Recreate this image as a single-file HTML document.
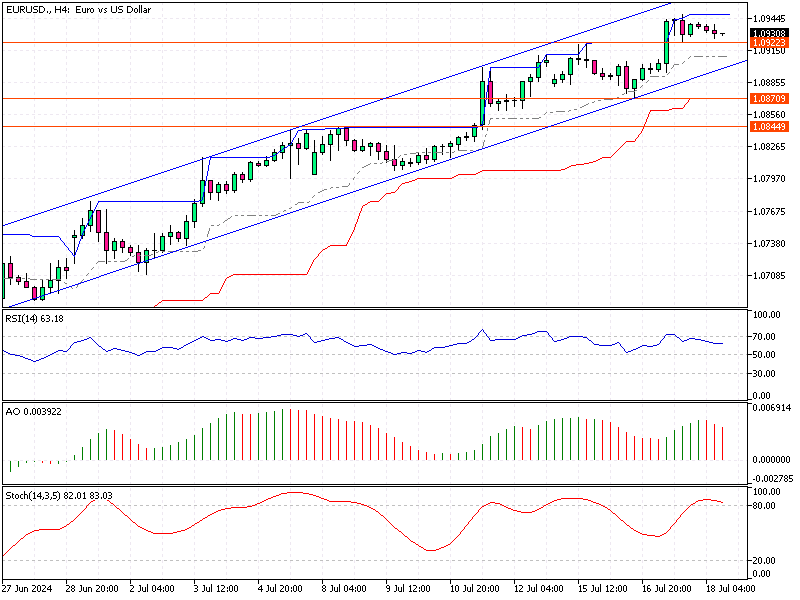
<!DOCTYPE html>
<html><head><meta charset="utf-8"><title>EURUSD H4</title>
<style>
html,body{margin:0;padding:0;background:#fff;}
body{width:800px;height:600px;overflow:hidden;font-family:"Liberation Sans",sans-serif;}
svg{display:block}
svg text{font-family:"Liberation Sans",sans-serif;white-space:pre}
</style></head><body>
<svg width="800" height="600" viewBox="0 0 800 600" shape-rendering="crispEdges" text-rendering="geometricPrecision">
<rect width="800" height="600" fill="#fff"/>
<path d="M34 3v2h1v-2zM34 8v3h1v-3zM34 14v3h1v-3zM34 20v3h1v-3zM34 26v3h1v-3zM34 32v3h1v-3zM34 38v3h1v-3zM34 44v3h1v-3zM34 50v3h1v-3zM34 56v3h1v-3zM34 62v3h1v-3zM34 68v3h1v-3zM34 74v3h1v-3zM34 80v3h1v-3zM34 86v3h1v-3zM34 92v3h1v-3zM34 98v3h1v-3zM34 104v3h1v-3zM34 110v3h1v-3zM34 116v3h1v-3zM34 122v3h1v-3zM34 128v3h1v-3zM34 134v3h1v-3zM34 140v3h1v-3zM34 146v3h1v-3zM34 152v3h1v-3zM34 158v3h1v-3zM34 164v3h1v-3zM34 170v3h1v-3zM34 176v3h1v-3zM34 182v3h1v-3zM34 188v3h1v-3zM34 194v3h1v-3zM34 200v3h1v-3zM34 206v3h1v-3zM34 212v3h1v-3zM34 218v3h1v-3zM34 224v3h1v-3zM34 230v3h1v-3zM34 236v3h1v-3zM34 242v3h1v-3zM34 248v3h1v-3zM34 254v3h1v-3zM34 260v3h1v-3zM34 266v3h1v-3zM34 272v3h1v-3zM34 278v3h1v-3zM34 284v3h1v-3zM34 290v3h1v-3zM34 296v3h1v-3zM34 302v3h1v-3z" fill="#EEE8F1"/>
<path d="M66 3v2h1v-2zM66 8v3h1v-3zM66 14v3h1v-3zM66 20v3h1v-3zM66 26v3h1v-3zM66 32v3h1v-3zM66 38v3h1v-3zM66 44v3h1v-3zM66 50v3h1v-3zM66 56v3h1v-3zM66 62v3h1v-3zM66 68v3h1v-3zM66 74v3h1v-3zM66 80v3h1v-3zM66 86v3h1v-3zM66 92v3h1v-3zM66 98v3h1v-3zM66 104v3h1v-3zM66 110v3h1v-3zM66 116v3h1v-3zM66 122v3h1v-3zM66 128v3h1v-3zM66 134v3h1v-3zM66 140v3h1v-3zM66 146v3h1v-3zM66 152v3h1v-3zM66 158v3h1v-3zM66 164v3h1v-3zM66 170v3h1v-3zM66 176v3h1v-3zM66 182v3h1v-3zM66 188v3h1v-3zM66 194v3h1v-3zM66 200v3h1v-3zM66 206v3h1v-3zM66 212v3h1v-3zM66 218v3h1v-3zM66 224v3h1v-3zM66 230v3h1v-3zM66 236v3h1v-3zM66 242v3h1v-3zM66 248v3h1v-3zM66 254v3h1v-3zM66 260v3h1v-3zM66 266v3h1v-3zM66 272v3h1v-3zM66 278v3h1v-3zM66 284v3h1v-3zM66 290v3h1v-3zM66 296v3h1v-3zM66 302v3h1v-3z" fill="#EEE8F1"/>
<path d="M98 3v2h1v-2zM98 8v3h1v-3zM98 14v3h1v-3zM98 20v3h1v-3zM98 26v3h1v-3zM98 32v3h1v-3zM98 38v3h1v-3zM98 44v3h1v-3zM98 50v3h1v-3zM98 56v3h1v-3zM98 62v3h1v-3zM98 68v3h1v-3zM98 74v3h1v-3zM98 80v3h1v-3zM98 86v3h1v-3zM98 92v3h1v-3zM98 98v3h1v-3zM98 104v3h1v-3zM98 110v3h1v-3zM98 116v3h1v-3zM98 122v3h1v-3zM98 128v3h1v-3zM98 134v3h1v-3zM98 140v3h1v-3zM98 146v3h1v-3zM98 152v3h1v-3zM98 158v3h1v-3zM98 164v3h1v-3zM98 170v3h1v-3zM98 176v3h1v-3zM98 182v3h1v-3zM98 188v3h1v-3zM98 194v3h1v-3zM98 200v3h1v-3zM98 206v3h1v-3zM98 212v3h1v-3zM98 218v3h1v-3zM98 224v3h1v-3zM98 230v3h1v-3zM98 236v3h1v-3zM98 242v3h1v-3zM98 248v3h1v-3zM98 254v3h1v-3zM98 260v3h1v-3zM98 266v3h1v-3zM98 272v3h1v-3zM98 278v3h1v-3zM98 284v3h1v-3zM98 290v3h1v-3zM98 296v3h1v-3zM98 302v3h1v-3z" fill="#EEE8F1"/>
<path d="M130 3v2h1v-2zM130 8v3h1v-3zM130 14v3h1v-3zM130 20v3h1v-3zM130 26v3h1v-3zM130 32v3h1v-3zM130 38v3h1v-3zM130 44v3h1v-3zM130 50v3h1v-3zM130 56v3h1v-3zM130 62v3h1v-3zM130 68v3h1v-3zM130 74v3h1v-3zM130 80v3h1v-3zM130 86v3h1v-3zM130 92v3h1v-3zM130 98v3h1v-3zM130 104v3h1v-3zM130 110v3h1v-3zM130 116v3h1v-3zM130 122v3h1v-3zM130 128v3h1v-3zM130 134v3h1v-3zM130 140v3h1v-3zM130 146v3h1v-3zM130 152v3h1v-3zM130 158v3h1v-3zM130 164v3h1v-3zM130 170v3h1v-3zM130 176v3h1v-3zM130 182v3h1v-3zM130 188v3h1v-3zM130 194v3h1v-3zM130 200v3h1v-3zM130 206v3h1v-3zM130 212v3h1v-3zM130 218v3h1v-3zM130 224v3h1v-3zM130 230v3h1v-3zM130 236v3h1v-3zM130 242v3h1v-3zM130 248v3h1v-3zM130 254v3h1v-3zM130 260v3h1v-3zM130 266v3h1v-3zM130 272v3h1v-3zM130 278v3h1v-3zM130 284v3h1v-3zM130 290v3h1v-3zM130 296v3h1v-3zM130 302v3h1v-3z" fill="#EEE8F1"/>
<path d="M162 3v2h1v-2zM162 8v3h1v-3zM162 14v3h1v-3zM162 20v3h1v-3zM162 26v3h1v-3zM162 32v3h1v-3zM162 38v3h1v-3zM162 44v3h1v-3zM162 50v3h1v-3zM162 56v3h1v-3zM162 62v3h1v-3zM162 68v3h1v-3zM162 74v3h1v-3zM162 80v3h1v-3zM162 86v3h1v-3zM162 92v3h1v-3zM162 98v3h1v-3zM162 104v3h1v-3zM162 110v3h1v-3zM162 116v3h1v-3zM162 122v3h1v-3zM162 128v3h1v-3zM162 134v3h1v-3zM162 140v3h1v-3zM162 146v3h1v-3zM162 152v3h1v-3zM162 158v3h1v-3zM162 164v3h1v-3zM162 170v3h1v-3zM162 176v3h1v-3zM162 182v3h1v-3zM162 188v3h1v-3zM162 194v3h1v-3zM162 200v3h1v-3zM162 206v3h1v-3zM162 212v3h1v-3zM162 218v3h1v-3zM162 224v3h1v-3zM162 230v3h1v-3zM162 236v3h1v-3zM162 242v3h1v-3zM162 248v3h1v-3zM162 254v3h1v-3zM162 260v3h1v-3zM162 266v3h1v-3zM162 272v3h1v-3zM162 278v3h1v-3zM162 284v3h1v-3zM162 290v3h1v-3zM162 296v3h1v-3zM162 302v3h1v-3z" fill="#EEE8F1"/>
<path d="M194 3v2h1v-2zM194 8v3h1v-3zM194 14v3h1v-3zM194 20v3h1v-3zM194 26v3h1v-3zM194 32v3h1v-3zM194 38v3h1v-3zM194 44v3h1v-3zM194 50v3h1v-3zM194 56v3h1v-3zM194 62v3h1v-3zM194 68v3h1v-3zM194 74v3h1v-3zM194 80v3h1v-3zM194 86v3h1v-3zM194 92v3h1v-3zM194 98v3h1v-3zM194 104v3h1v-3zM194 110v3h1v-3zM194 116v3h1v-3zM194 122v3h1v-3zM194 128v3h1v-3zM194 134v3h1v-3zM194 140v3h1v-3zM194 146v3h1v-3zM194 152v3h1v-3zM194 158v3h1v-3zM194 164v3h1v-3zM194 170v3h1v-3zM194 176v3h1v-3zM194 182v3h1v-3zM194 188v3h1v-3zM194 194v3h1v-3zM194 200v3h1v-3zM194 206v3h1v-3zM194 212v3h1v-3zM194 218v3h1v-3zM194 224v3h1v-3zM194 230v3h1v-3zM194 236v3h1v-3zM194 242v3h1v-3zM194 248v3h1v-3zM194 254v3h1v-3zM194 260v3h1v-3zM194 266v3h1v-3zM194 272v3h1v-3zM194 278v3h1v-3zM194 284v3h1v-3zM194 290v3h1v-3zM194 296v3h1v-3zM194 302v3h1v-3z" fill="#EEE8F1"/>
<path d="M226 3v2h1v-2zM226 8v3h1v-3zM226 14v3h1v-3zM226 20v3h1v-3zM226 26v3h1v-3zM226 32v3h1v-3zM226 38v3h1v-3zM226 44v3h1v-3zM226 50v3h1v-3zM226 56v3h1v-3zM226 62v3h1v-3zM226 68v3h1v-3zM226 74v3h1v-3zM226 80v3h1v-3zM226 86v3h1v-3zM226 92v3h1v-3zM226 98v3h1v-3zM226 104v3h1v-3zM226 110v3h1v-3zM226 116v3h1v-3zM226 122v3h1v-3zM226 128v3h1v-3zM226 134v3h1v-3zM226 140v3h1v-3zM226 146v3h1v-3zM226 152v3h1v-3zM226 158v3h1v-3zM226 164v3h1v-3zM226 170v3h1v-3zM226 176v3h1v-3zM226 182v3h1v-3zM226 188v3h1v-3zM226 194v3h1v-3zM226 200v3h1v-3zM226 206v3h1v-3zM226 212v3h1v-3zM226 218v3h1v-3zM226 224v3h1v-3zM226 230v3h1v-3zM226 236v3h1v-3zM226 242v3h1v-3zM226 248v3h1v-3zM226 254v3h1v-3zM226 260v3h1v-3zM226 266v3h1v-3zM226 272v3h1v-3zM226 278v3h1v-3zM226 284v3h1v-3zM226 290v3h1v-3zM226 296v3h1v-3zM226 302v3h1v-3z" fill="#EEE8F1"/>
<path d="M258 3v2h1v-2zM258 8v3h1v-3zM258 14v3h1v-3zM258 20v3h1v-3zM258 26v3h1v-3zM258 32v3h1v-3zM258 38v3h1v-3zM258 44v3h1v-3zM258 50v3h1v-3zM258 56v3h1v-3zM258 62v3h1v-3zM258 68v3h1v-3zM258 74v3h1v-3zM258 80v3h1v-3zM258 86v3h1v-3zM258 92v3h1v-3zM258 98v3h1v-3zM258 104v3h1v-3zM258 110v3h1v-3zM258 116v3h1v-3zM258 122v3h1v-3zM258 128v3h1v-3zM258 134v3h1v-3zM258 140v3h1v-3zM258 146v3h1v-3zM258 152v3h1v-3zM258 158v3h1v-3zM258 164v3h1v-3zM258 170v3h1v-3zM258 176v3h1v-3zM258 182v3h1v-3zM258 188v3h1v-3zM258 194v3h1v-3zM258 200v3h1v-3zM258 206v3h1v-3zM258 212v3h1v-3zM258 218v3h1v-3zM258 224v3h1v-3zM258 230v3h1v-3zM258 236v3h1v-3zM258 242v3h1v-3zM258 248v3h1v-3zM258 254v3h1v-3zM258 260v3h1v-3zM258 266v3h1v-3zM258 272v3h1v-3zM258 278v3h1v-3zM258 284v3h1v-3zM258 290v3h1v-3zM258 296v3h1v-3zM258 302v3h1v-3z" fill="#EEE8F1"/>
<path d="M290 3v2h1v-2zM290 8v3h1v-3zM290 14v3h1v-3zM290 20v3h1v-3zM290 26v3h1v-3zM290 32v3h1v-3zM290 38v3h1v-3zM290 44v3h1v-3zM290 50v3h1v-3zM290 56v3h1v-3zM290 62v3h1v-3zM290 68v3h1v-3zM290 74v3h1v-3zM290 80v3h1v-3zM290 86v3h1v-3zM290 92v3h1v-3zM290 98v3h1v-3zM290 104v3h1v-3zM290 110v3h1v-3zM290 116v3h1v-3zM290 122v3h1v-3zM290 128v3h1v-3zM290 134v3h1v-3zM290 140v3h1v-3zM290 146v3h1v-3zM290 152v3h1v-3zM290 158v3h1v-3zM290 164v3h1v-3zM290 170v3h1v-3zM290 176v3h1v-3zM290 182v3h1v-3zM290 188v3h1v-3zM290 194v3h1v-3zM290 200v3h1v-3zM290 206v3h1v-3zM290 212v3h1v-3zM290 218v3h1v-3zM290 224v3h1v-3zM290 230v3h1v-3zM290 236v3h1v-3zM290 242v3h1v-3zM290 248v3h1v-3zM290 254v3h1v-3zM290 260v3h1v-3zM290 266v3h1v-3zM290 272v3h1v-3zM290 278v3h1v-3zM290 284v3h1v-3zM290 290v3h1v-3zM290 296v3h1v-3zM290 302v3h1v-3z" fill="#EEE8F1"/>
<path d="M322 3v2h1v-2zM322 8v3h1v-3zM322 14v3h1v-3zM322 20v3h1v-3zM322 26v3h1v-3zM322 32v3h1v-3zM322 38v3h1v-3zM322 44v3h1v-3zM322 50v3h1v-3zM322 56v3h1v-3zM322 62v3h1v-3zM322 68v3h1v-3zM322 74v3h1v-3zM322 80v3h1v-3zM322 86v3h1v-3zM322 92v3h1v-3zM322 98v3h1v-3zM322 104v3h1v-3zM322 110v3h1v-3zM322 116v3h1v-3zM322 122v3h1v-3zM322 128v3h1v-3zM322 134v3h1v-3zM322 140v3h1v-3zM322 146v3h1v-3zM322 152v3h1v-3zM322 158v3h1v-3zM322 164v3h1v-3zM322 170v3h1v-3zM322 176v3h1v-3zM322 182v3h1v-3zM322 188v3h1v-3zM322 194v3h1v-3zM322 200v3h1v-3zM322 206v3h1v-3zM322 212v3h1v-3zM322 218v3h1v-3zM322 224v3h1v-3zM322 230v3h1v-3zM322 236v3h1v-3zM322 242v3h1v-3zM322 248v3h1v-3zM322 254v3h1v-3zM322 260v3h1v-3zM322 266v3h1v-3zM322 272v3h1v-3zM322 278v3h1v-3zM322 284v3h1v-3zM322 290v3h1v-3zM322 296v3h1v-3zM322 302v3h1v-3z" fill="#EEE8F1"/>
<path d="M354 3v2h1v-2zM354 8v3h1v-3zM354 14v3h1v-3zM354 20v3h1v-3zM354 26v3h1v-3zM354 32v3h1v-3zM354 38v3h1v-3zM354 44v3h1v-3zM354 50v3h1v-3zM354 56v3h1v-3zM354 62v3h1v-3zM354 68v3h1v-3zM354 74v3h1v-3zM354 80v3h1v-3zM354 86v3h1v-3zM354 92v3h1v-3zM354 98v3h1v-3zM354 104v3h1v-3zM354 110v3h1v-3zM354 116v3h1v-3zM354 122v3h1v-3zM354 128v3h1v-3zM354 134v3h1v-3zM354 140v3h1v-3zM354 146v3h1v-3zM354 152v3h1v-3zM354 158v3h1v-3zM354 164v3h1v-3zM354 170v3h1v-3zM354 176v3h1v-3zM354 182v3h1v-3zM354 188v3h1v-3zM354 194v3h1v-3zM354 200v3h1v-3zM354 206v3h1v-3zM354 212v3h1v-3zM354 218v3h1v-3zM354 224v3h1v-3zM354 230v3h1v-3zM354 236v3h1v-3zM354 242v3h1v-3zM354 248v3h1v-3zM354 254v3h1v-3zM354 260v3h1v-3zM354 266v3h1v-3zM354 272v3h1v-3zM354 278v3h1v-3zM354 284v3h1v-3zM354 290v3h1v-3zM354 296v3h1v-3zM354 302v3h1v-3z" fill="#EEE8F1"/>
<path d="M386 3v2h1v-2zM386 8v3h1v-3zM386 14v3h1v-3zM386 20v3h1v-3zM386 26v3h1v-3zM386 32v3h1v-3zM386 38v3h1v-3zM386 44v3h1v-3zM386 50v3h1v-3zM386 56v3h1v-3zM386 62v3h1v-3zM386 68v3h1v-3zM386 74v3h1v-3zM386 80v3h1v-3zM386 86v3h1v-3zM386 92v3h1v-3zM386 98v3h1v-3zM386 104v3h1v-3zM386 110v3h1v-3zM386 116v3h1v-3zM386 122v3h1v-3zM386 128v3h1v-3zM386 134v3h1v-3zM386 140v3h1v-3zM386 146v3h1v-3zM386 152v3h1v-3zM386 158v3h1v-3zM386 164v3h1v-3zM386 170v3h1v-3zM386 176v3h1v-3zM386 182v3h1v-3zM386 188v3h1v-3zM386 194v3h1v-3zM386 200v3h1v-3zM386 206v3h1v-3zM386 212v3h1v-3zM386 218v3h1v-3zM386 224v3h1v-3zM386 230v3h1v-3zM386 236v3h1v-3zM386 242v3h1v-3zM386 248v3h1v-3zM386 254v3h1v-3zM386 260v3h1v-3zM386 266v3h1v-3zM386 272v3h1v-3zM386 278v3h1v-3zM386 284v3h1v-3zM386 290v3h1v-3zM386 296v3h1v-3zM386 302v3h1v-3z" fill="#EEE8F1"/>
<path d="M418 3v2h1v-2zM418 8v3h1v-3zM418 14v3h1v-3zM418 20v3h1v-3zM418 26v3h1v-3zM418 32v3h1v-3zM418 38v3h1v-3zM418 44v3h1v-3zM418 50v3h1v-3zM418 56v3h1v-3zM418 62v3h1v-3zM418 68v3h1v-3zM418 74v3h1v-3zM418 80v3h1v-3zM418 86v3h1v-3zM418 92v3h1v-3zM418 98v3h1v-3zM418 104v3h1v-3zM418 110v3h1v-3zM418 116v3h1v-3zM418 122v3h1v-3zM418 128v3h1v-3zM418 134v3h1v-3zM418 140v3h1v-3zM418 146v3h1v-3zM418 152v3h1v-3zM418 158v3h1v-3zM418 164v3h1v-3zM418 170v3h1v-3zM418 176v3h1v-3zM418 182v3h1v-3zM418 188v3h1v-3zM418 194v3h1v-3zM418 200v3h1v-3zM418 206v3h1v-3zM418 212v3h1v-3zM418 218v3h1v-3zM418 224v3h1v-3zM418 230v3h1v-3zM418 236v3h1v-3zM418 242v3h1v-3zM418 248v3h1v-3zM418 254v3h1v-3zM418 260v3h1v-3zM418 266v3h1v-3zM418 272v3h1v-3zM418 278v3h1v-3zM418 284v3h1v-3zM418 290v3h1v-3zM418 296v3h1v-3zM418 302v3h1v-3z" fill="#EEE8F1"/>
<path d="M450 3v2h1v-2zM450 8v3h1v-3zM450 14v3h1v-3zM450 20v3h1v-3zM450 26v3h1v-3zM450 32v3h1v-3zM450 38v3h1v-3zM450 44v3h1v-3zM450 50v3h1v-3zM450 56v3h1v-3zM450 62v3h1v-3zM450 68v3h1v-3zM450 74v3h1v-3zM450 80v3h1v-3zM450 86v3h1v-3zM450 92v3h1v-3zM450 98v3h1v-3zM450 104v3h1v-3zM450 110v3h1v-3zM450 116v3h1v-3zM450 122v3h1v-3zM450 128v3h1v-3zM450 134v3h1v-3zM450 140v3h1v-3zM450 146v3h1v-3zM450 152v3h1v-3zM450 158v3h1v-3zM450 164v3h1v-3zM450 170v3h1v-3zM450 176v3h1v-3zM450 182v3h1v-3zM450 188v3h1v-3zM450 194v3h1v-3zM450 200v3h1v-3zM450 206v3h1v-3zM450 212v3h1v-3zM450 218v3h1v-3zM450 224v3h1v-3zM450 230v3h1v-3zM450 236v3h1v-3zM450 242v3h1v-3zM450 248v3h1v-3zM450 254v3h1v-3zM450 260v3h1v-3zM450 266v3h1v-3zM450 272v3h1v-3zM450 278v3h1v-3zM450 284v3h1v-3zM450 290v3h1v-3zM450 296v3h1v-3zM450 302v3h1v-3z" fill="#EEE8F1"/>
<path d="M482 3v2h1v-2zM482 8v3h1v-3zM482 14v3h1v-3zM482 20v3h1v-3zM482 26v3h1v-3zM482 32v3h1v-3zM482 38v3h1v-3zM482 44v3h1v-3zM482 50v3h1v-3zM482 56v3h1v-3zM482 62v3h1v-3zM482 68v3h1v-3zM482 74v3h1v-3zM482 80v3h1v-3zM482 86v3h1v-3zM482 92v3h1v-3zM482 98v3h1v-3zM482 104v3h1v-3zM482 110v3h1v-3zM482 116v3h1v-3zM482 122v3h1v-3zM482 128v3h1v-3zM482 134v3h1v-3zM482 140v3h1v-3zM482 146v3h1v-3zM482 152v3h1v-3zM482 158v3h1v-3zM482 164v3h1v-3zM482 170v3h1v-3zM482 176v3h1v-3zM482 182v3h1v-3zM482 188v3h1v-3zM482 194v3h1v-3zM482 200v3h1v-3zM482 206v3h1v-3zM482 212v3h1v-3zM482 218v3h1v-3zM482 224v3h1v-3zM482 230v3h1v-3zM482 236v3h1v-3zM482 242v3h1v-3zM482 248v3h1v-3zM482 254v3h1v-3zM482 260v3h1v-3zM482 266v3h1v-3zM482 272v3h1v-3zM482 278v3h1v-3zM482 284v3h1v-3zM482 290v3h1v-3zM482 296v3h1v-3zM482 302v3h1v-3z" fill="#EEE8F1"/>
<path d="M514 3v2h1v-2zM514 8v3h1v-3zM514 14v3h1v-3zM514 20v3h1v-3zM514 26v3h1v-3zM514 32v3h1v-3zM514 38v3h1v-3zM514 44v3h1v-3zM514 50v3h1v-3zM514 56v3h1v-3zM514 62v3h1v-3zM514 68v3h1v-3zM514 74v3h1v-3zM514 80v3h1v-3zM514 86v3h1v-3zM514 92v3h1v-3zM514 98v3h1v-3zM514 104v3h1v-3zM514 110v3h1v-3zM514 116v3h1v-3zM514 122v3h1v-3zM514 128v3h1v-3zM514 134v3h1v-3zM514 140v3h1v-3zM514 146v3h1v-3zM514 152v3h1v-3zM514 158v3h1v-3zM514 164v3h1v-3zM514 170v3h1v-3zM514 176v3h1v-3zM514 182v3h1v-3zM514 188v3h1v-3zM514 194v3h1v-3zM514 200v3h1v-3zM514 206v3h1v-3zM514 212v3h1v-3zM514 218v3h1v-3zM514 224v3h1v-3zM514 230v3h1v-3zM514 236v3h1v-3zM514 242v3h1v-3zM514 248v3h1v-3zM514 254v3h1v-3zM514 260v3h1v-3zM514 266v3h1v-3zM514 272v3h1v-3zM514 278v3h1v-3zM514 284v3h1v-3zM514 290v3h1v-3zM514 296v3h1v-3zM514 302v3h1v-3z" fill="#EEE8F1"/>
<path d="M546 3v2h1v-2zM546 8v3h1v-3zM546 14v3h1v-3zM546 20v3h1v-3zM546 26v3h1v-3zM546 32v3h1v-3zM546 38v3h1v-3zM546 44v3h1v-3zM546 50v3h1v-3zM546 56v3h1v-3zM546 62v3h1v-3zM546 68v3h1v-3zM546 74v3h1v-3zM546 80v3h1v-3zM546 86v3h1v-3zM546 92v3h1v-3zM546 98v3h1v-3zM546 104v3h1v-3zM546 110v3h1v-3zM546 116v3h1v-3zM546 122v3h1v-3zM546 128v3h1v-3zM546 134v3h1v-3zM546 140v3h1v-3zM546 146v3h1v-3zM546 152v3h1v-3zM546 158v3h1v-3zM546 164v3h1v-3zM546 170v3h1v-3zM546 176v3h1v-3zM546 182v3h1v-3zM546 188v3h1v-3zM546 194v3h1v-3zM546 200v3h1v-3zM546 206v3h1v-3zM546 212v3h1v-3zM546 218v3h1v-3zM546 224v3h1v-3zM546 230v3h1v-3zM546 236v3h1v-3zM546 242v3h1v-3zM546 248v3h1v-3zM546 254v3h1v-3zM546 260v3h1v-3zM546 266v3h1v-3zM546 272v3h1v-3zM546 278v3h1v-3zM546 284v3h1v-3zM546 290v3h1v-3zM546 296v3h1v-3zM546 302v3h1v-3z" fill="#EEE8F1"/>
<path d="M578 3v2h1v-2zM578 8v3h1v-3zM578 14v3h1v-3zM578 20v3h1v-3zM578 26v3h1v-3zM578 32v3h1v-3zM578 38v3h1v-3zM578 44v3h1v-3zM578 50v3h1v-3zM578 56v3h1v-3zM578 62v3h1v-3zM578 68v3h1v-3zM578 74v3h1v-3zM578 80v3h1v-3zM578 86v3h1v-3zM578 92v3h1v-3zM578 98v3h1v-3zM578 104v3h1v-3zM578 110v3h1v-3zM578 116v3h1v-3zM578 122v3h1v-3zM578 128v3h1v-3zM578 134v3h1v-3zM578 140v3h1v-3zM578 146v3h1v-3zM578 152v3h1v-3zM578 158v3h1v-3zM578 164v3h1v-3zM578 170v3h1v-3zM578 176v3h1v-3zM578 182v3h1v-3zM578 188v3h1v-3zM578 194v3h1v-3zM578 200v3h1v-3zM578 206v3h1v-3zM578 212v3h1v-3zM578 218v3h1v-3zM578 224v3h1v-3zM578 230v3h1v-3zM578 236v3h1v-3zM578 242v3h1v-3zM578 248v3h1v-3zM578 254v3h1v-3zM578 260v3h1v-3zM578 266v3h1v-3zM578 272v3h1v-3zM578 278v3h1v-3zM578 284v3h1v-3zM578 290v3h1v-3zM578 296v3h1v-3zM578 302v3h1v-3z" fill="#EEE8F1"/>
<path d="M610 3v2h1v-2zM610 8v3h1v-3zM610 14v3h1v-3zM610 20v3h1v-3zM610 26v3h1v-3zM610 32v3h1v-3zM610 38v3h1v-3zM610 44v3h1v-3zM610 50v3h1v-3zM610 56v3h1v-3zM610 62v3h1v-3zM610 68v3h1v-3zM610 74v3h1v-3zM610 80v3h1v-3zM610 86v3h1v-3zM610 92v3h1v-3zM610 98v3h1v-3zM610 104v3h1v-3zM610 110v3h1v-3zM610 116v3h1v-3zM610 122v3h1v-3zM610 128v3h1v-3zM610 134v3h1v-3zM610 140v3h1v-3zM610 146v3h1v-3zM610 152v3h1v-3zM610 158v3h1v-3zM610 164v3h1v-3zM610 170v3h1v-3zM610 176v3h1v-3zM610 182v3h1v-3zM610 188v3h1v-3zM610 194v3h1v-3zM610 200v3h1v-3zM610 206v3h1v-3zM610 212v3h1v-3zM610 218v3h1v-3zM610 224v3h1v-3zM610 230v3h1v-3zM610 236v3h1v-3zM610 242v3h1v-3zM610 248v3h1v-3zM610 254v3h1v-3zM610 260v3h1v-3zM610 266v3h1v-3zM610 272v3h1v-3zM610 278v3h1v-3zM610 284v3h1v-3zM610 290v3h1v-3zM610 296v3h1v-3zM610 302v3h1v-3z" fill="#EEE8F1"/>
<path d="M642 3v2h1v-2zM642 8v3h1v-3zM642 14v3h1v-3zM642 20v3h1v-3zM642 26v3h1v-3zM642 32v3h1v-3zM642 38v3h1v-3zM642 44v3h1v-3zM642 50v3h1v-3zM642 56v3h1v-3zM642 62v3h1v-3zM642 68v3h1v-3zM642 74v3h1v-3zM642 80v3h1v-3zM642 86v3h1v-3zM642 92v3h1v-3zM642 98v3h1v-3zM642 104v3h1v-3zM642 110v3h1v-3zM642 116v3h1v-3zM642 122v3h1v-3zM642 128v3h1v-3zM642 134v3h1v-3zM642 140v3h1v-3zM642 146v3h1v-3zM642 152v3h1v-3zM642 158v3h1v-3zM642 164v3h1v-3zM642 170v3h1v-3zM642 176v3h1v-3zM642 182v3h1v-3zM642 188v3h1v-3zM642 194v3h1v-3zM642 200v3h1v-3zM642 206v3h1v-3zM642 212v3h1v-3zM642 218v3h1v-3zM642 224v3h1v-3zM642 230v3h1v-3zM642 236v3h1v-3zM642 242v3h1v-3zM642 248v3h1v-3zM642 254v3h1v-3zM642 260v3h1v-3zM642 266v3h1v-3zM642 272v3h1v-3zM642 278v3h1v-3zM642 284v3h1v-3zM642 290v3h1v-3zM642 296v3h1v-3zM642 302v3h1v-3z" fill="#EEE8F1"/>
<path d="M674 3v2h1v-2zM674 8v3h1v-3zM674 14v3h1v-3zM674 20v3h1v-3zM674 26v3h1v-3zM674 32v3h1v-3zM674 38v3h1v-3zM674 44v3h1v-3zM674 50v3h1v-3zM674 56v3h1v-3zM674 62v3h1v-3zM674 68v3h1v-3zM674 74v3h1v-3zM674 80v3h1v-3zM674 86v3h1v-3zM674 92v3h1v-3zM674 98v3h1v-3zM674 104v3h1v-3zM674 110v3h1v-3zM674 116v3h1v-3zM674 122v3h1v-3zM674 128v3h1v-3zM674 134v3h1v-3zM674 140v3h1v-3zM674 146v3h1v-3zM674 152v3h1v-3zM674 158v3h1v-3zM674 164v3h1v-3zM674 170v3h1v-3zM674 176v3h1v-3zM674 182v3h1v-3zM674 188v3h1v-3zM674 194v3h1v-3zM674 200v3h1v-3zM674 206v3h1v-3zM674 212v3h1v-3zM674 218v3h1v-3zM674 224v3h1v-3zM674 230v3h1v-3zM674 236v3h1v-3zM674 242v3h1v-3zM674 248v3h1v-3zM674 254v3h1v-3zM674 260v3h1v-3zM674 266v3h1v-3zM674 272v3h1v-3zM674 278v3h1v-3zM674 284v3h1v-3zM674 290v3h1v-3zM674 296v3h1v-3zM674 302v3h1v-3z" fill="#EEE8F1"/>
<path d="M706 3v2h1v-2zM706 8v3h1v-3zM706 14v3h1v-3zM706 20v3h1v-3zM706 26v3h1v-3zM706 32v3h1v-3zM706 38v3h1v-3zM706 44v3h1v-3zM706 50v3h1v-3zM706 56v3h1v-3zM706 62v3h1v-3zM706 68v3h1v-3zM706 74v3h1v-3zM706 80v3h1v-3zM706 86v3h1v-3zM706 92v3h1v-3zM706 98v3h1v-3zM706 104v3h1v-3zM706 110v3h1v-3zM706 116v3h1v-3zM706 122v3h1v-3zM706 128v3h1v-3zM706 134v3h1v-3zM706 140v3h1v-3zM706 146v3h1v-3zM706 152v3h1v-3zM706 158v3h1v-3zM706 164v3h1v-3zM706 170v3h1v-3zM706 176v3h1v-3zM706 182v3h1v-3zM706 188v3h1v-3zM706 194v3h1v-3zM706 200v3h1v-3zM706 206v3h1v-3zM706 212v3h1v-3zM706 218v3h1v-3zM706 224v3h1v-3zM706 230v3h1v-3zM706 236v3h1v-3zM706 242v3h1v-3zM706 248v3h1v-3zM706 254v3h1v-3zM706 260v3h1v-3zM706 266v3h1v-3zM706 272v3h1v-3zM706 278v3h1v-3zM706 284v3h1v-3zM706 290v3h1v-3zM706 296v3h1v-3zM706 302v3h1v-3z" fill="#EEE8F1"/>
<path d="M738 3v2h1v-2zM738 8v3h1v-3zM738 14v3h1v-3zM738 20v3h1v-3zM738 26v3h1v-3zM738 32v3h1v-3zM738 38v3h1v-3zM738 44v3h1v-3zM738 50v3h1v-3zM738 56v3h1v-3zM738 62v3h1v-3zM738 68v3h1v-3zM738 74v3h1v-3zM738 80v3h1v-3zM738 86v3h1v-3zM738 92v3h1v-3zM738 98v3h1v-3zM738 104v3h1v-3zM738 110v3h1v-3zM738 116v3h1v-3zM738 122v3h1v-3zM738 128v3h1v-3zM738 134v3h1v-3zM738 140v3h1v-3zM738 146v3h1v-3zM738 152v3h1v-3zM738 158v3h1v-3zM738 164v3h1v-3zM738 170v3h1v-3zM738 176v3h1v-3zM738 182v3h1v-3zM738 188v3h1v-3zM738 194v3h1v-3zM738 200v3h1v-3zM738 206v3h1v-3zM738 212v3h1v-3zM738 218v3h1v-3zM738 224v3h1v-3zM738 230v3h1v-3zM738 236v3h1v-3zM738 242v3h1v-3zM738 248v3h1v-3zM738 254v3h1v-3zM738 260v3h1v-3zM738 266v3h1v-3zM738 272v3h1v-3zM738 278v3h1v-3zM738 284v3h1v-3zM738 290v3h1v-3zM738 296v3h1v-3zM738 302v3h1v-3z" fill="#EEE8F1"/>
<path d="M34 310v1h1v-1zM34 314v3h1v-3zM34 320v3h1v-3zM34 326v3h1v-3zM34 332v3h1v-3zM34 338v3h1v-3zM34 344v3h1v-3zM34 350v3h1v-3zM34 356v3h1v-3zM34 362v3h1v-3zM34 368v3h1v-3zM34 374v3h1v-3zM34 380v3h1v-3zM34 386v3h1v-3zM34 392v3h1v-3zM34 398v2h1v-2z" fill="#EEE8F1"/>
<path d="M66 310v1h1v-1zM66 314v3h1v-3zM66 320v3h1v-3zM66 326v3h1v-3zM66 332v3h1v-3zM66 338v3h1v-3zM66 344v3h1v-3zM66 350v3h1v-3zM66 356v3h1v-3zM66 362v3h1v-3zM66 368v3h1v-3zM66 374v3h1v-3zM66 380v3h1v-3zM66 386v3h1v-3zM66 392v3h1v-3zM66 398v2h1v-2z" fill="#EEE8F1"/>
<path d="M98 310v1h1v-1zM98 314v3h1v-3zM98 320v3h1v-3zM98 326v3h1v-3zM98 332v3h1v-3zM98 338v3h1v-3zM98 344v3h1v-3zM98 350v3h1v-3zM98 356v3h1v-3zM98 362v3h1v-3zM98 368v3h1v-3zM98 374v3h1v-3zM98 380v3h1v-3zM98 386v3h1v-3zM98 392v3h1v-3zM98 398v2h1v-2z" fill="#EEE8F1"/>
<path d="M130 310v1h1v-1zM130 314v3h1v-3zM130 320v3h1v-3zM130 326v3h1v-3zM130 332v3h1v-3zM130 338v3h1v-3zM130 344v3h1v-3zM130 350v3h1v-3zM130 356v3h1v-3zM130 362v3h1v-3zM130 368v3h1v-3zM130 374v3h1v-3zM130 380v3h1v-3zM130 386v3h1v-3zM130 392v3h1v-3zM130 398v2h1v-2z" fill="#EEE8F1"/>
<path d="M162 310v1h1v-1zM162 314v3h1v-3zM162 320v3h1v-3zM162 326v3h1v-3zM162 332v3h1v-3zM162 338v3h1v-3zM162 344v3h1v-3zM162 350v3h1v-3zM162 356v3h1v-3zM162 362v3h1v-3zM162 368v3h1v-3zM162 374v3h1v-3zM162 380v3h1v-3zM162 386v3h1v-3zM162 392v3h1v-3zM162 398v2h1v-2z" fill="#EEE8F1"/>
<path d="M194 310v1h1v-1zM194 314v3h1v-3zM194 320v3h1v-3zM194 326v3h1v-3zM194 332v3h1v-3zM194 338v3h1v-3zM194 344v3h1v-3zM194 350v3h1v-3zM194 356v3h1v-3zM194 362v3h1v-3zM194 368v3h1v-3zM194 374v3h1v-3zM194 380v3h1v-3zM194 386v3h1v-3zM194 392v3h1v-3zM194 398v2h1v-2z" fill="#EEE8F1"/>
<path d="M226 310v1h1v-1zM226 314v3h1v-3zM226 320v3h1v-3zM226 326v3h1v-3zM226 332v3h1v-3zM226 338v3h1v-3zM226 344v3h1v-3zM226 350v3h1v-3zM226 356v3h1v-3zM226 362v3h1v-3zM226 368v3h1v-3zM226 374v3h1v-3zM226 380v3h1v-3zM226 386v3h1v-3zM226 392v3h1v-3zM226 398v2h1v-2z" fill="#EEE8F1"/>
<path d="M258 310v1h1v-1zM258 314v3h1v-3zM258 320v3h1v-3zM258 326v3h1v-3zM258 332v3h1v-3zM258 338v3h1v-3zM258 344v3h1v-3zM258 350v3h1v-3zM258 356v3h1v-3zM258 362v3h1v-3zM258 368v3h1v-3zM258 374v3h1v-3zM258 380v3h1v-3zM258 386v3h1v-3zM258 392v3h1v-3zM258 398v2h1v-2z" fill="#EEE8F1"/>
<path d="M290 310v1h1v-1zM290 314v3h1v-3zM290 320v3h1v-3zM290 326v3h1v-3zM290 332v3h1v-3zM290 338v3h1v-3zM290 344v3h1v-3zM290 350v3h1v-3zM290 356v3h1v-3zM290 362v3h1v-3zM290 368v3h1v-3zM290 374v3h1v-3zM290 380v3h1v-3zM290 386v3h1v-3zM290 392v3h1v-3zM290 398v2h1v-2z" fill="#EEE8F1"/>
<path d="M322 310v1h1v-1zM322 314v3h1v-3zM322 320v3h1v-3zM322 326v3h1v-3zM322 332v3h1v-3zM322 338v3h1v-3zM322 344v3h1v-3zM322 350v3h1v-3zM322 356v3h1v-3zM322 362v3h1v-3zM322 368v3h1v-3zM322 374v3h1v-3zM322 380v3h1v-3zM322 386v3h1v-3zM322 392v3h1v-3zM322 398v2h1v-2z" fill="#EEE8F1"/>
<path d="M354 310v1h1v-1zM354 314v3h1v-3zM354 320v3h1v-3zM354 326v3h1v-3zM354 332v3h1v-3zM354 338v3h1v-3zM354 344v3h1v-3zM354 350v3h1v-3zM354 356v3h1v-3zM354 362v3h1v-3zM354 368v3h1v-3zM354 374v3h1v-3zM354 380v3h1v-3zM354 386v3h1v-3zM354 392v3h1v-3zM354 398v2h1v-2z" fill="#EEE8F1"/>
<path d="M386 310v1h1v-1zM386 314v3h1v-3zM386 320v3h1v-3zM386 326v3h1v-3zM386 332v3h1v-3zM386 338v3h1v-3zM386 344v3h1v-3zM386 350v3h1v-3zM386 356v3h1v-3zM386 362v3h1v-3zM386 368v3h1v-3zM386 374v3h1v-3zM386 380v3h1v-3zM386 386v3h1v-3zM386 392v3h1v-3zM386 398v2h1v-2z" fill="#EEE8F1"/>
<path d="M418 310v1h1v-1zM418 314v3h1v-3zM418 320v3h1v-3zM418 326v3h1v-3zM418 332v3h1v-3zM418 338v3h1v-3zM418 344v3h1v-3zM418 350v3h1v-3zM418 356v3h1v-3zM418 362v3h1v-3zM418 368v3h1v-3zM418 374v3h1v-3zM418 380v3h1v-3zM418 386v3h1v-3zM418 392v3h1v-3zM418 398v2h1v-2z" fill="#EEE8F1"/>
<path d="M450 310v1h1v-1zM450 314v3h1v-3zM450 320v3h1v-3zM450 326v3h1v-3zM450 332v3h1v-3zM450 338v3h1v-3zM450 344v3h1v-3zM450 350v3h1v-3zM450 356v3h1v-3zM450 362v3h1v-3zM450 368v3h1v-3zM450 374v3h1v-3zM450 380v3h1v-3zM450 386v3h1v-3zM450 392v3h1v-3zM450 398v2h1v-2z" fill="#EEE8F1"/>
<path d="M482 310v1h1v-1zM482 314v3h1v-3zM482 320v3h1v-3zM482 326v3h1v-3zM482 332v3h1v-3zM482 338v3h1v-3zM482 344v3h1v-3zM482 350v3h1v-3zM482 356v3h1v-3zM482 362v3h1v-3zM482 368v3h1v-3zM482 374v3h1v-3zM482 380v3h1v-3zM482 386v3h1v-3zM482 392v3h1v-3zM482 398v2h1v-2z" fill="#EEE8F1"/>
<path d="M514 310v1h1v-1zM514 314v3h1v-3zM514 320v3h1v-3zM514 326v3h1v-3zM514 332v3h1v-3zM514 338v3h1v-3zM514 344v3h1v-3zM514 350v3h1v-3zM514 356v3h1v-3zM514 362v3h1v-3zM514 368v3h1v-3zM514 374v3h1v-3zM514 380v3h1v-3zM514 386v3h1v-3zM514 392v3h1v-3zM514 398v2h1v-2z" fill="#EEE8F1"/>
<path d="M546 310v1h1v-1zM546 314v3h1v-3zM546 320v3h1v-3zM546 326v3h1v-3zM546 332v3h1v-3zM546 338v3h1v-3zM546 344v3h1v-3zM546 350v3h1v-3zM546 356v3h1v-3zM546 362v3h1v-3zM546 368v3h1v-3zM546 374v3h1v-3zM546 380v3h1v-3zM546 386v3h1v-3zM546 392v3h1v-3zM546 398v2h1v-2z" fill="#EEE8F1"/>
<path d="M578 310v1h1v-1zM578 314v3h1v-3zM578 320v3h1v-3zM578 326v3h1v-3zM578 332v3h1v-3zM578 338v3h1v-3zM578 344v3h1v-3zM578 350v3h1v-3zM578 356v3h1v-3zM578 362v3h1v-3zM578 368v3h1v-3zM578 374v3h1v-3zM578 380v3h1v-3zM578 386v3h1v-3zM578 392v3h1v-3zM578 398v2h1v-2z" fill="#EEE8F1"/>
<path d="M610 310v1h1v-1zM610 314v3h1v-3zM610 320v3h1v-3zM610 326v3h1v-3zM610 332v3h1v-3zM610 338v3h1v-3zM610 344v3h1v-3zM610 350v3h1v-3zM610 356v3h1v-3zM610 362v3h1v-3zM610 368v3h1v-3zM610 374v3h1v-3zM610 380v3h1v-3zM610 386v3h1v-3zM610 392v3h1v-3zM610 398v2h1v-2z" fill="#EEE8F1"/>
<path d="M642 310v1h1v-1zM642 314v3h1v-3zM642 320v3h1v-3zM642 326v3h1v-3zM642 332v3h1v-3zM642 338v3h1v-3zM642 344v3h1v-3zM642 350v3h1v-3zM642 356v3h1v-3zM642 362v3h1v-3zM642 368v3h1v-3zM642 374v3h1v-3zM642 380v3h1v-3zM642 386v3h1v-3zM642 392v3h1v-3zM642 398v2h1v-2z" fill="#EEE8F1"/>
<path d="M674 310v1h1v-1zM674 314v3h1v-3zM674 320v3h1v-3zM674 326v3h1v-3zM674 332v3h1v-3zM674 338v3h1v-3zM674 344v3h1v-3zM674 350v3h1v-3zM674 356v3h1v-3zM674 362v3h1v-3zM674 368v3h1v-3zM674 374v3h1v-3zM674 380v3h1v-3zM674 386v3h1v-3zM674 392v3h1v-3zM674 398v2h1v-2z" fill="#EEE8F1"/>
<path d="M706 310v1h1v-1zM706 314v3h1v-3zM706 320v3h1v-3zM706 326v3h1v-3zM706 332v3h1v-3zM706 338v3h1v-3zM706 344v3h1v-3zM706 350v3h1v-3zM706 356v3h1v-3zM706 362v3h1v-3zM706 368v3h1v-3zM706 374v3h1v-3zM706 380v3h1v-3zM706 386v3h1v-3zM706 392v3h1v-3zM706 398v2h1v-2z" fill="#EEE8F1"/>
<path d="M738 310v1h1v-1zM738 314v3h1v-3zM738 320v3h1v-3zM738 326v3h1v-3zM738 332v3h1v-3zM738 338v3h1v-3zM738 344v3h1v-3zM738 350v3h1v-3zM738 356v3h1v-3zM738 362v3h1v-3zM738 368v3h1v-3zM738 374v3h1v-3zM738 380v3h1v-3zM738 386v3h1v-3zM738 392v3h1v-3zM738 398v2h1v-2z" fill="#EEE8F1"/>
<path d="M34 404v3h1v-3zM34 410v3h1v-3zM34 416v3h1v-3zM34 422v3h1v-3zM34 428v3h1v-3zM34 434v3h1v-3zM34 440v3h1v-3zM34 446v3h1v-3zM34 452v3h1v-3zM34 458v3h1v-3zM34 464v3h1v-3zM34 470v3h1v-3zM34 476v3h1v-3zM34 482v2h1v-2z" fill="#EEE8F1"/>
<path d="M66 404v3h1v-3zM66 410v3h1v-3zM66 416v3h1v-3zM66 422v3h1v-3zM66 428v3h1v-3zM66 434v3h1v-3zM66 440v3h1v-3zM66 446v3h1v-3zM66 452v3h1v-3zM66 458v3h1v-3zM66 464v3h1v-3zM66 470v3h1v-3zM66 476v3h1v-3zM66 482v2h1v-2z" fill="#EEE8F1"/>
<path d="M98 404v3h1v-3zM98 410v3h1v-3zM98 416v3h1v-3zM98 422v3h1v-3zM98 428v3h1v-3zM98 434v3h1v-3zM98 440v3h1v-3zM98 446v3h1v-3zM98 452v3h1v-3zM98 458v3h1v-3zM98 464v3h1v-3zM98 470v3h1v-3zM98 476v3h1v-3zM98 482v2h1v-2z" fill="#EEE8F1"/>
<path d="M130 404v3h1v-3zM130 410v3h1v-3zM130 416v3h1v-3zM130 422v3h1v-3zM130 428v3h1v-3zM130 434v3h1v-3zM130 440v3h1v-3zM130 446v3h1v-3zM130 452v3h1v-3zM130 458v3h1v-3zM130 464v3h1v-3zM130 470v3h1v-3zM130 476v3h1v-3zM130 482v2h1v-2z" fill="#EEE8F1"/>
<path d="M162 404v3h1v-3zM162 410v3h1v-3zM162 416v3h1v-3zM162 422v3h1v-3zM162 428v3h1v-3zM162 434v3h1v-3zM162 440v3h1v-3zM162 446v3h1v-3zM162 452v3h1v-3zM162 458v3h1v-3zM162 464v3h1v-3zM162 470v3h1v-3zM162 476v3h1v-3zM162 482v2h1v-2z" fill="#EEE8F1"/>
<path d="M194 404v3h1v-3zM194 410v3h1v-3zM194 416v3h1v-3zM194 422v3h1v-3zM194 428v3h1v-3zM194 434v3h1v-3zM194 440v3h1v-3zM194 446v3h1v-3zM194 452v3h1v-3zM194 458v3h1v-3zM194 464v3h1v-3zM194 470v3h1v-3zM194 476v3h1v-3zM194 482v2h1v-2z" fill="#EEE8F1"/>
<path d="M226 404v3h1v-3zM226 410v3h1v-3zM226 416v3h1v-3zM226 422v3h1v-3zM226 428v3h1v-3zM226 434v3h1v-3zM226 440v3h1v-3zM226 446v3h1v-3zM226 452v3h1v-3zM226 458v3h1v-3zM226 464v3h1v-3zM226 470v3h1v-3zM226 476v3h1v-3zM226 482v2h1v-2z" fill="#EEE8F1"/>
<path d="M258 404v3h1v-3zM258 410v3h1v-3zM258 416v3h1v-3zM258 422v3h1v-3zM258 428v3h1v-3zM258 434v3h1v-3zM258 440v3h1v-3zM258 446v3h1v-3zM258 452v3h1v-3zM258 458v3h1v-3zM258 464v3h1v-3zM258 470v3h1v-3zM258 476v3h1v-3zM258 482v2h1v-2z" fill="#EEE8F1"/>
<path d="M290 404v3h1v-3zM290 410v3h1v-3zM290 416v3h1v-3zM290 422v3h1v-3zM290 428v3h1v-3zM290 434v3h1v-3zM290 440v3h1v-3zM290 446v3h1v-3zM290 452v3h1v-3zM290 458v3h1v-3zM290 464v3h1v-3zM290 470v3h1v-3zM290 476v3h1v-3zM290 482v2h1v-2z" fill="#EEE8F1"/>
<path d="M322 404v3h1v-3zM322 410v3h1v-3zM322 416v3h1v-3zM322 422v3h1v-3zM322 428v3h1v-3zM322 434v3h1v-3zM322 440v3h1v-3zM322 446v3h1v-3zM322 452v3h1v-3zM322 458v3h1v-3zM322 464v3h1v-3zM322 470v3h1v-3zM322 476v3h1v-3zM322 482v2h1v-2z" fill="#EEE8F1"/>
<path d="M354 404v3h1v-3zM354 410v3h1v-3zM354 416v3h1v-3zM354 422v3h1v-3zM354 428v3h1v-3zM354 434v3h1v-3zM354 440v3h1v-3zM354 446v3h1v-3zM354 452v3h1v-3zM354 458v3h1v-3zM354 464v3h1v-3zM354 470v3h1v-3zM354 476v3h1v-3zM354 482v2h1v-2z" fill="#EEE8F1"/>
<path d="M386 404v3h1v-3zM386 410v3h1v-3zM386 416v3h1v-3zM386 422v3h1v-3zM386 428v3h1v-3zM386 434v3h1v-3zM386 440v3h1v-3zM386 446v3h1v-3zM386 452v3h1v-3zM386 458v3h1v-3zM386 464v3h1v-3zM386 470v3h1v-3zM386 476v3h1v-3zM386 482v2h1v-2z" fill="#EEE8F1"/>
<path d="M418 404v3h1v-3zM418 410v3h1v-3zM418 416v3h1v-3zM418 422v3h1v-3zM418 428v3h1v-3zM418 434v3h1v-3zM418 440v3h1v-3zM418 446v3h1v-3zM418 452v3h1v-3zM418 458v3h1v-3zM418 464v3h1v-3zM418 470v3h1v-3zM418 476v3h1v-3zM418 482v2h1v-2z" fill="#EEE8F1"/>
<path d="M450 404v3h1v-3zM450 410v3h1v-3zM450 416v3h1v-3zM450 422v3h1v-3zM450 428v3h1v-3zM450 434v3h1v-3zM450 440v3h1v-3zM450 446v3h1v-3zM450 452v3h1v-3zM450 458v3h1v-3zM450 464v3h1v-3zM450 470v3h1v-3zM450 476v3h1v-3zM450 482v2h1v-2z" fill="#EEE8F1"/>
<path d="M482 404v3h1v-3zM482 410v3h1v-3zM482 416v3h1v-3zM482 422v3h1v-3zM482 428v3h1v-3zM482 434v3h1v-3zM482 440v3h1v-3zM482 446v3h1v-3zM482 452v3h1v-3zM482 458v3h1v-3zM482 464v3h1v-3zM482 470v3h1v-3zM482 476v3h1v-3zM482 482v2h1v-2z" fill="#EEE8F1"/>
<path d="M514 404v3h1v-3zM514 410v3h1v-3zM514 416v3h1v-3zM514 422v3h1v-3zM514 428v3h1v-3zM514 434v3h1v-3zM514 440v3h1v-3zM514 446v3h1v-3zM514 452v3h1v-3zM514 458v3h1v-3zM514 464v3h1v-3zM514 470v3h1v-3zM514 476v3h1v-3zM514 482v2h1v-2z" fill="#EEE8F1"/>
<path d="M546 404v3h1v-3zM546 410v3h1v-3zM546 416v3h1v-3zM546 422v3h1v-3zM546 428v3h1v-3zM546 434v3h1v-3zM546 440v3h1v-3zM546 446v3h1v-3zM546 452v3h1v-3zM546 458v3h1v-3zM546 464v3h1v-3zM546 470v3h1v-3zM546 476v3h1v-3zM546 482v2h1v-2z" fill="#EEE8F1"/>
<path d="M578 404v3h1v-3zM578 410v3h1v-3zM578 416v3h1v-3zM578 422v3h1v-3zM578 428v3h1v-3zM578 434v3h1v-3zM578 440v3h1v-3zM578 446v3h1v-3zM578 452v3h1v-3zM578 458v3h1v-3zM578 464v3h1v-3zM578 470v3h1v-3zM578 476v3h1v-3zM578 482v2h1v-2z" fill="#EEE8F1"/>
<path d="M610 404v3h1v-3zM610 410v3h1v-3zM610 416v3h1v-3zM610 422v3h1v-3zM610 428v3h1v-3zM610 434v3h1v-3zM610 440v3h1v-3zM610 446v3h1v-3zM610 452v3h1v-3zM610 458v3h1v-3zM610 464v3h1v-3zM610 470v3h1v-3zM610 476v3h1v-3zM610 482v2h1v-2z" fill="#EEE8F1"/>
<path d="M642 404v3h1v-3zM642 410v3h1v-3zM642 416v3h1v-3zM642 422v3h1v-3zM642 428v3h1v-3zM642 434v3h1v-3zM642 440v3h1v-3zM642 446v3h1v-3zM642 452v3h1v-3zM642 458v3h1v-3zM642 464v3h1v-3zM642 470v3h1v-3zM642 476v3h1v-3zM642 482v2h1v-2z" fill="#EEE8F1"/>
<path d="M674 404v3h1v-3zM674 410v3h1v-3zM674 416v3h1v-3zM674 422v3h1v-3zM674 428v3h1v-3zM674 434v3h1v-3zM674 440v3h1v-3zM674 446v3h1v-3zM674 452v3h1v-3zM674 458v3h1v-3zM674 464v3h1v-3zM674 470v3h1v-3zM674 476v3h1v-3zM674 482v2h1v-2z" fill="#EEE8F1"/>
<path d="M706 404v3h1v-3zM706 410v3h1v-3zM706 416v3h1v-3zM706 422v3h1v-3zM706 428v3h1v-3zM706 434v3h1v-3zM706 440v3h1v-3zM706 446v3h1v-3zM706 452v3h1v-3zM706 458v3h1v-3zM706 464v3h1v-3zM706 470v3h1v-3zM706 476v3h1v-3zM706 482v2h1v-2z" fill="#EEE8F1"/>
<path d="M738 404v3h1v-3zM738 410v3h1v-3zM738 416v3h1v-3zM738 422v3h1v-3zM738 428v3h1v-3zM738 434v3h1v-3zM738 440v3h1v-3zM738 446v3h1v-3zM738 452v3h1v-3zM738 458v3h1v-3zM738 464v3h1v-3zM738 470v3h1v-3zM738 476v3h1v-3zM738 482v2h1v-2z" fill="#EEE8F1"/>
<path d="M34 488v3h1v-3zM34 494v3h1v-3zM34 500v3h1v-3zM34 506v3h1v-3zM34 512v3h1v-3zM34 518v3h1v-3zM34 524v3h1v-3zM34 530v3h1v-3zM34 536v3h1v-3zM34 542v3h1v-3zM34 548v3h1v-3zM34 554v3h1v-3zM34 560v3h1v-3zM34 566v3h1v-3zM34 572v3h1v-3zM34 578v1h1v-1z" fill="#EEE8F1"/>
<path d="M66 488v3h1v-3zM66 494v3h1v-3zM66 500v3h1v-3zM66 506v3h1v-3zM66 512v3h1v-3zM66 518v3h1v-3zM66 524v3h1v-3zM66 530v3h1v-3zM66 536v3h1v-3zM66 542v3h1v-3zM66 548v3h1v-3zM66 554v3h1v-3zM66 560v3h1v-3zM66 566v3h1v-3zM66 572v3h1v-3zM66 578v1h1v-1z" fill="#EEE8F1"/>
<path d="M98 488v3h1v-3zM98 494v3h1v-3zM98 500v3h1v-3zM98 506v3h1v-3zM98 512v3h1v-3zM98 518v3h1v-3zM98 524v3h1v-3zM98 530v3h1v-3zM98 536v3h1v-3zM98 542v3h1v-3zM98 548v3h1v-3zM98 554v3h1v-3zM98 560v3h1v-3zM98 566v3h1v-3zM98 572v3h1v-3zM98 578v1h1v-1z" fill="#EEE8F1"/>
<path d="M130 488v3h1v-3zM130 494v3h1v-3zM130 500v3h1v-3zM130 506v3h1v-3zM130 512v3h1v-3zM130 518v3h1v-3zM130 524v3h1v-3zM130 530v3h1v-3zM130 536v3h1v-3zM130 542v3h1v-3zM130 548v3h1v-3zM130 554v3h1v-3zM130 560v3h1v-3zM130 566v3h1v-3zM130 572v3h1v-3zM130 578v1h1v-1z" fill="#EEE8F1"/>
<path d="M162 488v3h1v-3zM162 494v3h1v-3zM162 500v3h1v-3zM162 506v3h1v-3zM162 512v3h1v-3zM162 518v3h1v-3zM162 524v3h1v-3zM162 530v3h1v-3zM162 536v3h1v-3zM162 542v3h1v-3zM162 548v3h1v-3zM162 554v3h1v-3zM162 560v3h1v-3zM162 566v3h1v-3zM162 572v3h1v-3zM162 578v1h1v-1z" fill="#EEE8F1"/>
<path d="M194 488v3h1v-3zM194 494v3h1v-3zM194 500v3h1v-3zM194 506v3h1v-3zM194 512v3h1v-3zM194 518v3h1v-3zM194 524v3h1v-3zM194 530v3h1v-3zM194 536v3h1v-3zM194 542v3h1v-3zM194 548v3h1v-3zM194 554v3h1v-3zM194 560v3h1v-3zM194 566v3h1v-3zM194 572v3h1v-3zM194 578v1h1v-1z" fill="#EEE8F1"/>
<path d="M226 488v3h1v-3zM226 494v3h1v-3zM226 500v3h1v-3zM226 506v3h1v-3zM226 512v3h1v-3zM226 518v3h1v-3zM226 524v3h1v-3zM226 530v3h1v-3zM226 536v3h1v-3zM226 542v3h1v-3zM226 548v3h1v-3zM226 554v3h1v-3zM226 560v3h1v-3zM226 566v3h1v-3zM226 572v3h1v-3zM226 578v1h1v-1z" fill="#EEE8F1"/>
<path d="M258 488v3h1v-3zM258 494v3h1v-3zM258 500v3h1v-3zM258 506v3h1v-3zM258 512v3h1v-3zM258 518v3h1v-3zM258 524v3h1v-3zM258 530v3h1v-3zM258 536v3h1v-3zM258 542v3h1v-3zM258 548v3h1v-3zM258 554v3h1v-3zM258 560v3h1v-3zM258 566v3h1v-3zM258 572v3h1v-3zM258 578v1h1v-1z" fill="#EEE8F1"/>
<path d="M290 488v3h1v-3zM290 494v3h1v-3zM290 500v3h1v-3zM290 506v3h1v-3zM290 512v3h1v-3zM290 518v3h1v-3zM290 524v3h1v-3zM290 530v3h1v-3zM290 536v3h1v-3zM290 542v3h1v-3zM290 548v3h1v-3zM290 554v3h1v-3zM290 560v3h1v-3zM290 566v3h1v-3zM290 572v3h1v-3zM290 578v1h1v-1z" fill="#EEE8F1"/>
<path d="M322 488v3h1v-3zM322 494v3h1v-3zM322 500v3h1v-3zM322 506v3h1v-3zM322 512v3h1v-3zM322 518v3h1v-3zM322 524v3h1v-3zM322 530v3h1v-3zM322 536v3h1v-3zM322 542v3h1v-3zM322 548v3h1v-3zM322 554v3h1v-3zM322 560v3h1v-3zM322 566v3h1v-3zM322 572v3h1v-3zM322 578v1h1v-1z" fill="#EEE8F1"/>
<path d="M354 488v3h1v-3zM354 494v3h1v-3zM354 500v3h1v-3zM354 506v3h1v-3zM354 512v3h1v-3zM354 518v3h1v-3zM354 524v3h1v-3zM354 530v3h1v-3zM354 536v3h1v-3zM354 542v3h1v-3zM354 548v3h1v-3zM354 554v3h1v-3zM354 560v3h1v-3zM354 566v3h1v-3zM354 572v3h1v-3zM354 578v1h1v-1z" fill="#EEE8F1"/>
<path d="M386 488v3h1v-3zM386 494v3h1v-3zM386 500v3h1v-3zM386 506v3h1v-3zM386 512v3h1v-3zM386 518v3h1v-3zM386 524v3h1v-3zM386 530v3h1v-3zM386 536v3h1v-3zM386 542v3h1v-3zM386 548v3h1v-3zM386 554v3h1v-3zM386 560v3h1v-3zM386 566v3h1v-3zM386 572v3h1v-3zM386 578v1h1v-1z" fill="#EEE8F1"/>
<path d="M418 488v3h1v-3zM418 494v3h1v-3zM418 500v3h1v-3zM418 506v3h1v-3zM418 512v3h1v-3zM418 518v3h1v-3zM418 524v3h1v-3zM418 530v3h1v-3zM418 536v3h1v-3zM418 542v3h1v-3zM418 548v3h1v-3zM418 554v3h1v-3zM418 560v3h1v-3zM418 566v3h1v-3zM418 572v3h1v-3zM418 578v1h1v-1z" fill="#EEE8F1"/>
<path d="M450 488v3h1v-3zM450 494v3h1v-3zM450 500v3h1v-3zM450 506v3h1v-3zM450 512v3h1v-3zM450 518v3h1v-3zM450 524v3h1v-3zM450 530v3h1v-3zM450 536v3h1v-3zM450 542v3h1v-3zM450 548v3h1v-3zM450 554v3h1v-3zM450 560v3h1v-3zM450 566v3h1v-3zM450 572v3h1v-3zM450 578v1h1v-1z" fill="#EEE8F1"/>
<path d="M482 488v3h1v-3zM482 494v3h1v-3zM482 500v3h1v-3zM482 506v3h1v-3zM482 512v3h1v-3zM482 518v3h1v-3zM482 524v3h1v-3zM482 530v3h1v-3zM482 536v3h1v-3zM482 542v3h1v-3zM482 548v3h1v-3zM482 554v3h1v-3zM482 560v3h1v-3zM482 566v3h1v-3zM482 572v3h1v-3zM482 578v1h1v-1z" fill="#EEE8F1"/>
<path d="M514 488v3h1v-3zM514 494v3h1v-3zM514 500v3h1v-3zM514 506v3h1v-3zM514 512v3h1v-3zM514 518v3h1v-3zM514 524v3h1v-3zM514 530v3h1v-3zM514 536v3h1v-3zM514 542v3h1v-3zM514 548v3h1v-3zM514 554v3h1v-3zM514 560v3h1v-3zM514 566v3h1v-3zM514 572v3h1v-3zM514 578v1h1v-1z" fill="#EEE8F1"/>
<path d="M546 488v3h1v-3zM546 494v3h1v-3zM546 500v3h1v-3zM546 506v3h1v-3zM546 512v3h1v-3zM546 518v3h1v-3zM546 524v3h1v-3zM546 530v3h1v-3zM546 536v3h1v-3zM546 542v3h1v-3zM546 548v3h1v-3zM546 554v3h1v-3zM546 560v3h1v-3zM546 566v3h1v-3zM546 572v3h1v-3zM546 578v1h1v-1z" fill="#EEE8F1"/>
<path d="M578 488v3h1v-3zM578 494v3h1v-3zM578 500v3h1v-3zM578 506v3h1v-3zM578 512v3h1v-3zM578 518v3h1v-3zM578 524v3h1v-3zM578 530v3h1v-3zM578 536v3h1v-3zM578 542v3h1v-3zM578 548v3h1v-3zM578 554v3h1v-3zM578 560v3h1v-3zM578 566v3h1v-3zM578 572v3h1v-3zM578 578v1h1v-1z" fill="#EEE8F1"/>
<path d="M610 488v3h1v-3zM610 494v3h1v-3zM610 500v3h1v-3zM610 506v3h1v-3zM610 512v3h1v-3zM610 518v3h1v-3zM610 524v3h1v-3zM610 530v3h1v-3zM610 536v3h1v-3zM610 542v3h1v-3zM610 548v3h1v-3zM610 554v3h1v-3zM610 560v3h1v-3zM610 566v3h1v-3zM610 572v3h1v-3zM610 578v1h1v-1z" fill="#EEE8F1"/>
<path d="M642 488v3h1v-3zM642 494v3h1v-3zM642 500v3h1v-3zM642 506v3h1v-3zM642 512v3h1v-3zM642 518v3h1v-3zM642 524v3h1v-3zM642 530v3h1v-3zM642 536v3h1v-3zM642 542v3h1v-3zM642 548v3h1v-3zM642 554v3h1v-3zM642 560v3h1v-3zM642 566v3h1v-3zM642 572v3h1v-3zM642 578v1h1v-1z" fill="#EEE8F1"/>
<path d="M674 488v3h1v-3zM674 494v3h1v-3zM674 500v3h1v-3zM674 506v3h1v-3zM674 512v3h1v-3zM674 518v3h1v-3zM674 524v3h1v-3zM674 530v3h1v-3zM674 536v3h1v-3zM674 542v3h1v-3zM674 548v3h1v-3zM674 554v3h1v-3zM674 560v3h1v-3zM674 566v3h1v-3zM674 572v3h1v-3zM674 578v1h1v-1z" fill="#EEE8F1"/>
<path d="M706 488v3h1v-3zM706 494v3h1v-3zM706 500v3h1v-3zM706 506v3h1v-3zM706 512v3h1v-3zM706 518v3h1v-3zM706 524v3h1v-3zM706 530v3h1v-3zM706 536v3h1v-3zM706 542v3h1v-3zM706 548v3h1v-3zM706 554v3h1v-3zM706 560v3h1v-3zM706 566v3h1v-3zM706 572v3h1v-3zM706 578v1h1v-1z" fill="#EEE8F1"/>
<path d="M738 488v3h1v-3zM738 494v3h1v-3zM738 500v3h1v-3zM738 506v3h1v-3zM738 512v3h1v-3zM738 518v3h1v-3zM738 524v3h1v-3zM738 530v3h1v-3zM738 536v3h1v-3zM738 542v3h1v-3zM738 548v3h1v-3zM738 554v3h1v-3zM738 560v3h1v-3zM738 566v3h1v-3zM738 572v3h1v-3zM738 578v1h1v-1z" fill="#EEE8F1"/>
<path d="M3 18h2v1h-2zM8 18h3v1h-3zM14 18h3v1h-3zM20 18h3v1h-3zM26 18h3v1h-3zM32 18h3v1h-3zM38 18h3v1h-3zM44 18h3v1h-3zM50 18h3v1h-3zM56 18h3v1h-3zM62 18h3v1h-3zM68 18h3v1h-3zM74 18h3v1h-3zM80 18h3v1h-3zM86 18h3v1h-3zM92 18h3v1h-3zM98 18h3v1h-3zM104 18h3v1h-3zM110 18h3v1h-3zM116 18h3v1h-3zM122 18h3v1h-3zM128 18h3v1h-3zM134 18h3v1h-3zM140 18h3v1h-3zM146 18h3v1h-3zM152 18h3v1h-3zM158 18h3v1h-3zM164 18h3v1h-3zM170 18h3v1h-3zM176 18h3v1h-3zM182 18h3v1h-3zM188 18h3v1h-3zM194 18h3v1h-3zM200 18h3v1h-3zM206 18h3v1h-3zM212 18h3v1h-3zM218 18h3v1h-3zM224 18h3v1h-3zM230 18h3v1h-3zM236 18h3v1h-3zM242 18h3v1h-3zM248 18h3v1h-3zM254 18h3v1h-3zM260 18h3v1h-3zM266 18h3v1h-3zM272 18h3v1h-3zM278 18h3v1h-3zM284 18h3v1h-3zM290 18h3v1h-3zM296 18h3v1h-3zM302 18h3v1h-3zM308 18h3v1h-3zM314 18h3v1h-3zM320 18h3v1h-3zM326 18h3v1h-3zM332 18h3v1h-3zM338 18h3v1h-3zM344 18h3v1h-3zM350 18h3v1h-3zM356 18h3v1h-3zM362 18h3v1h-3zM368 18h3v1h-3zM374 18h3v1h-3zM380 18h3v1h-3zM386 18h3v1h-3zM392 18h3v1h-3zM398 18h3v1h-3zM404 18h3v1h-3zM410 18h3v1h-3zM416 18h3v1h-3zM422 18h3v1h-3zM428 18h3v1h-3zM434 18h3v1h-3zM440 18h3v1h-3zM446 18h3v1h-3zM452 18h3v1h-3zM458 18h3v1h-3zM464 18h3v1h-3zM470 18h3v1h-3zM476 18h3v1h-3zM482 18h3v1h-3zM488 18h3v1h-3zM494 18h3v1h-3zM500 18h3v1h-3zM506 18h3v1h-3zM512 18h3v1h-3zM518 18h3v1h-3zM524 18h3v1h-3zM530 18h3v1h-3zM536 18h3v1h-3zM542 18h3v1h-3zM548 18h3v1h-3zM554 18h3v1h-3zM560 18h3v1h-3zM566 18h3v1h-3zM572 18h3v1h-3zM578 18h3v1h-3zM584 18h3v1h-3zM590 18h3v1h-3zM596 18h3v1h-3zM602 18h3v1h-3zM608 18h3v1h-3zM614 18h3v1h-3zM620 18h3v1h-3zM626 18h3v1h-3zM632 18h3v1h-3zM638 18h3v1h-3zM644 18h3v1h-3zM650 18h3v1h-3zM656 18h3v1h-3zM662 18h3v1h-3zM668 18h3v1h-3zM674 18h3v1h-3zM680 18h3v1h-3zM686 18h3v1h-3zM692 18h3v1h-3zM698 18h3v1h-3zM704 18h3v1h-3zM710 18h3v1h-3zM716 18h3v1h-3zM722 18h3v1h-3zM728 18h3v1h-3zM734 18h3v1h-3zM740 18h3v1h-3zM746 18h1v1h-1z" fill="#EEE8F1"/>
<path d="M3 50h2v1h-2zM8 50h3v1h-3zM14 50h3v1h-3zM20 50h3v1h-3zM26 50h3v1h-3zM32 50h3v1h-3zM38 50h3v1h-3zM44 50h3v1h-3zM50 50h3v1h-3zM56 50h3v1h-3zM62 50h3v1h-3zM68 50h3v1h-3zM74 50h3v1h-3zM80 50h3v1h-3zM86 50h3v1h-3zM92 50h3v1h-3zM98 50h3v1h-3zM104 50h3v1h-3zM110 50h3v1h-3zM116 50h3v1h-3zM122 50h3v1h-3zM128 50h3v1h-3zM134 50h3v1h-3zM140 50h3v1h-3zM146 50h3v1h-3zM152 50h3v1h-3zM158 50h3v1h-3zM164 50h3v1h-3zM170 50h3v1h-3zM176 50h3v1h-3zM182 50h3v1h-3zM188 50h3v1h-3zM194 50h3v1h-3zM200 50h3v1h-3zM206 50h3v1h-3zM212 50h3v1h-3zM218 50h3v1h-3zM224 50h3v1h-3zM230 50h3v1h-3zM236 50h3v1h-3zM242 50h3v1h-3zM248 50h3v1h-3zM254 50h3v1h-3zM260 50h3v1h-3zM266 50h3v1h-3zM272 50h3v1h-3zM278 50h3v1h-3zM284 50h3v1h-3zM290 50h3v1h-3zM296 50h3v1h-3zM302 50h3v1h-3zM308 50h3v1h-3zM314 50h3v1h-3zM320 50h3v1h-3zM326 50h3v1h-3zM332 50h3v1h-3zM338 50h3v1h-3zM344 50h3v1h-3zM350 50h3v1h-3zM356 50h3v1h-3zM362 50h3v1h-3zM368 50h3v1h-3zM374 50h3v1h-3zM380 50h3v1h-3zM386 50h3v1h-3zM392 50h3v1h-3zM398 50h3v1h-3zM404 50h3v1h-3zM410 50h3v1h-3zM416 50h3v1h-3zM422 50h3v1h-3zM428 50h3v1h-3zM434 50h3v1h-3zM440 50h3v1h-3zM446 50h3v1h-3zM452 50h3v1h-3zM458 50h3v1h-3zM464 50h3v1h-3zM470 50h3v1h-3zM476 50h3v1h-3zM482 50h3v1h-3zM488 50h3v1h-3zM494 50h3v1h-3zM500 50h3v1h-3zM506 50h3v1h-3zM512 50h3v1h-3zM518 50h3v1h-3zM524 50h3v1h-3zM530 50h3v1h-3zM536 50h3v1h-3zM542 50h3v1h-3zM548 50h3v1h-3zM554 50h3v1h-3zM560 50h3v1h-3zM566 50h3v1h-3zM572 50h3v1h-3zM578 50h3v1h-3zM584 50h3v1h-3zM590 50h3v1h-3zM596 50h3v1h-3zM602 50h3v1h-3zM608 50h3v1h-3zM614 50h3v1h-3zM620 50h3v1h-3zM626 50h3v1h-3zM632 50h3v1h-3zM638 50h3v1h-3zM644 50h3v1h-3zM650 50h3v1h-3zM656 50h3v1h-3zM662 50h3v1h-3zM668 50h3v1h-3zM674 50h3v1h-3zM680 50h3v1h-3zM686 50h3v1h-3zM692 50h3v1h-3zM698 50h3v1h-3zM704 50h3v1h-3zM710 50h3v1h-3zM716 50h3v1h-3zM722 50h3v1h-3zM728 50h3v1h-3zM734 50h3v1h-3zM740 50h3v1h-3zM746 50h1v1h-1z" fill="#EEE8F1"/>
<path d="M3 82h2v1h-2zM8 82h3v1h-3zM14 82h3v1h-3zM20 82h3v1h-3zM26 82h3v1h-3zM32 82h3v1h-3zM38 82h3v1h-3zM44 82h3v1h-3zM50 82h3v1h-3zM56 82h3v1h-3zM62 82h3v1h-3zM68 82h3v1h-3zM74 82h3v1h-3zM80 82h3v1h-3zM86 82h3v1h-3zM92 82h3v1h-3zM98 82h3v1h-3zM104 82h3v1h-3zM110 82h3v1h-3zM116 82h3v1h-3zM122 82h3v1h-3zM128 82h3v1h-3zM134 82h3v1h-3zM140 82h3v1h-3zM146 82h3v1h-3zM152 82h3v1h-3zM158 82h3v1h-3zM164 82h3v1h-3zM170 82h3v1h-3zM176 82h3v1h-3zM182 82h3v1h-3zM188 82h3v1h-3zM194 82h3v1h-3zM200 82h3v1h-3zM206 82h3v1h-3zM212 82h3v1h-3zM218 82h3v1h-3zM224 82h3v1h-3zM230 82h3v1h-3zM236 82h3v1h-3zM242 82h3v1h-3zM248 82h3v1h-3zM254 82h3v1h-3zM260 82h3v1h-3zM266 82h3v1h-3zM272 82h3v1h-3zM278 82h3v1h-3zM284 82h3v1h-3zM290 82h3v1h-3zM296 82h3v1h-3zM302 82h3v1h-3zM308 82h3v1h-3zM314 82h3v1h-3zM320 82h3v1h-3zM326 82h3v1h-3zM332 82h3v1h-3zM338 82h3v1h-3zM344 82h3v1h-3zM350 82h3v1h-3zM356 82h3v1h-3zM362 82h3v1h-3zM368 82h3v1h-3zM374 82h3v1h-3zM380 82h3v1h-3zM386 82h3v1h-3zM392 82h3v1h-3zM398 82h3v1h-3zM404 82h3v1h-3zM410 82h3v1h-3zM416 82h3v1h-3zM422 82h3v1h-3zM428 82h3v1h-3zM434 82h3v1h-3zM440 82h3v1h-3zM446 82h3v1h-3zM452 82h3v1h-3zM458 82h3v1h-3zM464 82h3v1h-3zM470 82h3v1h-3zM476 82h3v1h-3zM482 82h3v1h-3zM488 82h3v1h-3zM494 82h3v1h-3zM500 82h3v1h-3zM506 82h3v1h-3zM512 82h3v1h-3zM518 82h3v1h-3zM524 82h3v1h-3zM530 82h3v1h-3zM536 82h3v1h-3zM542 82h3v1h-3zM548 82h3v1h-3zM554 82h3v1h-3zM560 82h3v1h-3zM566 82h3v1h-3zM572 82h3v1h-3zM578 82h3v1h-3zM584 82h3v1h-3zM590 82h3v1h-3zM596 82h3v1h-3zM602 82h3v1h-3zM608 82h3v1h-3zM614 82h3v1h-3zM620 82h3v1h-3zM626 82h3v1h-3zM632 82h3v1h-3zM638 82h3v1h-3zM644 82h3v1h-3zM650 82h3v1h-3zM656 82h3v1h-3zM662 82h3v1h-3zM668 82h3v1h-3zM674 82h3v1h-3zM680 82h3v1h-3zM686 82h3v1h-3zM692 82h3v1h-3zM698 82h3v1h-3zM704 82h3v1h-3zM710 82h3v1h-3zM716 82h3v1h-3zM722 82h3v1h-3zM728 82h3v1h-3zM734 82h3v1h-3zM740 82h3v1h-3zM746 82h1v1h-1z" fill="#EEE8F1"/>
<path d="M3 114h2v1h-2zM8 114h3v1h-3zM14 114h3v1h-3zM20 114h3v1h-3zM26 114h3v1h-3zM32 114h3v1h-3zM38 114h3v1h-3zM44 114h3v1h-3zM50 114h3v1h-3zM56 114h3v1h-3zM62 114h3v1h-3zM68 114h3v1h-3zM74 114h3v1h-3zM80 114h3v1h-3zM86 114h3v1h-3zM92 114h3v1h-3zM98 114h3v1h-3zM104 114h3v1h-3zM110 114h3v1h-3zM116 114h3v1h-3zM122 114h3v1h-3zM128 114h3v1h-3zM134 114h3v1h-3zM140 114h3v1h-3zM146 114h3v1h-3zM152 114h3v1h-3zM158 114h3v1h-3zM164 114h3v1h-3zM170 114h3v1h-3zM176 114h3v1h-3zM182 114h3v1h-3zM188 114h3v1h-3zM194 114h3v1h-3zM200 114h3v1h-3zM206 114h3v1h-3zM212 114h3v1h-3zM218 114h3v1h-3zM224 114h3v1h-3zM230 114h3v1h-3zM236 114h3v1h-3zM242 114h3v1h-3zM248 114h3v1h-3zM254 114h3v1h-3zM260 114h3v1h-3zM266 114h3v1h-3zM272 114h3v1h-3zM278 114h3v1h-3zM284 114h3v1h-3zM290 114h3v1h-3zM296 114h3v1h-3zM302 114h3v1h-3zM308 114h3v1h-3zM314 114h3v1h-3zM320 114h3v1h-3zM326 114h3v1h-3zM332 114h3v1h-3zM338 114h3v1h-3zM344 114h3v1h-3zM350 114h3v1h-3zM356 114h3v1h-3zM362 114h3v1h-3zM368 114h3v1h-3zM374 114h3v1h-3zM380 114h3v1h-3zM386 114h3v1h-3zM392 114h3v1h-3zM398 114h3v1h-3zM404 114h3v1h-3zM410 114h3v1h-3zM416 114h3v1h-3zM422 114h3v1h-3zM428 114h3v1h-3zM434 114h3v1h-3zM440 114h3v1h-3zM446 114h3v1h-3zM452 114h3v1h-3zM458 114h3v1h-3zM464 114h3v1h-3zM470 114h3v1h-3zM476 114h3v1h-3zM482 114h3v1h-3zM488 114h3v1h-3zM494 114h3v1h-3zM500 114h3v1h-3zM506 114h3v1h-3zM512 114h3v1h-3zM518 114h3v1h-3zM524 114h3v1h-3zM530 114h3v1h-3zM536 114h3v1h-3zM542 114h3v1h-3zM548 114h3v1h-3zM554 114h3v1h-3zM560 114h3v1h-3zM566 114h3v1h-3zM572 114h3v1h-3zM578 114h3v1h-3zM584 114h3v1h-3zM590 114h3v1h-3zM596 114h3v1h-3zM602 114h3v1h-3zM608 114h3v1h-3zM614 114h3v1h-3zM620 114h3v1h-3zM626 114h3v1h-3zM632 114h3v1h-3zM638 114h3v1h-3zM644 114h3v1h-3zM650 114h3v1h-3zM656 114h3v1h-3zM662 114h3v1h-3zM668 114h3v1h-3zM674 114h3v1h-3zM680 114h3v1h-3zM686 114h3v1h-3zM692 114h3v1h-3zM698 114h3v1h-3zM704 114h3v1h-3zM710 114h3v1h-3zM716 114h3v1h-3zM722 114h3v1h-3zM728 114h3v1h-3zM734 114h3v1h-3zM740 114h3v1h-3zM746 114h1v1h-1z" fill="#EEE8F1"/>
<path d="M3 146h2v1h-2zM8 146h3v1h-3zM14 146h3v1h-3zM20 146h3v1h-3zM26 146h3v1h-3zM32 146h3v1h-3zM38 146h3v1h-3zM44 146h3v1h-3zM50 146h3v1h-3zM56 146h3v1h-3zM62 146h3v1h-3zM68 146h3v1h-3zM74 146h3v1h-3zM80 146h3v1h-3zM86 146h3v1h-3zM92 146h3v1h-3zM98 146h3v1h-3zM104 146h3v1h-3zM110 146h3v1h-3zM116 146h3v1h-3zM122 146h3v1h-3zM128 146h3v1h-3zM134 146h3v1h-3zM140 146h3v1h-3zM146 146h3v1h-3zM152 146h3v1h-3zM158 146h3v1h-3zM164 146h3v1h-3zM170 146h3v1h-3zM176 146h3v1h-3zM182 146h3v1h-3zM188 146h3v1h-3zM194 146h3v1h-3zM200 146h3v1h-3zM206 146h3v1h-3zM212 146h3v1h-3zM218 146h3v1h-3zM224 146h3v1h-3zM230 146h3v1h-3zM236 146h3v1h-3zM242 146h3v1h-3zM248 146h3v1h-3zM254 146h3v1h-3zM260 146h3v1h-3zM266 146h3v1h-3zM272 146h3v1h-3zM278 146h3v1h-3zM284 146h3v1h-3zM290 146h3v1h-3zM296 146h3v1h-3zM302 146h3v1h-3zM308 146h3v1h-3zM314 146h3v1h-3zM320 146h3v1h-3zM326 146h3v1h-3zM332 146h3v1h-3zM338 146h3v1h-3zM344 146h3v1h-3zM350 146h3v1h-3zM356 146h3v1h-3zM362 146h3v1h-3zM368 146h3v1h-3zM374 146h3v1h-3zM380 146h3v1h-3zM386 146h3v1h-3zM392 146h3v1h-3zM398 146h3v1h-3zM404 146h3v1h-3zM410 146h3v1h-3zM416 146h3v1h-3zM422 146h3v1h-3zM428 146h3v1h-3zM434 146h3v1h-3zM440 146h3v1h-3zM446 146h3v1h-3zM452 146h3v1h-3zM458 146h3v1h-3zM464 146h3v1h-3zM470 146h3v1h-3zM476 146h3v1h-3zM482 146h3v1h-3zM488 146h3v1h-3zM494 146h3v1h-3zM500 146h3v1h-3zM506 146h3v1h-3zM512 146h3v1h-3zM518 146h3v1h-3zM524 146h3v1h-3zM530 146h3v1h-3zM536 146h3v1h-3zM542 146h3v1h-3zM548 146h3v1h-3zM554 146h3v1h-3zM560 146h3v1h-3zM566 146h3v1h-3zM572 146h3v1h-3zM578 146h3v1h-3zM584 146h3v1h-3zM590 146h3v1h-3zM596 146h3v1h-3zM602 146h3v1h-3zM608 146h3v1h-3zM614 146h3v1h-3zM620 146h3v1h-3zM626 146h3v1h-3zM632 146h3v1h-3zM638 146h3v1h-3zM644 146h3v1h-3zM650 146h3v1h-3zM656 146h3v1h-3zM662 146h3v1h-3zM668 146h3v1h-3zM674 146h3v1h-3zM680 146h3v1h-3zM686 146h3v1h-3zM692 146h3v1h-3zM698 146h3v1h-3zM704 146h3v1h-3zM710 146h3v1h-3zM716 146h3v1h-3zM722 146h3v1h-3zM728 146h3v1h-3zM734 146h3v1h-3zM740 146h3v1h-3zM746 146h1v1h-1z" fill="#EEE8F1"/>
<path d="M3 178h2v1h-2zM8 178h3v1h-3zM14 178h3v1h-3zM20 178h3v1h-3zM26 178h3v1h-3zM32 178h3v1h-3zM38 178h3v1h-3zM44 178h3v1h-3zM50 178h3v1h-3zM56 178h3v1h-3zM62 178h3v1h-3zM68 178h3v1h-3zM74 178h3v1h-3zM80 178h3v1h-3zM86 178h3v1h-3zM92 178h3v1h-3zM98 178h3v1h-3zM104 178h3v1h-3zM110 178h3v1h-3zM116 178h3v1h-3zM122 178h3v1h-3zM128 178h3v1h-3zM134 178h3v1h-3zM140 178h3v1h-3zM146 178h3v1h-3zM152 178h3v1h-3zM158 178h3v1h-3zM164 178h3v1h-3zM170 178h3v1h-3zM176 178h3v1h-3zM182 178h3v1h-3zM188 178h3v1h-3zM194 178h3v1h-3zM200 178h3v1h-3zM206 178h3v1h-3zM212 178h3v1h-3zM218 178h3v1h-3zM224 178h3v1h-3zM230 178h3v1h-3zM236 178h3v1h-3zM242 178h3v1h-3zM248 178h3v1h-3zM254 178h3v1h-3zM260 178h3v1h-3zM266 178h3v1h-3zM272 178h3v1h-3zM278 178h3v1h-3zM284 178h3v1h-3zM290 178h3v1h-3zM296 178h3v1h-3zM302 178h3v1h-3zM308 178h3v1h-3zM314 178h3v1h-3zM320 178h3v1h-3zM326 178h3v1h-3zM332 178h3v1h-3zM338 178h3v1h-3zM344 178h3v1h-3zM350 178h3v1h-3zM356 178h3v1h-3zM362 178h3v1h-3zM368 178h3v1h-3zM374 178h3v1h-3zM380 178h3v1h-3zM386 178h3v1h-3zM392 178h3v1h-3zM398 178h3v1h-3zM404 178h3v1h-3zM410 178h3v1h-3zM416 178h3v1h-3zM422 178h3v1h-3zM428 178h3v1h-3zM434 178h3v1h-3zM440 178h3v1h-3zM446 178h3v1h-3zM452 178h3v1h-3zM458 178h3v1h-3zM464 178h3v1h-3zM470 178h3v1h-3zM476 178h3v1h-3zM482 178h3v1h-3zM488 178h3v1h-3zM494 178h3v1h-3zM500 178h3v1h-3zM506 178h3v1h-3zM512 178h3v1h-3zM518 178h3v1h-3zM524 178h3v1h-3zM530 178h3v1h-3zM536 178h3v1h-3zM542 178h3v1h-3zM548 178h3v1h-3zM554 178h3v1h-3zM560 178h3v1h-3zM566 178h3v1h-3zM572 178h3v1h-3zM578 178h3v1h-3zM584 178h3v1h-3zM590 178h3v1h-3zM596 178h3v1h-3zM602 178h3v1h-3zM608 178h3v1h-3zM614 178h3v1h-3zM620 178h3v1h-3zM626 178h3v1h-3zM632 178h3v1h-3zM638 178h3v1h-3zM644 178h3v1h-3zM650 178h3v1h-3zM656 178h3v1h-3zM662 178h3v1h-3zM668 178h3v1h-3zM674 178h3v1h-3zM680 178h3v1h-3zM686 178h3v1h-3zM692 178h3v1h-3zM698 178h3v1h-3zM704 178h3v1h-3zM710 178h3v1h-3zM716 178h3v1h-3zM722 178h3v1h-3zM728 178h3v1h-3zM734 178h3v1h-3zM740 178h3v1h-3zM746 178h1v1h-1z" fill="#EEE8F1"/>
<path d="M3 211h2v1h-2zM8 211h3v1h-3zM14 211h3v1h-3zM20 211h3v1h-3zM26 211h3v1h-3zM32 211h3v1h-3zM38 211h3v1h-3zM44 211h3v1h-3zM50 211h3v1h-3zM56 211h3v1h-3zM62 211h3v1h-3zM68 211h3v1h-3zM74 211h3v1h-3zM80 211h3v1h-3zM86 211h3v1h-3zM92 211h3v1h-3zM98 211h3v1h-3zM104 211h3v1h-3zM110 211h3v1h-3zM116 211h3v1h-3zM122 211h3v1h-3zM128 211h3v1h-3zM134 211h3v1h-3zM140 211h3v1h-3zM146 211h3v1h-3zM152 211h3v1h-3zM158 211h3v1h-3zM164 211h3v1h-3zM170 211h3v1h-3zM176 211h3v1h-3zM182 211h3v1h-3zM188 211h3v1h-3zM194 211h3v1h-3zM200 211h3v1h-3zM206 211h3v1h-3zM212 211h3v1h-3zM218 211h3v1h-3zM224 211h3v1h-3zM230 211h3v1h-3zM236 211h3v1h-3zM242 211h3v1h-3zM248 211h3v1h-3zM254 211h3v1h-3zM260 211h3v1h-3zM266 211h3v1h-3zM272 211h3v1h-3zM278 211h3v1h-3zM284 211h3v1h-3zM290 211h3v1h-3zM296 211h3v1h-3zM302 211h3v1h-3zM308 211h3v1h-3zM314 211h3v1h-3zM320 211h3v1h-3zM326 211h3v1h-3zM332 211h3v1h-3zM338 211h3v1h-3zM344 211h3v1h-3zM350 211h3v1h-3zM356 211h3v1h-3zM362 211h3v1h-3zM368 211h3v1h-3zM374 211h3v1h-3zM380 211h3v1h-3zM386 211h3v1h-3zM392 211h3v1h-3zM398 211h3v1h-3zM404 211h3v1h-3zM410 211h3v1h-3zM416 211h3v1h-3zM422 211h3v1h-3zM428 211h3v1h-3zM434 211h3v1h-3zM440 211h3v1h-3zM446 211h3v1h-3zM452 211h3v1h-3zM458 211h3v1h-3zM464 211h3v1h-3zM470 211h3v1h-3zM476 211h3v1h-3zM482 211h3v1h-3zM488 211h3v1h-3zM494 211h3v1h-3zM500 211h3v1h-3zM506 211h3v1h-3zM512 211h3v1h-3zM518 211h3v1h-3zM524 211h3v1h-3zM530 211h3v1h-3zM536 211h3v1h-3zM542 211h3v1h-3zM548 211h3v1h-3zM554 211h3v1h-3zM560 211h3v1h-3zM566 211h3v1h-3zM572 211h3v1h-3zM578 211h3v1h-3zM584 211h3v1h-3zM590 211h3v1h-3zM596 211h3v1h-3zM602 211h3v1h-3zM608 211h3v1h-3zM614 211h3v1h-3zM620 211h3v1h-3zM626 211h3v1h-3zM632 211h3v1h-3zM638 211h3v1h-3zM644 211h3v1h-3zM650 211h3v1h-3zM656 211h3v1h-3zM662 211h3v1h-3zM668 211h3v1h-3zM674 211h3v1h-3zM680 211h3v1h-3zM686 211h3v1h-3zM692 211h3v1h-3zM698 211h3v1h-3zM704 211h3v1h-3zM710 211h3v1h-3zM716 211h3v1h-3zM722 211h3v1h-3zM728 211h3v1h-3zM734 211h3v1h-3zM740 211h3v1h-3zM746 211h1v1h-1z" fill="#EEE8F1"/>
<path d="M3 243h2v1h-2zM8 243h3v1h-3zM14 243h3v1h-3zM20 243h3v1h-3zM26 243h3v1h-3zM32 243h3v1h-3zM38 243h3v1h-3zM44 243h3v1h-3zM50 243h3v1h-3zM56 243h3v1h-3zM62 243h3v1h-3zM68 243h3v1h-3zM74 243h3v1h-3zM80 243h3v1h-3zM86 243h3v1h-3zM92 243h3v1h-3zM98 243h3v1h-3zM104 243h3v1h-3zM110 243h3v1h-3zM116 243h3v1h-3zM122 243h3v1h-3zM128 243h3v1h-3zM134 243h3v1h-3zM140 243h3v1h-3zM146 243h3v1h-3zM152 243h3v1h-3zM158 243h3v1h-3zM164 243h3v1h-3zM170 243h3v1h-3zM176 243h3v1h-3zM182 243h3v1h-3zM188 243h3v1h-3zM194 243h3v1h-3zM200 243h3v1h-3zM206 243h3v1h-3zM212 243h3v1h-3zM218 243h3v1h-3zM224 243h3v1h-3zM230 243h3v1h-3zM236 243h3v1h-3zM242 243h3v1h-3zM248 243h3v1h-3zM254 243h3v1h-3zM260 243h3v1h-3zM266 243h3v1h-3zM272 243h3v1h-3zM278 243h3v1h-3zM284 243h3v1h-3zM290 243h3v1h-3zM296 243h3v1h-3zM302 243h3v1h-3zM308 243h3v1h-3zM314 243h3v1h-3zM320 243h3v1h-3zM326 243h3v1h-3zM332 243h3v1h-3zM338 243h3v1h-3zM344 243h3v1h-3zM350 243h3v1h-3zM356 243h3v1h-3zM362 243h3v1h-3zM368 243h3v1h-3zM374 243h3v1h-3zM380 243h3v1h-3zM386 243h3v1h-3zM392 243h3v1h-3zM398 243h3v1h-3zM404 243h3v1h-3zM410 243h3v1h-3zM416 243h3v1h-3zM422 243h3v1h-3zM428 243h3v1h-3zM434 243h3v1h-3zM440 243h3v1h-3zM446 243h3v1h-3zM452 243h3v1h-3zM458 243h3v1h-3zM464 243h3v1h-3zM470 243h3v1h-3zM476 243h3v1h-3zM482 243h3v1h-3zM488 243h3v1h-3zM494 243h3v1h-3zM500 243h3v1h-3zM506 243h3v1h-3zM512 243h3v1h-3zM518 243h3v1h-3zM524 243h3v1h-3zM530 243h3v1h-3zM536 243h3v1h-3zM542 243h3v1h-3zM548 243h3v1h-3zM554 243h3v1h-3zM560 243h3v1h-3zM566 243h3v1h-3zM572 243h3v1h-3zM578 243h3v1h-3zM584 243h3v1h-3zM590 243h3v1h-3zM596 243h3v1h-3zM602 243h3v1h-3zM608 243h3v1h-3zM614 243h3v1h-3zM620 243h3v1h-3zM626 243h3v1h-3zM632 243h3v1h-3zM638 243h3v1h-3zM644 243h3v1h-3zM650 243h3v1h-3zM656 243h3v1h-3zM662 243h3v1h-3zM668 243h3v1h-3zM674 243h3v1h-3zM680 243h3v1h-3zM686 243h3v1h-3zM692 243h3v1h-3zM698 243h3v1h-3zM704 243h3v1h-3zM710 243h3v1h-3zM716 243h3v1h-3zM722 243h3v1h-3zM728 243h3v1h-3zM734 243h3v1h-3zM740 243h3v1h-3zM746 243h1v1h-1z" fill="#EEE8F1"/>
<path d="M3 275h2v1h-2zM8 275h3v1h-3zM14 275h3v1h-3zM20 275h3v1h-3zM26 275h3v1h-3zM32 275h3v1h-3zM38 275h3v1h-3zM44 275h3v1h-3zM50 275h3v1h-3zM56 275h3v1h-3zM62 275h3v1h-3zM68 275h3v1h-3zM74 275h3v1h-3zM80 275h3v1h-3zM86 275h3v1h-3zM92 275h3v1h-3zM98 275h3v1h-3zM104 275h3v1h-3zM110 275h3v1h-3zM116 275h3v1h-3zM122 275h3v1h-3zM128 275h3v1h-3zM134 275h3v1h-3zM140 275h3v1h-3zM146 275h3v1h-3zM152 275h3v1h-3zM158 275h3v1h-3zM164 275h3v1h-3zM170 275h3v1h-3zM176 275h3v1h-3zM182 275h3v1h-3zM188 275h3v1h-3zM194 275h3v1h-3zM200 275h3v1h-3zM206 275h3v1h-3zM212 275h3v1h-3zM218 275h3v1h-3zM224 275h3v1h-3zM230 275h3v1h-3zM236 275h3v1h-3zM242 275h3v1h-3zM248 275h3v1h-3zM254 275h3v1h-3zM260 275h3v1h-3zM266 275h3v1h-3zM272 275h3v1h-3zM278 275h3v1h-3zM284 275h3v1h-3zM290 275h3v1h-3zM296 275h3v1h-3zM302 275h3v1h-3zM308 275h3v1h-3zM314 275h3v1h-3zM320 275h3v1h-3zM326 275h3v1h-3zM332 275h3v1h-3zM338 275h3v1h-3zM344 275h3v1h-3zM350 275h3v1h-3zM356 275h3v1h-3zM362 275h3v1h-3zM368 275h3v1h-3zM374 275h3v1h-3zM380 275h3v1h-3zM386 275h3v1h-3zM392 275h3v1h-3zM398 275h3v1h-3zM404 275h3v1h-3zM410 275h3v1h-3zM416 275h3v1h-3zM422 275h3v1h-3zM428 275h3v1h-3zM434 275h3v1h-3zM440 275h3v1h-3zM446 275h3v1h-3zM452 275h3v1h-3zM458 275h3v1h-3zM464 275h3v1h-3zM470 275h3v1h-3zM476 275h3v1h-3zM482 275h3v1h-3zM488 275h3v1h-3zM494 275h3v1h-3zM500 275h3v1h-3zM506 275h3v1h-3zM512 275h3v1h-3zM518 275h3v1h-3zM524 275h3v1h-3zM530 275h3v1h-3zM536 275h3v1h-3zM542 275h3v1h-3zM548 275h3v1h-3zM554 275h3v1h-3zM560 275h3v1h-3zM566 275h3v1h-3zM572 275h3v1h-3zM578 275h3v1h-3zM584 275h3v1h-3zM590 275h3v1h-3zM596 275h3v1h-3zM602 275h3v1h-3zM608 275h3v1h-3zM614 275h3v1h-3zM620 275h3v1h-3zM626 275h3v1h-3zM632 275h3v1h-3zM638 275h3v1h-3zM644 275h3v1h-3zM650 275h3v1h-3zM656 275h3v1h-3zM662 275h3v1h-3zM668 275h3v1h-3zM674 275h3v1h-3zM680 275h3v1h-3zM686 275h3v1h-3zM692 275h3v1h-3zM698 275h3v1h-3zM704 275h3v1h-3zM710 275h3v1h-3zM716 275h3v1h-3zM722 275h3v1h-3zM728 275h3v1h-3zM734 275h3v1h-3zM740 275h3v1h-3zM746 275h1v1h-1z" fill="#EEE8F1"/>
<path d="M3 460h2v1h-2zM8 460h3v1h-3zM14 460h3v1h-3zM20 460h3v1h-3zM26 460h3v1h-3zM32 460h3v1h-3zM38 460h3v1h-3zM44 460h3v1h-3zM50 460h3v1h-3zM56 460h3v1h-3zM62 460h3v1h-3zM68 460h3v1h-3zM74 460h3v1h-3zM80 460h3v1h-3zM86 460h3v1h-3zM92 460h3v1h-3zM98 460h3v1h-3zM104 460h3v1h-3zM110 460h3v1h-3zM116 460h3v1h-3zM122 460h3v1h-3zM128 460h3v1h-3zM134 460h3v1h-3zM140 460h3v1h-3zM146 460h3v1h-3zM152 460h3v1h-3zM158 460h3v1h-3zM164 460h3v1h-3zM170 460h3v1h-3zM176 460h3v1h-3zM182 460h3v1h-3zM188 460h3v1h-3zM194 460h3v1h-3zM200 460h3v1h-3zM206 460h3v1h-3zM212 460h3v1h-3zM218 460h3v1h-3zM224 460h3v1h-3zM230 460h3v1h-3zM236 460h3v1h-3zM242 460h3v1h-3zM248 460h3v1h-3zM254 460h3v1h-3zM260 460h3v1h-3zM266 460h3v1h-3zM272 460h3v1h-3zM278 460h3v1h-3zM284 460h3v1h-3zM290 460h3v1h-3zM296 460h3v1h-3zM302 460h3v1h-3zM308 460h3v1h-3zM314 460h3v1h-3zM320 460h3v1h-3zM326 460h3v1h-3zM332 460h3v1h-3zM338 460h3v1h-3zM344 460h3v1h-3zM350 460h3v1h-3zM356 460h3v1h-3zM362 460h3v1h-3zM368 460h3v1h-3zM374 460h3v1h-3zM380 460h3v1h-3zM386 460h3v1h-3zM392 460h3v1h-3zM398 460h3v1h-3zM404 460h3v1h-3zM410 460h3v1h-3zM416 460h3v1h-3zM422 460h3v1h-3zM428 460h3v1h-3zM434 460h3v1h-3zM440 460h3v1h-3zM446 460h3v1h-3zM452 460h3v1h-3zM458 460h3v1h-3zM464 460h3v1h-3zM470 460h3v1h-3zM476 460h3v1h-3zM482 460h3v1h-3zM488 460h3v1h-3zM494 460h3v1h-3zM500 460h3v1h-3zM506 460h3v1h-3zM512 460h3v1h-3zM518 460h3v1h-3zM524 460h3v1h-3zM530 460h3v1h-3zM536 460h3v1h-3zM542 460h3v1h-3zM548 460h3v1h-3zM554 460h3v1h-3zM560 460h3v1h-3zM566 460h3v1h-3zM572 460h3v1h-3zM578 460h3v1h-3zM584 460h3v1h-3zM590 460h3v1h-3zM596 460h3v1h-3zM602 460h3v1h-3zM608 460h3v1h-3zM614 460h3v1h-3zM620 460h3v1h-3zM626 460h3v1h-3zM632 460h3v1h-3zM638 460h3v1h-3zM644 460h3v1h-3zM650 460h3v1h-3zM656 460h3v1h-3zM662 460h3v1h-3zM668 460h3v1h-3zM674 460h3v1h-3zM680 460h3v1h-3zM686 460h3v1h-3zM692 460h3v1h-3zM698 460h3v1h-3zM704 460h3v1h-3zM710 460h3v1h-3zM716 460h3v1h-3zM722 460h3v1h-3zM728 460h3v1h-3zM734 460h3v1h-3zM740 460h3v1h-3zM746 460h1v1h-1z" fill="#EEE8F1"/>
<path d="M3 336h2v1h-2zM8 336h3v1h-3zM14 336h3v1h-3zM20 336h3v1h-3zM26 336h3v1h-3zM32 336h3v1h-3zM38 336h3v1h-3zM44 336h3v1h-3zM50 336h3v1h-3zM56 336h3v1h-3zM62 336h3v1h-3zM68 336h3v1h-3zM74 336h3v1h-3zM80 336h3v1h-3zM86 336h3v1h-3zM92 336h3v1h-3zM98 336h3v1h-3zM104 336h3v1h-3zM110 336h3v1h-3zM116 336h3v1h-3zM122 336h3v1h-3zM128 336h3v1h-3zM134 336h3v1h-3zM140 336h3v1h-3zM146 336h3v1h-3zM152 336h3v1h-3zM158 336h3v1h-3zM164 336h3v1h-3zM170 336h3v1h-3zM176 336h3v1h-3zM182 336h3v1h-3zM188 336h3v1h-3zM194 336h3v1h-3zM200 336h3v1h-3zM206 336h3v1h-3zM212 336h3v1h-3zM218 336h3v1h-3zM224 336h3v1h-3zM230 336h3v1h-3zM236 336h3v1h-3zM242 336h3v1h-3zM248 336h3v1h-3zM254 336h3v1h-3zM260 336h3v1h-3zM266 336h3v1h-3zM272 336h3v1h-3zM278 336h3v1h-3zM284 336h3v1h-3zM290 336h3v1h-3zM296 336h3v1h-3zM302 336h3v1h-3zM308 336h3v1h-3zM314 336h3v1h-3zM320 336h3v1h-3zM326 336h3v1h-3zM332 336h3v1h-3zM338 336h3v1h-3zM344 336h3v1h-3zM350 336h3v1h-3zM356 336h3v1h-3zM362 336h3v1h-3zM368 336h3v1h-3zM374 336h3v1h-3zM380 336h3v1h-3zM386 336h3v1h-3zM392 336h3v1h-3zM398 336h3v1h-3zM404 336h3v1h-3zM410 336h3v1h-3zM416 336h3v1h-3zM422 336h3v1h-3zM428 336h3v1h-3zM434 336h3v1h-3zM440 336h3v1h-3zM446 336h3v1h-3zM452 336h3v1h-3zM458 336h3v1h-3zM464 336h3v1h-3zM470 336h3v1h-3zM476 336h3v1h-3zM482 336h3v1h-3zM488 336h3v1h-3zM494 336h3v1h-3zM500 336h3v1h-3zM506 336h3v1h-3zM512 336h3v1h-3zM518 336h3v1h-3zM524 336h3v1h-3zM530 336h3v1h-3zM536 336h3v1h-3zM542 336h3v1h-3zM548 336h3v1h-3zM554 336h3v1h-3zM560 336h3v1h-3zM566 336h3v1h-3zM572 336h3v1h-3zM578 336h3v1h-3zM584 336h3v1h-3zM590 336h3v1h-3zM596 336h3v1h-3zM602 336h3v1h-3zM608 336h3v1h-3zM614 336h3v1h-3zM620 336h3v1h-3zM626 336h3v1h-3zM632 336h3v1h-3zM638 336h3v1h-3zM644 336h3v1h-3zM650 336h3v1h-3zM656 336h3v1h-3zM662 336h3v1h-3zM668 336h3v1h-3zM674 336h3v1h-3zM680 336h3v1h-3zM686 336h3v1h-3zM692 336h3v1h-3zM698 336h3v1h-3zM704 336h3v1h-3zM710 336h3v1h-3zM716 336h3v1h-3zM722 336h3v1h-3zM728 336h3v1h-3zM734 336h3v1h-3zM740 336h3v1h-3zM746 336h1v1h-1z" fill="#C0C0C0"/>
<path d="M3 354h2v1h-2zM8 354h3v1h-3zM14 354h3v1h-3zM20 354h3v1h-3zM26 354h3v1h-3zM32 354h3v1h-3zM38 354h3v1h-3zM44 354h3v1h-3zM50 354h3v1h-3zM56 354h3v1h-3zM62 354h3v1h-3zM68 354h3v1h-3zM74 354h3v1h-3zM80 354h3v1h-3zM86 354h3v1h-3zM92 354h3v1h-3zM98 354h3v1h-3zM104 354h3v1h-3zM110 354h3v1h-3zM116 354h3v1h-3zM122 354h3v1h-3zM128 354h3v1h-3zM134 354h3v1h-3zM140 354h3v1h-3zM146 354h3v1h-3zM152 354h3v1h-3zM158 354h3v1h-3zM164 354h3v1h-3zM170 354h3v1h-3zM176 354h3v1h-3zM182 354h3v1h-3zM188 354h3v1h-3zM194 354h3v1h-3zM200 354h3v1h-3zM206 354h3v1h-3zM212 354h3v1h-3zM218 354h3v1h-3zM224 354h3v1h-3zM230 354h3v1h-3zM236 354h3v1h-3zM242 354h3v1h-3zM248 354h3v1h-3zM254 354h3v1h-3zM260 354h3v1h-3zM266 354h3v1h-3zM272 354h3v1h-3zM278 354h3v1h-3zM284 354h3v1h-3zM290 354h3v1h-3zM296 354h3v1h-3zM302 354h3v1h-3zM308 354h3v1h-3zM314 354h3v1h-3zM320 354h3v1h-3zM326 354h3v1h-3zM332 354h3v1h-3zM338 354h3v1h-3zM344 354h3v1h-3zM350 354h3v1h-3zM356 354h3v1h-3zM362 354h3v1h-3zM368 354h3v1h-3zM374 354h3v1h-3zM380 354h3v1h-3zM386 354h3v1h-3zM392 354h3v1h-3zM398 354h3v1h-3zM404 354h3v1h-3zM410 354h3v1h-3zM416 354h3v1h-3zM422 354h3v1h-3zM428 354h3v1h-3zM434 354h3v1h-3zM440 354h3v1h-3zM446 354h3v1h-3zM452 354h3v1h-3zM458 354h3v1h-3zM464 354h3v1h-3zM470 354h3v1h-3zM476 354h3v1h-3zM482 354h3v1h-3zM488 354h3v1h-3zM494 354h3v1h-3zM500 354h3v1h-3zM506 354h3v1h-3zM512 354h3v1h-3zM518 354h3v1h-3zM524 354h3v1h-3zM530 354h3v1h-3zM536 354h3v1h-3zM542 354h3v1h-3zM548 354h3v1h-3zM554 354h3v1h-3zM560 354h3v1h-3zM566 354h3v1h-3zM572 354h3v1h-3zM578 354h3v1h-3zM584 354h3v1h-3zM590 354h3v1h-3zM596 354h3v1h-3zM602 354h3v1h-3zM608 354h3v1h-3zM614 354h3v1h-3zM620 354h3v1h-3zM626 354h3v1h-3zM632 354h3v1h-3zM638 354h3v1h-3zM644 354h3v1h-3zM650 354h3v1h-3zM656 354h3v1h-3zM662 354h3v1h-3zM668 354h3v1h-3zM674 354h3v1h-3zM680 354h3v1h-3zM686 354h3v1h-3zM692 354h3v1h-3zM698 354h3v1h-3zM704 354h3v1h-3zM710 354h3v1h-3zM716 354h3v1h-3zM722 354h3v1h-3zM728 354h3v1h-3zM734 354h3v1h-3zM740 354h3v1h-3zM746 354h1v1h-1z" fill="#C0C0C0"/>
<path d="M3 373h2v1h-2zM8 373h3v1h-3zM14 373h3v1h-3zM20 373h3v1h-3zM26 373h3v1h-3zM32 373h3v1h-3zM38 373h3v1h-3zM44 373h3v1h-3zM50 373h3v1h-3zM56 373h3v1h-3zM62 373h3v1h-3zM68 373h3v1h-3zM74 373h3v1h-3zM80 373h3v1h-3zM86 373h3v1h-3zM92 373h3v1h-3zM98 373h3v1h-3zM104 373h3v1h-3zM110 373h3v1h-3zM116 373h3v1h-3zM122 373h3v1h-3zM128 373h3v1h-3zM134 373h3v1h-3zM140 373h3v1h-3zM146 373h3v1h-3zM152 373h3v1h-3zM158 373h3v1h-3zM164 373h3v1h-3zM170 373h3v1h-3zM176 373h3v1h-3zM182 373h3v1h-3zM188 373h3v1h-3zM194 373h3v1h-3zM200 373h3v1h-3zM206 373h3v1h-3zM212 373h3v1h-3zM218 373h3v1h-3zM224 373h3v1h-3zM230 373h3v1h-3zM236 373h3v1h-3zM242 373h3v1h-3zM248 373h3v1h-3zM254 373h3v1h-3zM260 373h3v1h-3zM266 373h3v1h-3zM272 373h3v1h-3zM278 373h3v1h-3zM284 373h3v1h-3zM290 373h3v1h-3zM296 373h3v1h-3zM302 373h3v1h-3zM308 373h3v1h-3zM314 373h3v1h-3zM320 373h3v1h-3zM326 373h3v1h-3zM332 373h3v1h-3zM338 373h3v1h-3zM344 373h3v1h-3zM350 373h3v1h-3zM356 373h3v1h-3zM362 373h3v1h-3zM368 373h3v1h-3zM374 373h3v1h-3zM380 373h3v1h-3zM386 373h3v1h-3zM392 373h3v1h-3zM398 373h3v1h-3zM404 373h3v1h-3zM410 373h3v1h-3zM416 373h3v1h-3zM422 373h3v1h-3zM428 373h3v1h-3zM434 373h3v1h-3zM440 373h3v1h-3zM446 373h3v1h-3zM452 373h3v1h-3zM458 373h3v1h-3zM464 373h3v1h-3zM470 373h3v1h-3zM476 373h3v1h-3zM482 373h3v1h-3zM488 373h3v1h-3zM494 373h3v1h-3zM500 373h3v1h-3zM506 373h3v1h-3zM512 373h3v1h-3zM518 373h3v1h-3zM524 373h3v1h-3zM530 373h3v1h-3zM536 373h3v1h-3zM542 373h3v1h-3zM548 373h3v1h-3zM554 373h3v1h-3zM560 373h3v1h-3zM566 373h3v1h-3zM572 373h3v1h-3zM578 373h3v1h-3zM584 373h3v1h-3zM590 373h3v1h-3zM596 373h3v1h-3zM602 373h3v1h-3zM608 373h3v1h-3zM614 373h3v1h-3zM620 373h3v1h-3zM626 373h3v1h-3zM632 373h3v1h-3zM638 373h3v1h-3zM644 373h3v1h-3zM650 373h3v1h-3zM656 373h3v1h-3zM662 373h3v1h-3zM668 373h3v1h-3zM674 373h3v1h-3zM680 373h3v1h-3zM686 373h3v1h-3zM692 373h3v1h-3zM698 373h3v1h-3zM704 373h3v1h-3zM710 373h3v1h-3zM716 373h3v1h-3zM722 373h3v1h-3zM728 373h3v1h-3zM734 373h3v1h-3zM740 373h3v1h-3zM746 373h1v1h-1z" fill="#C0C0C0"/>
<path d="M3 505h2v1h-2zM8 505h3v1h-3zM14 505h3v1h-3zM20 505h3v1h-3zM26 505h3v1h-3zM32 505h3v1h-3zM38 505h3v1h-3zM44 505h3v1h-3zM50 505h3v1h-3zM56 505h3v1h-3zM62 505h3v1h-3zM68 505h3v1h-3zM74 505h3v1h-3zM80 505h3v1h-3zM86 505h3v1h-3zM92 505h3v1h-3zM98 505h3v1h-3zM104 505h3v1h-3zM110 505h3v1h-3zM116 505h3v1h-3zM122 505h3v1h-3zM128 505h3v1h-3zM134 505h3v1h-3zM140 505h3v1h-3zM146 505h3v1h-3zM152 505h3v1h-3zM158 505h3v1h-3zM164 505h3v1h-3zM170 505h3v1h-3zM176 505h3v1h-3zM182 505h3v1h-3zM188 505h3v1h-3zM194 505h3v1h-3zM200 505h3v1h-3zM206 505h3v1h-3zM212 505h3v1h-3zM218 505h3v1h-3zM224 505h3v1h-3zM230 505h3v1h-3zM236 505h3v1h-3zM242 505h3v1h-3zM248 505h3v1h-3zM254 505h3v1h-3zM260 505h3v1h-3zM266 505h3v1h-3zM272 505h3v1h-3zM278 505h3v1h-3zM284 505h3v1h-3zM290 505h3v1h-3zM296 505h3v1h-3zM302 505h3v1h-3zM308 505h3v1h-3zM314 505h3v1h-3zM320 505h3v1h-3zM326 505h3v1h-3zM332 505h3v1h-3zM338 505h3v1h-3zM344 505h3v1h-3zM350 505h3v1h-3zM356 505h3v1h-3zM362 505h3v1h-3zM368 505h3v1h-3zM374 505h3v1h-3zM380 505h3v1h-3zM386 505h3v1h-3zM392 505h3v1h-3zM398 505h3v1h-3zM404 505h3v1h-3zM410 505h3v1h-3zM416 505h3v1h-3zM422 505h3v1h-3zM428 505h3v1h-3zM434 505h3v1h-3zM440 505h3v1h-3zM446 505h3v1h-3zM452 505h3v1h-3zM458 505h3v1h-3zM464 505h3v1h-3zM470 505h3v1h-3zM476 505h3v1h-3zM482 505h3v1h-3zM488 505h3v1h-3zM494 505h3v1h-3zM500 505h3v1h-3zM506 505h3v1h-3zM512 505h3v1h-3zM518 505h3v1h-3zM524 505h3v1h-3zM530 505h3v1h-3zM536 505h3v1h-3zM542 505h3v1h-3zM548 505h3v1h-3zM554 505h3v1h-3zM560 505h3v1h-3zM566 505h3v1h-3zM572 505h3v1h-3zM578 505h3v1h-3zM584 505h3v1h-3zM590 505h3v1h-3zM596 505h3v1h-3zM602 505h3v1h-3zM608 505h3v1h-3zM614 505h3v1h-3zM620 505h3v1h-3zM626 505h3v1h-3zM632 505h3v1h-3zM638 505h3v1h-3zM644 505h3v1h-3zM650 505h3v1h-3zM656 505h3v1h-3zM662 505h3v1h-3zM668 505h3v1h-3zM674 505h3v1h-3zM680 505h3v1h-3zM686 505h3v1h-3zM692 505h3v1h-3zM698 505h3v1h-3zM704 505h3v1h-3zM710 505h3v1h-3zM716 505h3v1h-3zM722 505h3v1h-3zM728 505h3v1h-3zM734 505h3v1h-3zM740 505h3v1h-3zM746 505h1v1h-1z" fill="#C0C0C0"/>
<path d="M3 560h2v1h-2zM8 560h3v1h-3zM14 560h3v1h-3zM20 560h3v1h-3zM26 560h3v1h-3zM32 560h3v1h-3zM38 560h3v1h-3zM44 560h3v1h-3zM50 560h3v1h-3zM56 560h3v1h-3zM62 560h3v1h-3zM68 560h3v1h-3zM74 560h3v1h-3zM80 560h3v1h-3zM86 560h3v1h-3zM92 560h3v1h-3zM98 560h3v1h-3zM104 560h3v1h-3zM110 560h3v1h-3zM116 560h3v1h-3zM122 560h3v1h-3zM128 560h3v1h-3zM134 560h3v1h-3zM140 560h3v1h-3zM146 560h3v1h-3zM152 560h3v1h-3zM158 560h3v1h-3zM164 560h3v1h-3zM170 560h3v1h-3zM176 560h3v1h-3zM182 560h3v1h-3zM188 560h3v1h-3zM194 560h3v1h-3zM200 560h3v1h-3zM206 560h3v1h-3zM212 560h3v1h-3zM218 560h3v1h-3zM224 560h3v1h-3zM230 560h3v1h-3zM236 560h3v1h-3zM242 560h3v1h-3zM248 560h3v1h-3zM254 560h3v1h-3zM260 560h3v1h-3zM266 560h3v1h-3zM272 560h3v1h-3zM278 560h3v1h-3zM284 560h3v1h-3zM290 560h3v1h-3zM296 560h3v1h-3zM302 560h3v1h-3zM308 560h3v1h-3zM314 560h3v1h-3zM320 560h3v1h-3zM326 560h3v1h-3zM332 560h3v1h-3zM338 560h3v1h-3zM344 560h3v1h-3zM350 560h3v1h-3zM356 560h3v1h-3zM362 560h3v1h-3zM368 560h3v1h-3zM374 560h3v1h-3zM380 560h3v1h-3zM386 560h3v1h-3zM392 560h3v1h-3zM398 560h3v1h-3zM404 560h3v1h-3zM410 560h3v1h-3zM416 560h3v1h-3zM422 560h3v1h-3zM428 560h3v1h-3zM434 560h3v1h-3zM440 560h3v1h-3zM446 560h3v1h-3zM452 560h3v1h-3zM458 560h3v1h-3zM464 560h3v1h-3zM470 560h3v1h-3zM476 560h3v1h-3zM482 560h3v1h-3zM488 560h3v1h-3zM494 560h3v1h-3zM500 560h3v1h-3zM506 560h3v1h-3zM512 560h3v1h-3zM518 560h3v1h-3zM524 560h3v1h-3zM530 560h3v1h-3zM536 560h3v1h-3zM542 560h3v1h-3zM548 560h3v1h-3zM554 560h3v1h-3zM560 560h3v1h-3zM566 560h3v1h-3zM572 560h3v1h-3zM578 560h3v1h-3zM584 560h3v1h-3zM590 560h3v1h-3zM596 560h3v1h-3zM602 560h3v1h-3zM608 560h3v1h-3zM614 560h3v1h-3zM620 560h3v1h-3zM626 560h3v1h-3zM632 560h3v1h-3zM638 560h3v1h-3zM644 560h3v1h-3zM650 560h3v1h-3zM656 560h3v1h-3zM662 560h3v1h-3zM668 560h3v1h-3zM674 560h3v1h-3zM680 560h3v1h-3zM686 560h3v1h-3zM692 560h3v1h-3zM698 560h3v1h-3zM704 560h3v1h-3zM710 560h3v1h-3zM716 560h3v1h-3zM722 560h3v1h-3zM728 560h3v1h-3zM734 560h3v1h-3zM740 560h3v1h-3zM746 560h1v1h-1z" fill="#C0C0C0"/>
<defs><clipPath id="cm"><rect x="3" y="3" width="744" height="304"/></clipPath></defs>
<g id="candles" clip-path="url(#cm)">
<rect x="2" y="263" width="1" height="36" fill="#000"/>
<rect x="0" y="263" width="5" height="36" fill="#000"/>
<rect x="1" y="264" width="3" height="34" fill="#00FA7D"/>
<rect x="10" y="256" width="1" height="29" fill="#000"/>
<rect x="8" y="263" width="5" height="15" fill="#000"/>
<rect x="9" y="264" width="3" height="13" fill="#FF1493"/>
<rect x="18" y="275" width="1" height="10" fill="#000"/>
<rect x="16" y="277" width="5" height="5" fill="#000"/>
<rect x="17" y="278" width="3" height="3" fill="#FF1493"/>
<rect x="26" y="273" width="1" height="15" fill="#000"/>
<rect x="24" y="281" width="5" height="7" fill="#000"/>
<rect x="25" y="282" width="3" height="5" fill="#FF1493"/>
<rect x="34" y="286" width="1" height="15" fill="#000"/>
<rect x="32" y="287" width="5" height="13" fill="#000"/>
<rect x="33" y="288" width="3" height="11" fill="#FF1493"/>
<rect x="42" y="280" width="1" height="21" fill="#000"/>
<rect x="40" y="287" width="5" height="13" fill="#000"/>
<rect x="41" y="288" width="3" height="11" fill="#00FA7D"/>
<rect x="50" y="263" width="1" height="31" fill="#000"/>
<rect x="48" y="280" width="5" height="8" fill="#000"/>
<rect x="49" y="281" width="3" height="6" fill="#00FA7D"/>
<rect x="58" y="260" width="1" height="34" fill="#000"/>
<rect x="56" y="267" width="5" height="14" fill="#000"/>
<rect x="57" y="268" width="3" height="12" fill="#00FA7D"/>
<rect x="66" y="258" width="1" height="21" fill="#000"/>
<rect x="64" y="267" width="5" height="4" fill="#000"/>
<rect x="65" y="268" width="3" height="2" fill="#FF1493"/>
<rect x="74" y="230" width="1" height="34" fill="#000"/>
<rect x="72" y="235" width="5" height="3" fill="#000"/>
<rect x="73" y="236" width="3" height="1" fill="#00FA7D"/>
<rect x="82" y="218" width="1" height="21" fill="#000"/>
<rect x="80" y="225" width="5" height="11" fill="#000"/>
<rect x="81" y="226" width="3" height="9" fill="#00FA7D"/>
<rect x="90" y="201" width="1" height="31" fill="#000"/>
<rect x="88" y="210" width="5" height="16" fill="#000"/>
<rect x="89" y="211" width="3" height="14" fill="#00FA7D"/>
<rect x="98" y="210" width="1" height="32" fill="#000"/>
<rect x="96" y="210" width="5" height="23" fill="#000"/>
<rect x="97" y="211" width="3" height="21" fill="#FF1493"/>
<rect x="106" y="209" width="1" height="55" fill="#000"/>
<rect x="104" y="232" width="5" height="19" fill="#000"/>
<rect x="105" y="233" width="3" height="17" fill="#FF1493"/>
<rect x="114" y="238" width="1" height="21" fill="#000"/>
<rect x="112" y="241" width="5" height="10" fill="#000"/>
<rect x="113" y="242" width="3" height="8" fill="#00FA7D"/>
<rect x="122" y="239" width="1" height="14" fill="#000"/>
<rect x="120" y="241" width="5" height="7" fill="#000"/>
<rect x="121" y="242" width="3" height="5" fill="#FF1493"/>
<rect x="130" y="245" width="1" height="11" fill="#000"/>
<rect x="128" y="247" width="5" height="6" fill="#000"/>
<rect x="129" y="248" width="3" height="4" fill="#FF1493"/>
<rect x="138" y="245" width="1" height="27" fill="#000"/>
<rect x="136" y="252" width="5" height="11" fill="#000"/>
<rect x="137" y="253" width="3" height="9" fill="#FF1493"/>
<rect x="146" y="248" width="1" height="27" fill="#000"/>
<rect x="144" y="250" width="5" height="13" fill="#000"/>
<rect x="145" y="251" width="3" height="11" fill="#00FA7D"/>
<rect x="154" y="233" width="1" height="26" fill="#000"/>
<rect x="152" y="250" width="5" height="1" fill="#000"/>
<rect x="162" y="233" width="1" height="20" fill="#000"/>
<rect x="160" y="236" width="5" height="15" fill="#000"/>
<rect x="161" y="237" width="3" height="13" fill="#00FA7D"/>
<rect x="170" y="225" width="1" height="20" fill="#000"/>
<rect x="168" y="232" width="5" height="5" fill="#000"/>
<rect x="169" y="233" width="3" height="3" fill="#00FA7D"/>
<rect x="178" y="231" width="1" height="11" fill="#000"/>
<rect x="176" y="232" width="5" height="7" fill="#000"/>
<rect x="177" y="233" width="3" height="5" fill="#FF1493"/>
<rect x="186" y="215" width="1" height="31" fill="#000"/>
<rect x="184" y="221" width="5" height="18" fill="#000"/>
<rect x="185" y="222" width="3" height="16" fill="#00FA7D"/>
<rect x="194" y="199" width="1" height="29" fill="#000"/>
<rect x="192" y="203" width="5" height="19" fill="#000"/>
<rect x="193" y="204" width="3" height="17" fill="#00FA7D"/>
<rect x="202" y="157" width="1" height="50" fill="#000"/>
<rect x="200" y="180" width="5" height="24" fill="#000"/>
<rect x="201" y="181" width="3" height="22" fill="#00FA7D"/>
<rect x="210" y="180" width="1" height="20" fill="#000"/>
<rect x="208" y="180" width="5" height="13" fill="#000"/>
<rect x="209" y="181" width="3" height="11" fill="#FF1493"/>
<rect x="218" y="182" width="1" height="19" fill="#000"/>
<rect x="216" y="184" width="5" height="9" fill="#000"/>
<rect x="217" y="185" width="3" height="7" fill="#00FA7D"/>
<rect x="226" y="181" width="1" height="13" fill="#000"/>
<rect x="224" y="184" width="5" height="7" fill="#000"/>
<rect x="225" y="185" width="3" height="5" fill="#FF1493"/>
<rect x="234" y="172" width="1" height="21" fill="#000"/>
<rect x="232" y="174" width="5" height="17" fill="#000"/>
<rect x="233" y="175" width="3" height="15" fill="#00FA7D"/>
<rect x="242" y="172" width="1" height="11" fill="#000"/>
<rect x="240" y="174" width="5" height="6" fill="#000"/>
<rect x="241" y="175" width="3" height="4" fill="#FF1493"/>
<rect x="250" y="161" width="1" height="21" fill="#000"/>
<rect x="248" y="162" width="5" height="18" fill="#000"/>
<rect x="249" y="163" width="3" height="16" fill="#00FA7D"/>
<rect x="258" y="161" width="1" height="6" fill="#000"/>
<rect x="256" y="163" width="5" height="3" fill="#000"/>
<rect x="257" y="164" width="3" height="1" fill="#FF1493"/>
<rect x="266" y="156" width="1" height="11" fill="#000"/>
<rect x="264" y="160" width="5" height="6" fill="#000"/>
<rect x="265" y="161" width="3" height="4" fill="#00FA7D"/>
<rect x="274" y="149" width="1" height="13" fill="#000"/>
<rect x="272" y="152" width="5" height="9" fill="#000"/>
<rect x="273" y="153" width="3" height="7" fill="#00FA7D"/>
<rect x="282" y="142" width="1" height="17" fill="#000"/>
<rect x="280" y="145" width="5" height="8" fill="#000"/>
<rect x="281" y="146" width="3" height="6" fill="#00FA7D"/>
<rect x="290" y="129" width="1" height="50" fill="#000"/>
<rect x="288" y="143" width="5" height="3" fill="#000"/>
<rect x="289" y="144" width="3" height="1" fill="#00FA7D"/>
<rect x="298" y="138" width="1" height="27" fill="#000"/>
<rect x="296" y="143" width="5" height="6" fill="#000"/>
<rect x="297" y="144" width="3" height="4" fill="#FF1493"/>
<rect x="306" y="129" width="1" height="21" fill="#000"/>
<rect x="304" y="133" width="5" height="16" fill="#000"/>
<rect x="305" y="134" width="3" height="14" fill="#00FA7D"/>
<rect x="314" y="140" width="1" height="35" fill="#000"/>
<rect x="312" y="152" width="5" height="23" fill="#000"/>
<rect x="313" y="153" width="3" height="21" fill="#00FA7D"/>
<rect x="322" y="136" width="1" height="19" fill="#000"/>
<rect x="320" y="144" width="5" height="9" fill="#000"/>
<rect x="321" y="145" width="3" height="7" fill="#00FA7D"/>
<rect x="330" y="130" width="1" height="31" fill="#000"/>
<rect x="328" y="134" width="5" height="11" fill="#000"/>
<rect x="329" y="135" width="3" height="9" fill="#00FA7D"/>
<rect x="338" y="127" width="1" height="24" fill="#000"/>
<rect x="336" y="128" width="5" height="7" fill="#000"/>
<rect x="337" y="129" width="3" height="5" fill="#00FA7D"/>
<rect x="346" y="128" width="1" height="18" fill="#000"/>
<rect x="344" y="128" width="5" height="13" fill="#000"/>
<rect x="345" y="129" width="3" height="11" fill="#FF1493"/>
<rect x="354" y="139" width="1" height="13" fill="#000"/>
<rect x="352" y="140" width="5" height="11" fill="#000"/>
<rect x="353" y="141" width="3" height="9" fill="#FF1493"/>
<rect x="362" y="139" width="1" height="13" fill="#000"/>
<rect x="360" y="146" width="5" height="5" fill="#000"/>
<rect x="361" y="147" width="3" height="3" fill="#00FA7D"/>
<rect x="370" y="142" width="1" height="14" fill="#000"/>
<rect x="368" y="143" width="5" height="4" fill="#000"/>
<rect x="369" y="144" width="3" height="2" fill="#00FA7D"/>
<rect x="378" y="142" width="1" height="18" fill="#000"/>
<rect x="376" y="143" width="5" height="9" fill="#000"/>
<rect x="377" y="144" width="3" height="7" fill="#FF1493"/>
<rect x="386" y="145" width="1" height="18" fill="#000"/>
<rect x="384" y="151" width="5" height="9" fill="#000"/>
<rect x="385" y="152" width="3" height="7" fill="#FF1493"/>
<rect x="394" y="145" width="1" height="26" fill="#000"/>
<rect x="392" y="159" width="5" height="7" fill="#000"/>
<rect x="393" y="160" width="3" height="5" fill="#FF1493"/>
<rect x="402" y="158" width="1" height="12" fill="#000"/>
<rect x="400" y="161" width="5" height="5" fill="#000"/>
<rect x="401" y="162" width="3" height="3" fill="#00FA7D"/>
<rect x="410" y="158" width="1" height="9" fill="#000"/>
<rect x="408" y="162" width="5" height="2" fill="#000"/>
<rect x="418" y="153" width="1" height="12" fill="#000"/>
<rect x="416" y="155" width="5" height="8" fill="#000"/>
<rect x="417" y="156" width="3" height="6" fill="#00FA7D"/>
<rect x="426" y="148" width="1" height="16" fill="#000"/>
<rect x="424" y="155" width="5" height="5" fill="#000"/>
<rect x="425" y="156" width="3" height="3" fill="#FF1493"/>
<rect x="434" y="145" width="1" height="17" fill="#000"/>
<rect x="432" y="146" width="5" height="14" fill="#000"/>
<rect x="433" y="147" width="3" height="12" fill="#00FA7D"/>
<rect x="442" y="144" width="1" height="11" fill="#000"/>
<rect x="440" y="146" width="5" height="1" fill="#000"/>
<rect x="450" y="141" width="1" height="17" fill="#000"/>
<rect x="448" y="143" width="5" height="4" fill="#000"/>
<rect x="449" y="144" width="3" height="2" fill="#00FA7D"/>
<rect x="458" y="136" width="1" height="14" fill="#000"/>
<rect x="456" y="137" width="5" height="8" fill="#000"/>
<rect x="457" y="138" width="3" height="6" fill="#00FA7D"/>
<rect x="466" y="132" width="1" height="9" fill="#000"/>
<rect x="464" y="136" width="5" height="2" fill="#000"/>
<rect x="474" y="123" width="1" height="19" fill="#000"/>
<rect x="472" y="125" width="5" height="12" fill="#000"/>
<rect x="473" y="126" width="3" height="10" fill="#00FA7D"/>
<rect x="482" y="67" width="1" height="63" fill="#000"/>
<rect x="480" y="81" width="5" height="44" fill="#000"/>
<rect x="481" y="82" width="3" height="42" fill="#00FA7D"/>
<rect x="490" y="71" width="1" height="36" fill="#000"/>
<rect x="488" y="81" width="5" height="23" fill="#000"/>
<rect x="489" y="82" width="3" height="21" fill="#FF1493"/>
<rect x="498" y="99" width="1" height="12" fill="#000"/>
<rect x="496" y="101" width="5" height="3" fill="#000"/>
<rect x="497" y="102" width="3" height="1" fill="#00FA7D"/>
<rect x="506" y="94" width="1" height="17" fill="#000"/>
<rect x="504" y="100" width="5" height="2" fill="#000"/>
<rect x="514" y="97" width="1" height="10" fill="#000"/>
<rect x="512" y="100" width="5" height="1" fill="#000"/>
<rect x="522" y="81" width="1" height="28" fill="#000"/>
<rect x="520" y="81" width="5" height="20" fill="#000"/>
<rect x="521" y="82" width="3" height="18" fill="#00FA7D"/>
<rect x="530" y="74" width="1" height="23" fill="#000"/>
<rect x="528" y="77" width="5" height="5" fill="#000"/>
<rect x="529" y="78" width="3" height="3" fill="#00FA7D"/>
<rect x="538" y="55" width="1" height="27" fill="#000"/>
<rect x="536" y="62" width="5" height="16" fill="#000"/>
<rect x="537" y="63" width="3" height="14" fill="#00FA7D"/>
<rect x="546" y="54" width="1" height="13" fill="#000"/>
<rect x="544" y="60" width="5" height="3" fill="#000"/>
<rect x="545" y="61" width="3" height="1" fill="#00FA7D"/>
<rect x="554" y="74" width="1" height="13" fill="#000"/>
<rect x="552" y="79" width="5" height="5" fill="#000"/>
<rect x="553" y="80" width="3" height="3" fill="#00FA7D"/>
<rect x="562" y="71" width="1" height="12" fill="#000"/>
<rect x="560" y="74" width="5" height="6" fill="#000"/>
<rect x="561" y="75" width="3" height="4" fill="#00FA7D"/>
<rect x="570" y="57" width="1" height="28" fill="#000"/>
<rect x="568" y="58" width="5" height="17" fill="#000"/>
<rect x="569" y="59" width="3" height="15" fill="#00FA7D"/>
<rect x="578" y="44" width="1" height="21" fill="#000"/>
<rect x="576" y="58" width="5" height="2" fill="#000"/>
<rect x="586" y="43" width="1" height="25" fill="#000"/>
<rect x="584" y="59" width="5" height="2" fill="#000"/>
<rect x="594" y="60" width="1" height="15" fill="#000"/>
<rect x="592" y="60" width="5" height="14" fill="#000"/>
<rect x="593" y="61" width="3" height="12" fill="#FF1493"/>
<rect x="602" y="68" width="1" height="12" fill="#000"/>
<rect x="600" y="73" width="5" height="4" fill="#000"/>
<rect x="601" y="74" width="3" height="2" fill="#FF1493"/>
<rect x="610" y="73" width="1" height="7" fill="#000"/>
<rect x="608" y="75" width="5" height="2" fill="#000"/>
<rect x="618" y="64" width="1" height="22" fill="#000"/>
<rect x="616" y="66" width="5" height="10" fill="#000"/>
<rect x="617" y="67" width="3" height="8" fill="#00FA7D"/>
<rect x="626" y="61" width="1" height="33" fill="#000"/>
<rect x="624" y="66" width="5" height="23" fill="#000"/>
<rect x="625" y="67" width="3" height="21" fill="#FF1493"/>
<rect x="634" y="79" width="1" height="19" fill="#000"/>
<rect x="632" y="79" width="5" height="10" fill="#000"/>
<rect x="633" y="80" width="3" height="8" fill="#00FA7D"/>
<rect x="642" y="64" width="1" height="17" fill="#000"/>
<rect x="640" y="68" width="5" height="12" fill="#000"/>
<rect x="641" y="69" width="3" height="10" fill="#00FA7D"/>
<rect x="650" y="63" width="1" height="11" fill="#000"/>
<rect x="648" y="68" width="5" height="2" fill="#000"/>
<rect x="658" y="59" width="1" height="13" fill="#000"/>
<rect x="656" y="63" width="5" height="7" fill="#000"/>
<rect x="657" y="64" width="3" height="5" fill="#00FA7D"/>
<rect x="666" y="19" width="1" height="54" fill="#000"/>
<rect x="664" y="21" width="5" height="43" fill="#000"/>
<rect x="665" y="22" width="3" height="41" fill="#00FA7D"/>
<rect x="674" y="18" width="1" height="18" fill="#000"/>
<rect x="672" y="19" width="5" height="2" fill="#000"/>
<rect x="682" y="14" width="1" height="28" fill="#000"/>
<rect x="680" y="20" width="5" height="15" fill="#000"/>
<rect x="681" y="21" width="3" height="13" fill="#FF1493"/>
<rect x="690" y="23" width="1" height="14" fill="#000"/>
<rect x="688" y="24" width="5" height="11" fill="#000"/>
<rect x="689" y="25" width="3" height="9" fill="#00FA7D"/>
<rect x="698" y="22" width="1" height="7" fill="#000"/>
<rect x="696" y="24" width="5" height="3" fill="#000"/>
<rect x="697" y="25" width="3" height="1" fill="#FF1493"/>
<rect x="706" y="24" width="1" height="9" fill="#000"/>
<rect x="704" y="26" width="5" height="5" fill="#000"/>
<rect x="705" y="27" width="3" height="3" fill="#FF1493"/>
<rect x="714" y="24" width="1" height="15" fill="#000"/>
<rect x="712" y="30" width="5" height="4" fill="#000"/>
<rect x="713" y="31" width="3" height="2" fill="#FF1493"/>
<rect x="722" y="33" width="1" height="3" fill="#000"/>
<rect x="720" y="33" width="5" height="1" fill="#000"/>
</g>
<path d="M235 215h3v1h-3zM241 215h3v1h-3zM247 215h9v1h-9zM259 215h3v1h-3zM265 215h3v1h-3zM271 215h5v1h-5zM650 76h9v1h-9zM662 76h3v1h-3zM694 56h9v1h-9zM706 56h3v1h-3zM712 56h3v1h-3zM718 56h9v1h-9zM156 252h2v1h-2zM162 251h3v1h-3zM168 251h9v1h-9zM180 251h3v1h-3zM186 251h3v1h-3zM192 251h6v1h-6zM386 161h3v1h-3zM604 99h9v1h-9zM628 91h7v1h-7zM138 255h3v1h-3zM144 255h7v1h-7zM331 187h2v1h-2zM336 187h3v1h-3zM550 112h3v1h-3zM125 260h2v1h-2zM30 279h7v1h-7zM40 279h3v1h-3zM46 279h3v1h-3zM52 279h9v1h-9zM416 152h3v1h-3zM422 152h3v1h-3zM428 152h3v1h-3zM434 152h9v1h-9zM446 152h3v1h-3zM452 152h2v1h-2zM4 278h9v1h-9zM16 278h3v1h-3zM22 278h3v1h-3zM28 278h2v1h-2zM342 186h6v1h-6zM458 150h9v1h-9zM470 150h3v1h-3zM476 150h2v1h-2zM490 118h3v1h-3zM496 118h3v1h-3zM502 118h3v1h-3zM508 118h9v1h-9zM520 118h3v1h-3zM526 118h3v1h-3zM532 118h7v1h-7zM574 109h3v1h-3zM228 218h2v1h-2zM98 261h7v1h-7zM108 261h3v1h-3zM114 261h3v1h-3zM120 261h5v1h-5zM151 254h2v1h-2zM556 111h9v1h-9zM584 105h2v1h-2zM298 202h6v1h-6zM307 202h2v1h-2zM366 165h2v1h-2zM65 283h2v1h-2zM569 110h2v1h-2zM393 159h2v1h-2zM374 163h3v1h-3zM380 163h2v1h-2zM225 220h2v1h-2zM278 213h2v1h-2zM324 189h3v1h-3zM580 107h2v1h-2zM622 94h2v1h-2zM404 154h3v1h-3zM362 167h2v1h-2zM289 208h2v1h-2zM368 164h2v1h-2zM592 102h2v1h-2zM410 153h6v1h-6zM320 191h2v1h-2zM598 100h3v1h-3zM284 210h2v1h-2zM364 166h2v1h-2zM389 160h4v1h-4zM674 64h5v1h-5zM198 250h3v1h-3zM211 225h3v1h-3zM217 225h2v1h-2zM295 204h2v1h-2zM276 214h2v1h-2zM322 190h2v1h-2zM318 192h2v1h-2zM617 97h2v1h-2zM586 104h2v1h-2zM582 106h2v1h-2zM132 256h2v1h-2zM539 117h2v1h-2zM635 90h2v1h-2zM683 62v1h1v-1zM482 146v3h1v-3zM690 56v1h1v-1zM647 81v1h1v-1zM87 274v1h1v-1zM158 251v1h1v-1zM359 171v1h1v-1zM134 255v1h1v-1zM82 280v1h1v-1zM546 112v1h1v-1zM83 279v1h1v-1zM490 119v1h1v-1zM485 135v2h1v-2zM398 157v1h1v-1zM568 111v1h1v-1zM454 151v1h1v-1zM79 283v1h1v-1zM205 241v2h1v-2zM370 163v1h1v-1zM309 201v1h1v-1zM204 246v2h1v-2zM312 197v1h1v-1zM382 162v1h1v-1zM642 85v1h1v-1zM70 286v1h1v-1zM77 285v2h1v-2zM646 82v1h1v-1zM209 228v3h1v-3zM672 67v1h1v-1zM489 120v4h1v-4zM223 222v1h1v-1zM97 262v1h1v-1zM227 219v1h1v-1zM208 231v3h1v-3zM297 203v1h1v-1zM203 248v1h1v-1zM484 140v2h1v-2zM358 172v1h1v-1zM219 224v1h1v-1zM81 281v1h1v-1zM231 216v1h1v-1zM353 178v2h1v-2zM71 287v1h1v-1zM76 287v1h1v-1zM483 142v4h1v-4zM314 195v1h1v-1zM92 268v1h1v-1zM400 155v1h1v-1zM207 234v3h1v-3zM668 73v1h1v-1zM488 124v1h1v-1zM291 207v1h1v-1zM648 80v1h1v-1zM478 149v1h1v-1zM349 183v2h1v-2zM545 113v1h1v-1zM72 288v1h1v-1zM671 68v1h1v-1zM486 134v1h1v-1zM283 211v1h1v-1zM682 63v1h1v-1zM689 57v1h1v-1zM91 269v1h1v-1zM86 275v1h1v-1zM128 258v1h1v-1zM78 284v1h1v-1zM673 65v2h1v-2zM313 196v1h1v-1zM224 221v1h1v-1zM624 93v1h1v-1zM588 103v1h1v-1zM641 86v1h1v-1zM93 267v1h1v-1zM684 61v1h1v-1zM669 72v1h1v-1zM354 177v1h1v-1zM357 173v1h1v-1zM64 282v1h1v-1zM80 282v1h1v-1zM487 128v3h1v-3zM688 58v1h1v-1zM127 259v1h1v-1zM330 188v1h1v-1zM88 273v1h1v-1zM667 74v1h1v-1zM96 263v1h1v-1zM230 217v1h1v-1zM399 156v1h1v-1zM348 185v1h1v-1zM544 114v1h1v-1zM640 87v1h1v-1zM206 240v1h1v-1zM594 101v1h1v-1zM616 98v1h1v-1z" fill="#808080"/>
<path d="M233 274h74v1h-74zM210 293h9v1h-9zM386 193h5v1h-5zM162 300h41v1h-41zM458 174h18v1h-18zM600 158h2v1h-2zM323 249h2v1h-2zM227 277h2v1h-2zM402 183h3v1h-3zM482 170h79v1h-79zM391 192h4v1h-4zM454 176h2v1h-2zM363 205h2v1h-2zM409 181h3v1h-3zM417 178h35v1h-35zM330 245h17v1h-17zM650 110h19v1h-19zM626 141h9v1h-9zM672 108h11v1h-11zM368 202h2v1h-2zM584 163h5v1h-5zM415 179h2v1h-2zM602 157h9v1h-9zM576 164h8v1h-8zM370 201h9v1h-9zM456 175h2v1h-2zM365 204h2v1h-2zM598 159h2v1h-2zM229 276h2v1h-2zM452 177h2v1h-2zM593 161h3v1h-3zM405 182h4v1h-4zM567 167h2v1h-2zM325 248h2v1h-2zM561 169h4v1h-4zM480 171h2v1h-2zM571 165h5v1h-5zM412 180h3v1h-3zM476 173h2v1h-2zM589 162h4v1h-4zM569 166h2v1h-2zM596 160h2v1h-2zM669 109h3v1h-3zM478 172h2v1h-2zM205 297h2v1h-2zM565 168h2v1h-2zM328 246h2v1h-2zM155 305h2v1h-2zM159 302h2v1h-2zM231 275h2v1h-2zM355 224v3h1v-3zM312 262v2h1v-2zM354 227v3h1v-3zM358 216v3h1v-3zM347 242v2h1v-2zM647 117v2h1v-2zM397 189v1h1v-1zM638 135v2h1v-2zM223 283v2h1v-2zM641 131v2h1v-2zM622 145v1h1v-1zM619 148v1h1v-1zM646 119v3h1v-3zM315 258v1h1v-1zM222 285v2h1v-2zM307 272v2h1v-2zM684 105v2h1v-2zM400 185v1h1v-1zM311 264v2h1v-2zM381 198v1h1v-1zM353 230v2h1v-2zM687 102v1h1v-1zM645 122v2h1v-2zM637 137v1h1v-1zM362 206v2h1v-2zM352 232v2h1v-2zM203 299v1h1v-1zM644 124v3h1v-3zM348 240v2h1v-2zM648 114v3h1v-3zM318 254v2h1v-2zM617 150v1h1v-1zM640 133v1h1v-1zM310 266v2h1v-2zM207 296v1h1v-1zM614 153v1h1v-1zM157 304v1h1v-1zM361 208v3h1v-3zM161 301v1h1v-1zM226 278v1h1v-1zM621 146v1h1v-1zM317 256v1h1v-1zM221 287v2h1v-2zM683 107v1h1v-1zM686 103v1h1v-1zM399 186v1h1v-1zM383 196v1h1v-1zM360 211v2h1v-2zM320 252v1h1v-1zM225 279v2h1v-2zM351 234v2h1v-2zM616 151v1h1v-1zM636 138v1h1v-1zM643 127v2h1v-2zM220 289v2h1v-2zM309 268v2h1v-2zM398 187v2h1v-2zM359 213v3h1v-3zM689 99v1h1v-1zM623 144v1h1v-1zM209 294v1h1v-1zM639 134v1h1v-1zM224 281v2h1v-2zM611 156v1h1v-1zM350 236v2h1v-2zM385 194v1h1v-1zM642 129v2h1v-2zM346 244v1h1v-1zM316 257v1h1v-1zM319 253v1h1v-1zM650 111v1h1v-1zM357 219v3h1v-3zM314 259v1h1v-1zM401 184v1h1v-1zM219 291v2h1v-2zM382 197v1h1v-1zM396 190v1h1v-1zM322 250v1h1v-1zM688 100v2h1v-2zM618 149v1h1v-1zM154 306v1h1v-1zM349 238v2h1v-2zM649 112v2h1v-2zM625 142v1h1v-1zM613 154v1h1v-1zM356 222v2h1v-2zM380 199v1h1v-1zM395 191v1h1v-1zM620 147v1h1v-1zM313 260v2h1v-2zM384 195v1h1v-1zM321 251v1h1v-1zM690 98v1h1v-1zM308 270v2h1v-2zM635 139v2h1v-2zM615 152v1h1v-1zM379 200v1h1v-1zM327 247v1h1v-1zM624 143v1h1v-1zM204 298v1h1v-1zM685 104v1h1v-1zM367 203v1h1v-1zM208 295v1h1v-1zM158 303v1h1v-1zM612 155v1h1v-1z" fill="#FF0000"/>
<path d="M302 129h23v1h-23zM3 234h27v1h-27zM490 67h49v1h-49zM546 54h33v1h-33zM344 127h134v1h-134zM98 201h101v1h-101zM210 157h60v1h-60zM325 128h19v1h-19zM32 236h27v1h-27zM199 200h3v1h-3zM298 130h4v1h-4zM586 43h6v1h-6zM478 126h2v1h-2zM283 148h2v1h-2zM275 154h2v1h-2zM279 151h2v1h-2zM270 156h3v1h-3zM273 155h2v1h-2zM285 147h2v1h-2zM480 125h2v1h-2zM73 255h2v1h-2zM288 145h2v1h-2zM30 235h2v1h-2zM209 160v5h1v-5zM487 85v7h1v-7zM60 238v2h1v-2zM80 239v2h1v-2zM82 233v3h1v-3zM484 107v7h1v-7zM488 78v7h1v-7zM489 71v7h1v-7zM203 192v5h1v-5zM88 221v2h1v-2zM81 236v3h1v-3zM67 247v1h1v-1zM77 247v3h1v-3zM296 133v2h1v-2zM72 253v2h1v-2zM75 252v3h1v-3zM545 55v2h1v-2zM69 250v1h1v-1zM76 250v2h1v-2zM292 140v2h1v-2zM92 213v2h1v-2zM295 135v2h1v-2zM483 114v7h1v-7zM207 171v5h1v-5zM579 52v2h1v-2zM541 62v1h1v-1zM544 57v2h1v-2zM96 205v2h1v-2zM64 243v2h1v-2zM78 244v3h1v-3zM291 142v2h1v-2zM65 245v1h1v-1zM71 252v1h1v-1zM482 121v4h1v-4zM486 92v8h1v-8zM87 223v2h1v-2zM206 176v5h1v-5zM63 242v1h1v-1zM79 241v3h1v-3zM210 158v2h1v-2zM91 215v2h1v-2zM582 48v2h1v-2zM490 68v3h1v-3zM485 100v7h1v-7zM540 63v2h1v-2zM95 207v2h1v-2zM202 197v3h1v-3zM62 241v1h1v-1zM205 181v5h1v-5zM74 256v1h1v-1zM90 217v2h1v-2zM585 44v2h1v-2zM86 225v2h1v-2zM294 137v1h1v-1zM94 209v2h1v-2zM85 227v2h1v-2zM278 152v1h1v-1zM290 144v1h1v-1zM282 149v1h1v-1zM204 186v6h1v-6zM66 246v1h1v-1zM89 219v2h1v-2zM208 165v6h1v-6zM581 50v1h1v-1zM584 46v1h1v-1zM543 59v1h1v-1zM98 202v1h1v-1zM293 138v2h1v-2zM93 211v2h1v-2zM68 248v2h1v-2zM297 131v2h1v-2zM277 153v1h1v-1zM84 229v2h1v-2zM61 240v1h1v-1zM583 47v1h1v-1zM83 231v2h1v-2zM539 65v2h1v-2zM287 146v1h1v-1zM70 251v1h1v-1zM59 237v1h1v-1zM542 60v2h1v-2zM97 203v2h1v-2zM281 150v1h1v-1zM580 51v1h1v-1z" fill="#0000FF"/>
<path d="M687 15h2v1h-2zM689 14h41v1h-41zM674 19h5v1h-5zM685 16h2v1h-2zM679 18h4v1h-4zM683 17h2v1h-2zM668 35v3h1v-3zM672 24v3h1v-3zM667 38v3h1v-3zM666 41v2h1v-2zM669 32v3h1v-3zM673 21v3h1v-3zM671 27v3h1v-3zM670 30v2h1v-2zM674 20v1h1v-1z" fill="#0000FF"/>
<rect x="3" y="42" width="744" height="1" fill="#FF4500"/>
<rect x="3" y="98" width="744" height="1" fill="#FF4500"/>
<rect x="3" y="126" width="744" height="1" fill="#FF4500"/>
<path d="M350 109h3v1h-3zM602 25h3v1h-3zM479 66h3v1h-3zM254 141h3v1h-3zM170 169h3v1h-3zM506 57h3v1h-3zM299 126h3v1h-3zM74 201h3v1h-3zM326 117h3v1h-3zM203 158h3v1h-3zM119 186h3v1h-3zM428 83h3v1h-3zM407 90h3v1h-3zM659 6h3v1h-3zM23 218h3v1h-3zM248 143h3v1h-3zM227 150h3v1h-3zM152 175h3v1h-3zM68 203h3v1h-3zM131 182h3v1h-3zM47 210h3v1h-3zM356 107h3v1h-3zM389 96h3v1h-3zM176 167h3v1h-3zM80 199h3v1h-3zM305 124h3v1h-3zM125 184h3v1h-3zM626 17h3v1h-3zM542 45h3v1h-3zM29 216h3v1h-3zM446 77h3v1h-3zM575 34h3v1h-3zM491 62h3v1h-3zM266 137h3v1h-3zM395 94h3v1h-3zM620 19h3v1h-3zM599 26h3v1h-3zM11 222h3v1h-3zM524 51h3v1h-3zM215 154h3v1h-3zM440 79h3v1h-3zM503 58h3v1h-3zM92 195h3v1h-3zM419 86h3v1h-3zM344 111h3v1h-3zM323 118h3v1h-3zM548 43h3v1h-3zM164 171h3v1h-3zM452 75h3v1h-3zM41 212h3v1h-3zM143 178h3v1h-3zM368 103h3v1h-3zM581 32h3v1h-3zM272 135h3v1h-3zM497 60h3v1h-3zM401 92h3v1h-3zM317 120h3v1h-3zM221 152h3v1h-3zM638 13h3v1h-3zM587 30h3v1h-3zM464 71h3v1h-3zM284 131h3v1h-3zM536 47h3v1h-3zM188 163h3v1h-3zM413 88h3v1h-3zM515 54h3v1h-3zM104 191h3v1h-3zM644 11h3v1h-3zM8 223h3v1h-3zM233 148h3v1h-3zM137 180h3v1h-3zM53 208h3v1h-3zM341 112h3v1h-3zM593 28h3v1h-3zM182 165h3v1h-3zM161 172h3v1h-3zM86 197h3v1h-3zM3 225h2v1h-2zM65 204h3v1h-3zM290 129h3v1h-3zM494 61h3v1h-3zM110 189h3v1h-3zM314 121h3v1h-3zM14 221h3v1h-3zM239 146h3v1h-3zM656 7h3v1h-3zM218 153h3v1h-3zM59 206h3v1h-3zM560 39h3v1h-3zM476 67h3v1h-3zM380 99h3v1h-3zM605 24h3v1h-3zM167 170h3v1h-3zM509 56h3v1h-3zM200 159h3v1h-3zM425 84h3v1h-3zM629 16h3v1h-3zM329 116h3v1h-3zM554 41h3v1h-3zM116 187h3v1h-3zM533 48h3v1h-3zM458 73h3v1h-3zM149 176h3v1h-3zM374 101h3v1h-3zM437 80h3v1h-3zM353 108h3v1h-3zM662 5h3v1h-3zM278 133h3v1h-3zM257 140h3v1h-3zM482 65h3v1h-3zM98 193h3v1h-3zM386 97h3v1h-3zM77 200h3v1h-3zM302 125h3v1h-3zM611 22h3v1h-3zM590 29h3v1h-3zM179 166h3v1h-3zM206 157h3v1h-3zM431 82h3v1h-3zM410 89h3v1h-3zM335 114h3v1h-3zM26 217h3v1h-3zM251 142h3v1h-3zM539 46h3v1h-3zM155 174h3v1h-3zM572 35h3v1h-3zM359 106h3v1h-3zM263 138h3v1h-3zM488 63h3v1h-3zM56 207h3v1h-3zM521 52h3v1h-3zM308 123h3v1h-3zM650 9h3v1h-3zM212 155h3v1h-3zM134 181h3v1h-3zM470 69h3v1h-3zM38 213h3v1h-3zM551 42h3v1h-3zM578 33h3v1h-3zM371 102h3v1h-3zM398 93h3v1h-3zM623 18h3v1h-3zM275 134h3v1h-3zM191 162h3v1h-3zM527 50h3v1h-3zM95 194h3v1h-3zM347 110h3v1h-3zM635 14h3v1h-3zM224 151h3v1h-3zM455 74h3v1h-3zM44 211h3v1h-3zM584 31h3v1h-3zM173 168h3v1h-3zM500 59h3v1h-3zM377 100h3v1h-3zM404 91h3v1h-3zM197 160h3v1h-3zM230 149h3v1h-3zM101 192h3v1h-3zM17 220h3v1h-3zM647 10h3v1h-3zM563 38h3v1h-3zM50 209h3v1h-3zM467 70h3v1h-3zM383 98h3v1h-3zM83 198h3v1h-3zM596 27h3v1h-3zM287 130h3v1h-3zM512 55h3v1h-3zM416 87h3v1h-3zM107 190h3v1h-3zM32 215h3v1h-3zM320 119h3v1h-3zM236 147h3v1h-3zM545 44h3v1h-3zM113 188h3v1h-3zM140 179h3v1h-3zM365 104h3v1h-3zM260 139h3v1h-3zM569 36h3v1h-3zM269 136h3v1h-3zM185 164h3v1h-3zM473 68h3v1h-3zM62 205h3v1h-3zM89 196h3v1h-3zM293 128h3v1h-3zM518 53h3v1h-3zM422 85h3v1h-3zM338 113h3v1h-3zM242 145h3v1h-3zM146 177h3v1h-3zM608 23h3v1h-3zM485 64h3v1h-3zM641 12h3v1h-3zM557 40h3v1h-3zM209 156h3v1h-3zM461 72h3v1h-3zM665 4h3v1h-3zM281 132h3v1h-3zM158 173h3v1h-3zM362 105h3v1h-3zM614 21h3v1h-3zM434 81h3v1h-3zM311 122h3v1h-3zM35 214h3v1h-3zM653 8h3v1h-3zM530 49h3v1h-3zM194 161h3v1h-3zM632 15h3v1h-3zM566 37h3v1h-3zM296 127h3v1h-3zM20 219h3v1h-3zM245 144h3v1h-3zM449 76h3v1h-3zM122 185h3v1h-3zM668 3h3v1h-3zM71 202h3v1h-3zM392 95h3v1h-3zM617 20h3v1h-3zM128 183h3v1h-3zM5 224h3v1h-3zM443 78h3v1h-3zM332 115h3v1h-3z" fill="#0000FF"/>
<path d="M674 84h3v1h-3zM683 81h3v1h-3zM599 109h3v1h-3zM374 184h3v1h-3zM578 116h3v1h-3zM503 141h3v1h-3zM194 244h3v1h-3zM419 169h3v1h-3zM482 148h3v1h-3zM398 176h3v1h-3zM706 73h3v1h-3zM323 201h3v1h-3zM611 105h3v1h-3zM527 133h3v1h-3zM302 208h3v1h-3zM143 261h3v1h-3zM431 165h3v1h-3zM21 302h3v1h-3zM122 268h3v1h-3zM347 193h3v1h-3zM656 90h3v1h-3zM224 234h3v1h-3zM560 122h3v1h-3zM251 225h3v1h-3zM476 150h3v1h-3zM93 278h3v1h-3zM380 182h3v1h-3zM72 285h3v1h-3zM296 210h3v1h-3zM200 242h3v1h-3zM617 103h3v1h-3zM539 129h3v1h-3zM101 275h3v1h-3zM566 120h3v1h-3zM443 161h3v1h-3zM359 189h3v1h-3zM263 221h3v1h-3zM515 137h3v1h-3zM718 69h3v1h-3zM392 178h3v1h-3zM167 253h3v1h-3zM596 110h3v1h-3zM623 101h3v1h-3zM212 238h3v1h-3zM416 170h3v1h-3zM116 270h3v1h-3zM33 298h3v1h-3zM341 195h3v1h-3zM668 86h3v1h-3zM320 202h3v1h-3zM236 230h3v1h-3zM572 118h3v1h-3zM161 255h3v1h-3zM140 262h3v1h-3zM66 287h3v1h-3zM269 219h3v1h-3zM473 151h3v1h-3zM90 279h3v1h-3zM730 65h3v1h-3zM15 304h3v1h-3zM293 211h3v1h-3zM218 236h3v1h-3zM635 97h3v1h-3zM197 243h3v1h-3zM422 168h3v1h-3zM39 296h3v1h-3zM455 157h3v1h-3zM242 228h3v1h-3zM742 61h3v1h-3zM584 114h3v1h-3zM146 260h3v1h-3zM488 146h3v1h-3zM404 174h3v1h-3zM691 78h3v1h-3zM608 106h3v1h-3zM308 206h3v1h-3zM533 131h3v1h-3zM96 277h3v1h-3zM512 138h3v1h-3zM736 63h3v1h-3zM437 163h3v1h-3zM128 266h3v1h-3zM353 191h3v1h-3zM715 70h3v1h-3zM641 95h3v1h-3zM332 198h3v1h-3zM557 123h3v1h-3zM257 223h3v1h-3zM45 294h3v1h-3zM461 155h3v1h-3zM665 87h3v1h-3zM78 283h3v1h-3zM365 187h3v1h-3zM281 215h3v1h-3zM590 112h3v1h-3zM569 119h3v1h-3zM158 256h3v1h-3zM494 144h3v1h-3zM185 247h3v1h-3zM410 172h3v1h-3zM614 104h3v1h-3zM27 300h3v1h-3zM314 204h3v1h-3zM230 232h3v1h-3zM518 136h3v1h-3zM107 273h3v1h-3zM434 164h3v1h-3zM134 264h3v1h-3zM647 93h3v1h-3zM338 196h3v1h-3zM563 121h3v1h-3zM680 82h3v1h-3zM467 153h3v1h-3zM383 181h3v1h-3zM84 281h3v1h-3zM500 142h3v1h-3zM287 213h3v1h-3zM703 74h3v1h-3zM629 99h3v1h-3zM191 245h3v1h-3zM113 271h3v1h-3zM449 159h3v1h-3zM653 91h3v1h-3zM530 132h3v1h-3zM350 192h3v1h-3zM686 80h3v1h-3zM602 108h3v1h-3zM254 224h3v1h-3zM170 252h3v1h-3zM479 149h3v1h-3zM506 140h3v1h-3zM709 72h3v1h-3zM299 209h3v1h-3zM326 200h3v1h-3zM203 241h3v1h-3zM119 269h3v1h-3zM428 166h3v1h-3zM407 173h3v1h-3zM659 89h3v1h-3zM24 301h3v1h-3zM248 226h3v1h-3zM227 233h3v1h-3zM152 258h3v1h-3zM69 286h3v1h-3zM131 265h3v1h-3zM356 190h3v1h-3zM389 179h3v1h-3zM176 250h3v1h-3zM81 282h3v1h-3zM305 207h3v1h-3zM721 68h3v1h-3zM125 267h3v1h-3zM626 100h3v1h-3zM542 128h3v1h-3zM30 299h3v1h-3zM446 160h3v1h-3zM671 85h3v1h-3zM575 117h3v1h-3zM266 220h3v1h-3zM491 145h3v1h-3zM395 177h3v1h-3zM620 102h3v1h-3zM12 305h3v1h-3zM524 134h3v1h-3zM215 237h3v1h-3zM440 162h3v1h-3zM727 66h3v1h-3zM344 194h3v1h-3zM548 126h3v1h-3zM164 254h3v1h-3zM452 158h3v1h-3zM42 295h3v1h-3zM368 186h3v1h-3zM677 83h3v1h-3zM272 218h3v1h-3zM497 143h3v1h-3zM401 175h3v1h-3zM317 203h3v1h-3zM18 303h3v1h-3zM221 235h3v1h-3zM638 96h3v1h-3zM745 60h2v1h-2zM587 113h3v1h-3zM464 154h3v1h-3zM75 284h3v1h-3zM694 77h3v1h-3zM284 214h3v1h-3zM536 130h3v1h-3zM188 246h3v1h-3zM104 274h3v1h-3zM413 171h3v1h-3zM739 62h3v1h-3zM644 94h3v1h-3zM233 231h3v1h-3zM137 263h3v1h-3zM54 291h3v1h-3zM593 111h3v1h-3zM182 248h3v1h-3zM87 280h3v1h-3zM290 212h3v1h-3zM110 272h3v1h-3zM36 297h3v1h-3zM239 229h3v1h-3zM60 289h3v1h-3zM605 107h3v1h-3zM9 306h3v1h-3zM509 139h3v1h-3zM425 167h3v1h-3zM712 71h3v1h-3zM329 199h3v1h-3zM554 124h3v1h-3zM458 156h3v1h-3zM149 259h3v1h-3zM662 88h3v1h-3zM278 216h3v1h-3zM173 251h3v1h-3zM99 276h2v1h-2zM386 180h3v1h-3zM179 249h3v1h-3zM206 240h3v1h-3zM48 293h3v1h-3zM335 197h3v1h-3zM155 257h3v1h-3zM700 75h3v1h-3zM521 135h3v1h-3zM724 67h3v1h-3zM650 92h3v1h-3zM470 152h3v1h-3zM551 125h3v1h-3zM371 185h3v1h-3zM275 217h3v1h-3zM245 227h3v1h-3zM377 183h3v1h-3zM697 76h3v1h-3zM51 292h3v1h-3zM545 127h3v1h-3zM57 290h3v1h-3zM260 222h3v1h-3zM63 288h3v1h-3zM209 239h3v1h-3zM485 147h3v1h-3zM632 98h3v1h-3zM362 188h3v1h-3zM311 205h3v1h-3zM581 115h3v1h-3zM733 64h3v1h-3zM689 79h2v1h-2z" fill="#0000FF"/>
<path d="M277 335h4v1h-4zM293 335h4v1h-4zM300 335h3v1h-3zM522 335h5v1h-5zM77 341h4v1h-4zM192 341h2v1h-2zM225 341h3v1h-3zM317 341h4v1h-4zM344 341h2v1h-2zM469 341h2v1h-2zM554 341h3v1h-3zM682 341h2v1h-2zM705 341h4v1h-4zM113 348h4v1h-4zM160 348h2v1h-2zM173 348h4v1h-4zM179 348h2v1h-2zM378 348h2v1h-2zM432 348h2v1h-2zM636 348h2v1h-2zM87 338h2v1h-2zM198 338h2v1h-2zM206 338h2v1h-2zM233 338h4v1h-4zM247 338h2v1h-2zM255 338h8v1h-8zM329 338h6v1h-6zM339 338h2v1h-2zM516 338h2v1h-2zM564 338h3v1h-3zM689 338h6v1h-6zM537 331h10v1h-10zM202 336h2v1h-2zM271 336h6v1h-6zM297 336h3v1h-3zM520 336h2v1h-2zM569 336h14v1h-14zM10 354h5v1h-5zM50 354h2v1h-2zM135 354h2v1h-2zM140 354h2v1h-2zM393 354h4v1h-4zM84 339h3v1h-3zM196 339h2v1h-2zM208 339h2v1h-2zM215 339h6v1h-6zM231 339h2v1h-2zM237 339h4v1h-4zM244 339h3v1h-3zM325 339h4v1h-4zM341 339h2v1h-2zM472 339h2v1h-2zM495 339h21v1h-21zM561 339h3v1h-3zM687 339h2v1h-2zM695 339h6v1h-6zM162 347h11v1h-11zM181 347h2v1h-2zM376 347h2v1h-2zM434 347h11v1h-11zM638 347h2v1h-2zM81 340h3v1h-3zM194 340h2v1h-2zM210 340h5v1h-5zM221 340h4v1h-4zM228 340h3v1h-3zM241 340h3v1h-3zM321 340h4v1h-4zM490 340h5v1h-5zM557 340h4v1h-4zM589 340h2v1h-2zM684 340h3v1h-3zM701 340h4v1h-4zM28 359h3v1h-3zM39 359h2v1h-2zM184 345h2v1h-2zM352 345h2v1h-2zM359 345h8v1h-8zM372 345h2v1h-2zM449 345h4v1h-4zM599 345h13v1h-13zM642 345h5v1h-5zM653 345h4v1h-4zM99 346h2v1h-2zM354 346h5v1h-5zM374 346h2v1h-2zM445 346h4v1h-4zM640 346h2v1h-2zM647 346h6v1h-6zM103 349h2v1h-2zM111 349h2v1h-2zM117 349h4v1h-4zM158 349h2v1h-2zM177 349h2v1h-2zM380 349h3v1h-3zM633 349h3v1h-3zM305 333h2v1h-2zM532 333h3v1h-3zM4 351h2v1h-2zM56 351h2v1h-2zM63 351h4v1h-4zM106 351h2v1h-2zM125 351h4v1h-4zM146 351h10v1h-10zM385 351h3v1h-3zM415 351h2v1h-2zM421 351h4v1h-4zM427 351h2v1h-2zM628 351h3v1h-3zM31 360h2v1h-2zM36 360h3v1h-3zM281 334h12v1h-12zM303 334h2v1h-2zM527 334h5v1h-5zM666 334h9v1h-9zM6 352h2v1h-2zM54 352h2v1h-2zM129 352h3v1h-3zM144 352h2v1h-2zM388 352h3v1h-3zM401 352h6v1h-6zM412 352h3v1h-3zM425 352h2v1h-2zM626 352h2v1h-2zM89 337h2v1h-2zM200 337h2v1h-2zM204 337h2v1h-2zM249 337h6v1h-6zM263 337h8v1h-8zM335 337h4v1h-4zM518 337h2v1h-2zM567 337h2v1h-2zM583 337h4v1h-4zM677 337h2v1h-2zM23 357h2v1h-2zM44 357h2v1h-2zM8 353h2v1h-2zM52 353h2v1h-2zM132 353h3v1h-3zM142 353h2v1h-2zM391 353h2v1h-2zM397 353h4v1h-4zM407 353h5v1h-5zM25 358h3v1h-3zM41 358h3v1h-3zM2 350h2v1h-2zM58 350h5v1h-5zM108 350h3v1h-3zM121 350h4v1h-4zM156 350h2v1h-2zM383 350h2v1h-2zM417 350h4v1h-4zM429 350h2v1h-2zM631 350h2v1h-2zM188 343h2v1h-2zM348 343h2v1h-2zM457 343h10v1h-10zM615 343h2v1h-2zM713 343h10v1h-10zM15 355h5v1h-5zM48 355h2v1h-2zM137 355h3v1h-3zM186 344h2v1h-2zM350 344h2v1h-2zM367 344h5v1h-5zM453 344h4v1h-4zM594 344h5v1h-5zM612 344h3v1h-3zM657 344h2v1h-2zM33 361h3v1h-3zM535 332h2v1h-2zM74 342h3v1h-3zM190 342h2v1h-2zM314 342h3v1h-3zM346 342h2v1h-2zM467 342h2v1h-2zM617 342h2v1h-2zM709 342h4v1h-4zM20 356h3v1h-3zM46 356h2v1h-2zM308 335v1h1v-1zM477 335v1h1v-1zM486 334v2h1v-2zM549 335v1h1v-1zM665 335v1h1v-1zM675 335v1h1v-1zM94 341v1h1v-1zM313 341v1h1v-1zM591 341v1h1v-1zM660 341v2h1v-2zM69 348v1h1v-1zM102 348v1h1v-1zM623 348v1h1v-1zM91 338v1h1v-1zM310 337v2h1v-2zM474 338v1h1v-1zM489 338v2h1v-2zM552 338v2h1v-2zM587 338v1h1v-1zM663 338v1h1v-1zM679 338v1h1v-1zM480 331v1h1v-1zM483 330v2h1v-2zM309 336v1h1v-1zM476 336v1h1v-1zM487 336v1h1v-1zM550 336v1h1v-1zM664 336v2h1v-2zM676 336v1h1v-1zM92 339v1h1v-1zM311 339v1h1v-1zM588 339v1h1v-1zM662 339v1h1v-1zM680 339v1h1v-1zM70 346v2h1v-2zM101 347v1h1v-1zM622 347v1h1v-1zM93 340v1h1v-1zM312 340v1h1v-1zM343 340v1h1v-1zM471 340v1h1v-1zM553 340v1h1v-1zM661 340v1h1v-1zM681 340v1h1v-1zM71 345v1h1v-1zM98 345v1h1v-1zM620 344v2h1v-2zM183 346v1h1v-1zM621 346v1h1v-1zM68 349v1h1v-1zM431 349v1h1v-1zM624 349v2h1v-2zM478 333v2h1v-2zM485 333v1h1v-1zM548 333v2h1v-2zM625 351v1h1v-1zM307 334v1h1v-1zM475 337v1h1v-1zM488 337v1h1v-1zM551 337v1h1v-1zM67 350v1h1v-1zM105 350v1h1v-1zM73 343v1h1v-1zM96 343v1h1v-1zM593 343v1h1v-1zM619 343v1h1v-1zM659 343v1h1v-1zM72 344v1h1v-1zM97 344v1h1v-1zM479 332v1h1v-1zM484 332v1h1v-1zM547 332v1h1v-1zM95 342v1h1v-1zM592 342v1h1v-1zM481 330v1h1v-1zM482 329v1h1v-1z" fill="#0000D8"/>
<rect x="10" y="461" width="1" height="11" fill="#008000"/>
<rect x="18" y="461" width="1" height="6" fill="#008000"/>
<rect x="26" y="461" width="1" height="2" fill="#008000"/>
<rect x="34" y="461" width="1" height="1" fill="#008000"/>
<rect x="42" y="461" width="1" height="2" fill="#FF0000"/>
<rect x="50" y="461" width="1" height="3" fill="#FF0000"/>
<rect x="58" y="461" width="1" height="3" fill="#008000"/>
<rect x="66" y="461" width="1" height="1" fill="#008000"/>
<rect x="74" y="455" width="1" height="5" fill="#008000"/>
<rect x="82" y="447" width="1" height="13" fill="#008000"/>
<rect x="90" y="439" width="1" height="21" fill="#008000"/>
<rect x="98" y="433" width="1" height="27" fill="#008000"/>
<rect x="106" y="429" width="1" height="31" fill="#008000"/>
<rect x="114" y="430" width="1" height="30" fill="#FF0000"/>
<rect x="122" y="434" width="1" height="26" fill="#FF0000"/>
<rect x="130" y="439" width="1" height="21" fill="#FF0000"/>
<rect x="138" y="444" width="1" height="16" fill="#FF0000"/>
<rect x="146" y="448" width="1" height="12" fill="#FF0000"/>
<rect x="154" y="448" width="1" height="12" fill="#008000"/>
<rect x="162" y="447" width="1" height="13" fill="#008000"/>
<rect x="170" y="445" width="1" height="15" fill="#008000"/>
<rect x="178" y="442" width="1" height="18" fill="#008000"/>
<rect x="186" y="439" width="1" height="21" fill="#008000"/>
<rect x="194" y="435" width="1" height="25" fill="#008000"/>
<rect x="202" y="428" width="1" height="32" fill="#008000"/>
<rect x="210" y="423" width="1" height="37" fill="#008000"/>
<rect x="218" y="418" width="1" height="42" fill="#008000"/>
<rect x="226" y="414" width="1" height="46" fill="#008000"/>
<rect x="234" y="412" width="1" height="48" fill="#008000"/>
<rect x="242" y="414" width="1" height="46" fill="#FF0000"/>
<rect x="250" y="414" width="1" height="46" fill="#FF0000"/>
<rect x="258" y="413" width="1" height="47" fill="#008000"/>
<rect x="266" y="412" width="1" height="48" fill="#008000"/>
<rect x="274" y="411" width="1" height="49" fill="#008000"/>
<rect x="282" y="409" width="1" height="51" fill="#008000"/>
<rect x="290" y="409" width="1" height="51" fill="#FF0000"/>
<rect x="298" y="410" width="1" height="50" fill="#FF0000"/>
<rect x="306" y="410" width="1" height="50" fill="#FF0000"/>
<rect x="314" y="414" width="1" height="46" fill="#FF0000"/>
<rect x="322" y="416" width="1" height="44" fill="#FF0000"/>
<rect x="330" y="418" width="1" height="42" fill="#FF0000"/>
<rect x="338" y="419" width="1" height="41" fill="#FF0000"/>
<rect x="346" y="421" width="1" height="39" fill="#FF0000"/>
<rect x="354" y="421" width="1" height="39" fill="#FF0000"/>
<rect x="362" y="422" width="1" height="38" fill="#FF0000"/>
<rect x="370" y="425" width="1" height="35" fill="#FF0000"/>
<rect x="378" y="428" width="1" height="32" fill="#FF0000"/>
<rect x="386" y="433" width="1" height="27" fill="#FF0000"/>
<rect x="394" y="437" width="1" height="23" fill="#FF0000"/>
<rect x="402" y="442" width="1" height="18" fill="#FF0000"/>
<rect x="410" y="446" width="1" height="14" fill="#FF0000"/>
<rect x="418" y="450" width="1" height="10" fill="#FF0000"/>
<rect x="426" y="452" width="1" height="8" fill="#FF0000"/>
<rect x="434" y="454" width="1" height="6" fill="#FF0000"/>
<rect x="442" y="453" width="1" height="7" fill="#008000"/>
<rect x="450" y="454" width="1" height="6" fill="#FF0000"/>
<rect x="458" y="453" width="1" height="7" fill="#008000"/>
<rect x="466" y="452" width="1" height="8" fill="#008000"/>
<rect x="474" y="450" width="1" height="10" fill="#008000"/>
<rect x="482" y="444" width="1" height="16" fill="#008000"/>
<rect x="490" y="436" width="1" height="24" fill="#008000"/>
<rect x="498" y="433" width="1" height="27" fill="#008000"/>
<rect x="506" y="429" width="1" height="31" fill="#008000"/>
<rect x="514" y="426" width="1" height="34" fill="#008000"/>
<rect x="522" y="427" width="1" height="33" fill="#FF0000"/>
<rect x="530" y="429" width="1" height="31" fill="#FF0000"/>
<rect x="538" y="425" width="1" height="35" fill="#008000"/>
<rect x="546" y="421" width="1" height="39" fill="#008000"/>
<rect x="554" y="419" width="1" height="41" fill="#008000"/>
<rect x="562" y="418" width="1" height="42" fill="#008000"/>
<rect x="570" y="418" width="1" height="42" fill="#008000"/>
<rect x="578" y="417" width="1" height="43" fill="#008000"/>
<rect x="586" y="419" width="1" height="41" fill="#FF0000"/>
<rect x="594" y="419" width="1" height="41" fill="#008000"/>
<rect x="602" y="420" width="1" height="40" fill="#FF0000"/>
<rect x="610" y="422" width="1" height="38" fill="#FF0000"/>
<rect x="618" y="427" width="1" height="33" fill="#FF0000"/>
<rect x="626" y="432" width="1" height="28" fill="#FF0000"/>
<rect x="634" y="436" width="1" height="24" fill="#FF0000"/>
<rect x="642" y="438" width="1" height="22" fill="#FF0000"/>
<rect x="650" y="438" width="1" height="22" fill="#FF0000"/>
<rect x="658" y="439" width="1" height="21" fill="#FF0000"/>
<rect x="666" y="437" width="1" height="23" fill="#008000"/>
<rect x="674" y="430" width="1" height="30" fill="#008000"/>
<rect x="682" y="426" width="1" height="34" fill="#008000"/>
<rect x="690" y="423" width="1" height="37" fill="#008000"/>
<rect x="698" y="420" width="1" height="40" fill="#008000"/>
<rect x="706" y="420" width="1" height="40" fill="#FF0000"/>
<rect x="714" y="424" width="1" height="36" fill="#FF0000"/>
<rect x="722" y="427" width="1" height="33" fill="#FF0000"/>
<path d="M60 528h2v1h-2zM142 528h2v1h-2zM187 528h2v1h-2zM395 528h2v1h-2zM631 528h2v1h-2zM111 503h2v1h-2zM257 503h3v1h-3zM357 503h4v1h-4zM488 503h2v1h-2zM495 503h5v1h-5zM548 503h2v1h-2zM596 503h3v1h-3zM693 503h2v1h-2zM216 511h2v1h-2zM376 511h2v1h-2zM517 511h4v1h-4zM532 511h3v1h-3zM67 524h2v1h-2zM13 545h2v1h-2zM446 545h2v1h-2zM212 513h2v1h-2zM613 513h2v1h-2zM214 512h2v1h-2zM521 512h11v1h-11zM26 534h2v1h-2zM642 534h5v1h-5zM662 534h2v1h-2zM260 502h2v1h-2zM351 502h6v1h-6zM490 502h5v1h-5zM550 502h2v1h-2zM593 502h3v1h-3zM721 502h2v1h-2zM231 507h16v1h-16zM369 507h2v1h-2zM506 507h2v1h-2zM541 507h2v1h-2zM605 507h2v1h-2zM647 535h8v1h-8zM660 535h2v1h-2zM426 550h10v1h-10zM439 548h2v1h-2zM96 498h2v1h-2zM101 498h4v1h-4zM268 498h3v1h-3zM321 498h3v1h-3zM561 498h22v1h-22zM117 508h2v1h-2zM225 508h6v1h-6zM371 508h2v1h-2zM508 508h3v1h-3zM539 508h2v1h-2zM255 504h2v1h-2zM361 504h3v1h-3zM486 504h2v1h-2zM500 504h2v1h-2zM546 504h2v1h-2zM599 504h2v1h-2zM691 504h2v1h-2zM210 514h2v1h-2zM30 532h2v1h-2zM151 532h2v1h-2zM173 532h4v1h-4zM638 532h2v1h-2zM247 506h5v1h-5zM367 506h2v1h-2zM482 506h2v1h-2zM504 506h2v1h-2zM603 506h2v1h-2zM105 499h2v1h-2zM266 499h2v1h-2zM324 499h3v1h-3zM557 499h4v1h-4zM583 499h5v1h-5zM703 499h8v1h-8zM91 501h2v1h-2zM262 501h2v1h-2zM329 501h22v1h-22zM552 501h2v1h-2zM591 501h2v1h-2zM696 501h2v1h-2zM717 501h4v1h-4zM34 530h5v1h-5zM146 530h2v1h-2zM181 530h4v1h-4zM634 530h2v1h-2zM71 521h2v1h-2zM252 505h3v1h-3zM364 505h3v1h-3zM484 505h2v1h-2zM502 505h2v1h-2zM544 505h2v1h-2zM601 505h2v1h-2zM205 517h2v1h-2zM192 525h2v1h-2zM627 525h2v1h-2zM39 529h21v1h-21zM144 529h2v1h-2zM185 529h2v1h-2zM218 510h3v1h-3zM513 510h4v1h-4zM535 510h2v1h-2zM416 544h2v1h-2zM448 544h2v1h-2zM125 515h2v1h-2zM208 515h2v1h-2zM381 515h2v1h-2zM133 522h2v1h-2zM197 522h2v1h-2zM200 520h2v1h-2zM621 520h2v1h-2zM62 527h2v1h-2zM140 527h2v1h-2zM189 527h2v1h-2zM64 526h2v1h-2zM138 526h2v1h-2zM413 542h2v1h-2zM281 493h6v1h-6zM303 493h6v1h-6zM421 547h2v1h-2zM441 547h3v1h-3zM32 531h2v1h-2zM148 531h3v1h-3zM177 531h4v1h-4zM399 531h2v1h-2zM636 531h2v1h-2zM203 518h2v1h-2zM28 533h2v1h-2zM153 533h20v1h-20zM640 533h2v1h-2zM664 533h2v1h-2zM279 494h2v1h-2zM309 494h4v1h-4zM93 500h2v1h-2zM107 500h2v1h-2zM264 500h2v1h-2zM327 500h2v1h-2zM554 500h3v1h-3zM588 500h3v1h-3zM698 500h5v1h-5zM711 500h6v1h-6zM287 492h16v1h-16zM98 497h3v1h-3zM271 497h2v1h-2zM319 497h2v1h-2zM221 509h4v1h-4zM373 509h2v1h-2zM511 509h2v1h-2zM537 509h2v1h-2zM608 509h2v1h-2zM276 495h3v1h-3zM313 495h3v1h-3zM273 496h3v1h-3zM316 496h3v1h-3zM21 538h2v1h-2zM195 523h2v1h-2zM405 536h2v1h-2zM655 536h5v1h-5zM419 546h2v1h-2zM444 546h2v1h-2zM424 549h2v1h-2zM436 549h3v1h-3zM411 541h2v1h-2zM464 527v2h1v-2zM670 527v2h1v-2zM89 503v1h1v-1zM82 511v1h1v-1zM121 511v1h1v-1zM478 510v2h1v-2zM611 511v1h1v-1zM684 511v1h1v-1zM136 524v1h1v-1zM194 524v1h1v-1zM391 524v1h1v-1zM467 524v1h1v-1zM626 524v1h1v-1zM673 524v1h1v-1zM418 545v1h1v-1zM80 513v1h1v-1zM123 513v1h1v-1zM379 513v1h1v-1zM476 513v1h1v-1zM682 513v1h1v-1zM81 512v1h1v-1zM122 512v1h1v-1zM378 512v1h1v-1zM477 512v1h1v-1zM612 512v1h1v-1zM683 512v1h1v-1zM403 534v1h1v-1zM459 534v1h1v-1zM90 502v1h1v-1zM110 502v1h1v-1zM695 502v1h1v-1zM86 506v2h1v-2zM116 507v1h1v-1zM481 507v1h1v-1zM688 507v1h1v-1zM25 535v1h1v-1zM404 535v1h1v-1zM458 535v1h1v-1zM8 550v1h1v-1zM10 548v1h1v-1zM423 548v1h1v-1zM85 508v1h1v-1zM480 508v1h1v-1zM607 508v1h1v-1zM687 508v1h1v-1zM88 504v1h1v-1zM113 504v1h1v-1zM79 514v1h1v-1zM124 514v1h1v-1zM380 514v1h1v-1zM475 514v1h1v-1zM615 514v1h1v-1zM681 514v1h1v-1zM401 532v1h1v-1zM460 532v2h1v-2zM666 532v1h1v-1zM115 506v1h1v-1zM543 506v1h1v-1zM689 506v1h1v-1zM95 499v1h1v-1zM109 501v1h1v-1zM398 530v1h1v-1zM462 530v1h1v-1zM668 530v1h1v-1zM132 521v1h1v-1zM199 521v1h1v-1zM388 521v1h1v-1zM469 521v1h1v-1zM623 521v1h1v-1zM676 520v2h1v-2zM87 505v1h1v-1zM114 505v1h1v-1zM690 505v1h1v-1zM76 517v1h1v-1zM128 517v1h1v-1zM384 517v1h1v-1zM472 517v2h1v-2zM618 517v1h1v-1zM679 517v1h1v-1zM66 525v1h1v-1zM137 525v1h1v-1zM392 525v1h1v-1zM466 525v1h1v-1zM672 525v1h1v-1zM397 529v1h1v-1zM463 529v1h1v-1zM633 529v1h1v-1zM669 529v1h1v-1zM83 510v1h1v-1zM120 510v1h1v-1zM375 510v1h1v-1zM610 510v1h1v-1zM685 510v1h1v-1zM7 551v1h1v-1zM15 544v1h1v-1zM78 515v1h1v-1zM474 515v1h1v-1zM616 515v1h1v-1zM680 515v2h1v-2zM70 522v1h1v-1zM389 522v1h1v-1zM468 522v2h1v-2zM624 522v1h1v-1zM675 522v1h1v-1zM73 520v1h1v-1zM131 520v1h1v-1zM387 520v1h1v-1zM470 520v1h1v-1zM394 527v1h1v-1zM630 527v1h1v-1zM191 526v1h1v-1zM393 526v1h1v-1zM465 526v1h1v-1zM629 526v1h1v-1zM671 526v1h1v-1zM17 542v1h1v-1zM451 542v1h1v-1zM11 547v1h1v-1zM461 531v1h1v-1zM667 531v1h1v-1zM75 518v1h1v-1zM129 518v1h1v-1zM385 518v1h1v-1zM619 518v1h1v-1zM678 518v1h1v-1zM402 533v1h1v-1zM74 519v1h1v-1zM130 519v1h1v-1zM202 519v1h1v-1zM386 519v1h1v-1zM471 519v1h1v-1zM620 519v1h1v-1zM677 519v1h1v-1zM84 509v1h1v-1zM119 509v1h1v-1zM479 509v1h1v-1zM686 509v1h1v-1zM20 539v1h1v-1zM409 539v1h1v-1zM454 539v1h1v-1zM2 556v1h1v-1zM408 538v1h1v-1zM455 538v1h1v-1zM69 523v1h1v-1zM135 523v1h1v-1zM390 523v1h1v-1zM625 523v1h1v-1zM674 523v1h1v-1zM24 536v1h1v-1zM457 536v1h1v-1zM16 543v1h1v-1zM415 543v1h1v-1zM450 543v1h1v-1zM12 546v1h1v-1zM9 549v1h1v-1zM77 516v1h1v-1zM127 516v1h1v-1zM207 516v1h1v-1zM383 516v1h1v-1zM473 516v1h1v-1zM617 516v1h1v-1zM19 540v1h1v-1zM410 540v1h1v-1zM453 540v1h1v-1zM4 554v1h1v-1zM18 541v1h1v-1zM452 541v1h1v-1zM6 552v1h1v-1zM5 553v1h1v-1zM23 537v1h1v-1zM407 537v1h1v-1zM456 537v1h1v-1zM3 555v1h1v-1z" fill="#FF0000"/>
<rect x="2" y="2" width="746" height="1" fill="#000"/>
<rect x="2" y="307" width="746" height="1" fill="#000"/>
<rect x="2" y="2" width="1" height="306" fill="#000"/>
<rect x="747" y="2" width="1" height="306" fill="#000"/>
<rect x="2" y="309" width="746" height="1" fill="#000"/>
<rect x="2" y="400" width="746" height="1" fill="#000"/>
<rect x="2" y="309" width="1" height="92" fill="#000"/>
<rect x="747" y="309" width="1" height="92" fill="#000"/>
<rect x="2" y="402" width="746" height="1" fill="#000"/>
<rect x="2" y="484" width="746" height="1" fill="#000"/>
<rect x="2" y="402" width="1" height="83" fill="#000"/>
<rect x="747" y="402" width="1" height="83" fill="#000"/>
<rect x="2" y="486" width="746" height="1" fill="#000"/>
<rect x="2" y="579" width="746" height="1" fill="#000"/>
<rect x="2" y="486" width="1" height="94" fill="#000"/>
<rect x="747" y="486" width="1" height="94" fill="#000"/>
<rect x="748" y="18" width="4" height="1" fill="#000"/>
<path d="M754 21h3v1h-3zM762 21h2v1h-2zM767 21h2v1h-2zM781 21h3v1h-3zM767 18h3v1h-3zM781 18h3v1h-3zM771 19h10v1h-10zM762 15h2v1h-2zM767 15h2v1h-2zM781 15h4v1h-4zM754 16h2v1h-2zM773 16h2v1h-2zM778 16h2v1h-2zM759 20v2h1v-2zM774 15v1h1v-1zM774 17v2h1v-2zM774 20v2h1v-2zM779 15v1h1v-1zM779 17v2h1v-2zM779 20v2h1v-2zM755 15v1h1v-1zM755 17v4h1v-4zM761 16v5h1v-5zM764 16v5h1v-5zM771 18v1h1v-1zM776 18v1h1v-1zM769 16v2h1v-2zM769 19v2h1v-2zM784 19v2h1v-2zM766 16v2h1v-2zM772 17v1h1v-1zM777 17v1h1v-1zM781 16v2h1v-2z" fill="#000"/>
<rect x="748" y="50" width="4" height="1" fill="#000"/>
<path d="M754 48h2v1h-2zM772 48h2v1h-2zM767 50h3v1h-3zM776 50h3v1h-3zM754 53h3v1h-3zM762 53h2v1h-2zM767 53h2v1h-2zM772 53h3v1h-3zM776 53h3v1h-3zM782 53h2v1h-2zM762 47h2v1h-2zM767 47h2v1h-2zM776 47h4v1h-4zM782 47h2v1h-2zM755 47v1h1v-1zM755 49v4h1v-4zM761 48v5h1v-5zM764 48v5h1v-5zM769 48v2h1v-2zM769 51v2h1v-2zM773 47v1h1v-1zM773 49v4h1v-4zM779 51v2h1v-2zM781 48v5h1v-5zM784 48v5h1v-5zM766 48v2h1v-2zM776 48v2h1v-2zM759 52v2h1v-2z" fill="#000"/>
<rect x="748" y="82" width="4" height="1" fill="#000"/>
<path d="M767 82h2v1h-2zM772 82h2v1h-2zM776 82h3v1h-3zM781 82h3v1h-3zM754 80h2v1h-2zM754 85h3v1h-3zM762 85h2v1h-2zM767 85h2v1h-2zM772 85h2v1h-2zM776 85h3v1h-3zM781 85h3v1h-3zM762 79h2v1h-2zM767 79h2v1h-2zM772 79h2v1h-2zM776 79h4v1h-4zM781 79h4v1h-4zM755 79v1h1v-1zM755 81v4h1v-4zM761 80v5h1v-5zM764 80v5h1v-5zM759 84v2h1v-2zM766 80v2h1v-2zM766 83v2h1v-2zM769 80v2h1v-2zM769 83v2h1v-2zM771 80v2h1v-2zM771 83v2h1v-2zM774 80v2h1v-2zM774 83v2h1v-2zM779 83v2h1v-2zM784 83v2h1v-2zM776 80v2h1v-2zM781 80v2h1v-2z" fill="#000"/>
<rect x="748" y="114" width="4" height="1" fill="#000"/>
<path d="M754 112h2v1h-2zM754 117h3v1h-3zM762 117h2v1h-2zM767 117h2v1h-2zM771 117h3v1h-3zM777 117h2v1h-2zM782 117h2v1h-2zM767 114h2v1h-2zM771 114h3v1h-3zM776 114h3v1h-3zM762 111h2v1h-2zM767 111h2v1h-2zM771 111h4v1h-4zM777 111h2v1h-2zM782 111h2v1h-2zM755 111v1h1v-1zM755 113v4h1v-4zM759 116v2h1v-2zM761 112v5h1v-5zM764 112v5h1v-5zM766 112v2h1v-2zM766 115v2h1v-2zM769 112v2h1v-2zM769 115v2h1v-2zM774 115v2h1v-2zM776 112v2h1v-2zM776 115v2h1v-2zM779 115v2h1v-2zM781 112v5h1v-5zM784 112v5h1v-5zM771 112v2h1v-2z" fill="#000"/>
<rect x="748" y="146" width="4" height="1" fill="#000"/>
<path d="M767 146h2v1h-2zM776 146h3v1h-3zM781 146h3v1h-3zM754 144h2v1h-2zM754 149h3v1h-3zM762 149h2v1h-2zM767 149h2v1h-2zM771 149h4v1h-4zM777 149h2v1h-2zM781 149h3v1h-3zM762 143h2v1h-2zM767 143h2v1h-2zM771 143h3v1h-3zM777 143h2v1h-2zM781 143h4v1h-4zM755 143v1h1v-1zM755 145v4h1v-4zM761 144v5h1v-5zM764 144v5h1v-5zM773 146v1h1v-1zM759 148v2h1v-2zM766 144v2h1v-2zM766 147v2h1v-2zM769 144v2h1v-2zM769 147v2h1v-2zM771 148v1h1v-1zM776 144v2h1v-2zM776 147v2h1v-2zM779 147v2h1v-2zM784 147v2h1v-2zM774 144v2h1v-2zM781 144v2h1v-2zM772 147v1h1v-1z" fill="#000"/>
<rect x="748" y="178" width="4" height="1" fill="#000"/>
<path d="M754 176h2v1h-2zM754 181h3v1h-3zM762 181h2v1h-2zM772 181h2v1h-2zM782 181h2v1h-2zM762 175h2v1h-2zM766 175h4v1h-4zM772 175h2v1h-2zM776 175h4v1h-4zM782 175h2v1h-2zM772 178h3v1h-3zM755 175v1h1v-1zM755 177v4h1v-4zM761 176v5h1v-5zM764 176v5h1v-5zM768 177v2h1v-2zM771 176v2h1v-2zM774 176v2h1v-2zM774 179v2h1v-2zM778 177v2h1v-2zM781 176v5h1v-5zM784 176v5h1v-5zM759 180v2h1v-2zM767 179v2h1v-2zM777 179v2h1v-2zM769 176v1h1v-1zM779 176v1h1v-1zM766 181v1h1v-1zM776 181v1h1v-1z" fill="#000"/>
<rect x="748" y="211" width="4" height="1" fill="#000"/>
<path d="M762 208h2v1h-2zM766 208h4v1h-4zM772 208h2v1h-2zM776 208h4v1h-4zM781 208h4v1h-4zM754 214h3v1h-3zM762 214h2v1h-2zM772 214h2v1h-2zM781 214h3v1h-3zM771 211h3v1h-3zM781 211h3v1h-3zM754 209h2v1h-2zM755 208v1h1v-1zM755 210v4h1v-4zM761 209v5h1v-5zM764 209v5h1v-5zM768 210v2h1v-2zM771 209v2h1v-2zM771 212v2h1v-2zM778 210v2h1v-2zM781 209v2h1v-2zM759 213v2h1v-2zM767 212v2h1v-2zM774 212v2h1v-2zM777 212v2h1v-2zM784 212v2h1v-2zM766 214v1h1v-1zM776 214v1h1v-1zM769 209v1h1v-1zM779 209v1h1v-1z" fill="#000"/>
<rect x="748" y="243" width="4" height="1" fill="#000"/>
<path d="M754 241h2v1h-2zM772 243h2v1h-2zM777 243h2v1h-2zM762 240h2v1h-2zM766 240h4v1h-4zM771 240h3v1h-3zM777 240h2v1h-2zM782 240h2v1h-2zM754 246h3v1h-3zM762 246h2v1h-2zM771 246h3v1h-3zM777 246h2v1h-2zM782 246h2v1h-2zM761 241v5h1v-5zM764 241v5h1v-5zM769 241v1h1v-1zM774 241v2h1v-2zM774 244v2h1v-2zM776 241v2h1v-2zM776 244v2h1v-2zM779 241v2h1v-2zM779 244v2h1v-2zM781 241v5h1v-5zM784 241v5h1v-5zM755 240v1h1v-1zM755 242v4h1v-4zM767 244v2h1v-2zM768 242v2h1v-2zM759 245v2h1v-2zM766 246v1h1v-1z" fill="#000"/>
<rect x="748" y="275" width="4" height="1" fill="#000"/>
<path d="M754 278h3v1h-3zM762 278h2v1h-2zM772 278h2v1h-2zM777 278h2v1h-2zM781 278h3v1h-3zM762 272h2v1h-2zM766 272h4v1h-4zM772 272h2v1h-2zM777 272h2v1h-2zM781 272h4v1h-4zM754 273h2v1h-2zM777 275h2v1h-2zM781 275h3v1h-3zM755 272v1h1v-1zM755 274v4h1v-4zM759 277v2h1v-2zM761 273v5h1v-5zM764 273v5h1v-5zM767 276v2h1v-2zM771 273v5h1v-5zM774 273v5h1v-5zM776 273v2h1v-2zM776 276v2h1v-2zM779 273v2h1v-2zM779 276v2h1v-2zM784 276v2h1v-2zM768 274v2h1v-2zM781 273v2h1v-2zM766 278v1h1v-1zM769 273v1h1v-1z" fill="#000"/>
<rect x="750" y="28" width="39" height="11" fill="#000"/>
<path d="M762 30h2v1h-2zM767 30h2v1h-2zM771 30h3v1h-3zM777 30h2v1h-2zM782 30h2v1h-2zM754 36h3v1h-3zM762 36h2v1h-2zM767 36h2v1h-2zM771 36h3v1h-3zM777 36h2v1h-2zM782 36h2v1h-2zM754 31h2v1h-2zM767 33h3v1h-3zM772 33h2v1h-2zM782 33h2v1h-2zM755 30v1h1v-1zM755 32v4h1v-4zM761 31v5h1v-5zM764 31v5h1v-5zM769 31v2h1v-2zM769 34v2h1v-2zM774 31v2h1v-2zM774 34v2h1v-2zM776 31v5h1v-5zM779 31v5h1v-5zM781 31v2h1v-2zM781 34v2h1v-2zM784 31v2h1v-2zM784 34v2h1v-2zM759 35v2h1v-2zM766 31v2h1v-2z" fill="#fff"/>
<rect x="750" y="37" width="39" height="11" fill="#FF4500"/>
<path d="M762 39h2v1h-2zM767 39h2v1h-2zM771 39h3v1h-3zM776 39h3v1h-3zM781 39h3v1h-3zM754 45h3v1h-3zM762 45h2v1h-2zM767 45h2v1h-2zM771 45h4v1h-4zM776 45h4v1h-4zM781 45h3v1h-3zM767 42h3v1h-3zM782 42h2v1h-2zM754 40h2v1h-2zM755 39v1h1v-1zM755 41v4h1v-4zM759 44v2h1v-2zM761 40v5h1v-5zM764 40v5h1v-5zM773 42v1h1v-1zM778 42v1h1v-1zM766 40v2h1v-2zM769 40v2h1v-2zM769 43v2h1v-2zM774 40v2h1v-2zM779 40v2h1v-2zM784 40v2h1v-2zM784 43v2h1v-2zM771 44v1h1v-1zM776 44v1h1v-1zM772 43v1h1v-1zM777 43v1h1v-1z" fill="#fff"/>
<rect x="750" y="93" width="39" height="11" fill="#FF4500"/>
<path d="M767 98h2v1h-2zM782 98h3v1h-3zM762 95h2v1h-2zM767 95h2v1h-2zM771 95h4v1h-4zM777 95h2v1h-2zM782 95h2v1h-2zM754 96h2v1h-2zM754 101h3v1h-3zM762 101h2v1h-2zM767 101h2v1h-2zM777 101h2v1h-2zM782 101h2v1h-2zM755 95v1h1v-1zM755 97v4h1v-4zM759 100v2h1v-2zM761 96v5h1v-5zM764 96v5h1v-5zM766 96v2h1v-2zM766 99v2h1v-2zM769 96v2h1v-2zM769 99v2h1v-2zM772 99v2h1v-2zM776 96v5h1v-5zM779 96v5h1v-5zM784 96v2h1v-2zM784 99v2h1v-2zM773 97v2h1v-2zM781 96v2h1v-2zM774 96v1h1v-1zM771 101v1h1v-1z" fill="#fff"/>
<rect x="750" y="121" width="39" height="11" fill="#FF4500"/>
<path d="M762 123h2v1h-2zM767 123h2v1h-2zM782 123h2v1h-2zM754 124h2v1h-2zM773 124h2v1h-2zM778 124h2v1h-2zM771 127h10v1h-10zM767 126h2v1h-2zM782 126h3v1h-3zM754 129h3v1h-3zM762 129h2v1h-2zM767 129h2v1h-2zM782 129h2v1h-2zM755 123v1h1v-1zM755 125v4h1v-4zM774 123v1h1v-1zM774 125v2h1v-2zM774 128v2h1v-2zM779 123v1h1v-1zM779 125v2h1v-2zM779 128v2h1v-2zM761 124v5h1v-5zM764 124v5h1v-5zM766 124v2h1v-2zM766 127v2h1v-2zM769 124v2h1v-2zM769 127v2h1v-2zM781 124v2h1v-2zM784 124v2h1v-2zM784 127v2h1v-2zM771 126v1h1v-1zM776 126v1h1v-1zM772 125v1h1v-1zM777 125v1h1v-1zM759 128v2h1v-2z" fill="#fff"/>
<rect x="748" y="310" width="4" height="1" fill="#000"/>
<path d="M754 312h2v1h-2zM759 311h2v1h-2zM764 311h2v1h-2zM772 311h2v1h-2zM777 311h2v1h-2zM754 317h3v1h-3zM759 317h2v1h-2zM764 317h2v1h-2zM772 317h2v1h-2zM777 317h2v1h-2zM758 312v5h1v-5zM761 312v5h1v-5zM763 312v5h1v-5zM766 312v5h1v-5zM771 312v5h1v-5zM774 312v5h1v-5zM776 312v5h1v-5zM779 312v5h1v-5zM755 311v1h1v-1zM755 313v4h1v-4zM769 316v2h1v-2z" fill="#000"/>
<rect x="748" y="336" width="4" height="1" fill="#000"/>
<path d="M753 333h4v1h-4zM759 333h2v1h-2zM767 333h2v1h-2zM772 333h2v1h-2zM759 339h2v1h-2zM767 339h2v1h-2zM772 339h2v1h-2zM754 337v2h1v-2zM758 334v5h1v-5zM761 334v5h1v-5zM766 334v5h1v-5zM769 334v5h1v-5zM771 334v5h1v-5zM774 334v5h1v-5zM756 334v1h1v-1zM755 335v2h1v-2zM764 338v2h1v-2zM753 339v1h1v-1z" fill="#000"/>
<rect x="748" y="354" width="4" height="1" fill="#000"/>
<path d="M753 354h3v1h-3zM753 351h4v1h-4zM759 351h2v1h-2zM767 351h2v1h-2zM772 351h2v1h-2zM753 357h3v1h-3zM759 357h2v1h-2zM767 357h2v1h-2zM772 357h2v1h-2zM756 355v2h1v-2zM758 352v5h1v-5zM761 352v5h1v-5zM766 352v5h1v-5zM769 352v5h1v-5zM771 352v5h1v-5zM774 352v5h1v-5zM753 352v2h1v-2zM764 356v2h1v-2z" fill="#000"/>
<rect x="748" y="373" width="4" height="1" fill="#000"/>
<path d="M753 370h3v1h-3zM759 370h2v1h-2zM767 370h2v1h-2zM772 370h2v1h-2zM753 376h3v1h-3zM759 376h2v1h-2zM767 376h2v1h-2zM772 376h2v1h-2zM754 373h2v1h-2zM756 371v2h1v-2zM756 374v2h1v-2zM758 371v5h1v-5zM761 371v5h1v-5zM766 371v5h1v-5zM769 371v5h1v-5zM771 371v5h1v-5zM774 371v5h1v-5zM764 375v2h1v-2z" fill="#000"/>
<rect x="748" y="399" width="4" height="1" fill="#000"/>
<path d="M754 392h2v1h-2zM762 392h2v1h-2zM767 392h2v1h-2zM754 398h2v1h-2zM762 398h2v1h-2zM767 398h2v1h-2zM753 393v5h1v-5zM756 393v5h1v-5zM761 393v5h1v-5zM764 393v5h1v-5zM766 393v5h1v-5zM769 393v5h1v-5zM759 397v2h1v-2z" fill="#000"/>
<rect x="748" y="403" width="4" height="1" fill="#000"/>
<path d="M786 408h5v1h-5zM782 405h2v1h-2zM788 405h2v1h-2zM754 404h2v1h-2zM762 404h2v1h-2zM767 404h2v1h-2zM772 404h2v1h-2zM777 404h2v1h-2zM771 407h3v1h-3zM777 407h3v1h-3zM754 410h2v1h-2zM762 410h2v1h-2zM767 410h2v1h-2zM772 410h2v1h-2zM777 410h2v1h-2zM782 410h3v1h-3zM753 405v5h1v-5zM756 405v5h1v-5zM759 409v2h1v-2zM761 405v5h1v-5zM764 405v5h1v-5zM766 405v5h1v-5zM769 405v5h1v-5zM771 405v2h1v-2zM771 408v2h1v-2zM774 408v2h1v-2zM779 405v2h1v-2zM779 408v2h1v-2zM783 404v1h1v-1zM783 406v4h1v-4zM789 404v1h1v-1zM789 406v2h1v-2zM789 409v2h1v-2zM776 405v2h1v-2zM786 407v1h1v-1zM787 406v1h1v-1z" fill="#000"/>
<path d="M754 462h2v1h-2zM762 462h2v1h-2zM767 462h2v1h-2zM772 462h2v1h-2zM777 462h2v1h-2zM782 462h2v1h-2zM787 462h2v1h-2zM754 456h2v1h-2zM762 456h2v1h-2zM767 456h2v1h-2zM772 456h2v1h-2zM777 456h2v1h-2zM782 456h2v1h-2zM787 456h2v1h-2zM753 457v5h1v-5zM756 457v5h1v-5zM761 457v5h1v-5zM764 457v5h1v-5zM766 457v5h1v-5zM769 457v5h1v-5zM771 457v5h1v-5zM774 457v5h1v-5zM776 457v5h1v-5zM779 457v5h1v-5zM781 457v5h1v-5zM784 457v5h1v-5zM786 457v5h1v-5zM789 457v5h1v-5zM759 461v2h1v-2z" fill="#000"/>
<path d="M757 481h2v1h-2zM765 481h2v1h-2zM770 481h2v1h-2zM774 481h4v1h-4zM785 481h2v1h-2zM789 481h3v1h-3zM753 479h2v1h-2zM757 475h2v1h-2zM765 475h2v1h-2zM770 475h2v1h-2zM774 475h3v1h-3zM779 475h4v1h-4zM785 475h2v1h-2zM789 475h4v1h-4zM785 478h2v1h-2zM789 478h3v1h-3zM762 480v2h1v-2zM779 481v1h1v-1zM756 476v5h1v-5zM759 476v5h1v-5zM764 476v5h1v-5zM767 476v5h1v-5zM769 476v5h1v-5zM772 476v5h1v-5zM774 480v1h1v-1zM780 479v2h1v-2zM784 476v2h1v-2zM784 479v2h1v-2zM787 476v2h1v-2zM787 479v2h1v-2zM792 479v2h1v-2zM777 476v2h1v-2zM782 476v1h1v-1zM789 476v2h1v-2zM775 479v1h1v-1zM781 477v2h1v-2zM776 478v1h1v-1z" fill="#000"/>
<rect x="748" y="483" width="4" height="1" fill="#000"/>
<rect x="748" y="487" width="4" height="1" fill="#000"/>
<path d="M754 489h2v1h-2zM759 488h2v1h-2zM764 488h2v1h-2zM772 488h2v1h-2zM777 488h2v1h-2zM754 494h3v1h-3zM759 494h2v1h-2zM764 494h2v1h-2zM772 494h2v1h-2zM777 494h2v1h-2zM755 488v1h1v-1zM755 490v4h1v-4zM758 489v5h1v-5zM761 489v5h1v-5zM763 489v5h1v-5zM766 489v5h1v-5zM771 489v5h1v-5zM774 489v5h1v-5zM776 489v5h1v-5zM779 489v5h1v-5zM769 493v2h1v-2z" fill="#000"/>
<rect x="748" y="505" width="4" height="1" fill="#000"/>
<path d="M754 502h2v1h-2zM759 502h2v1h-2zM767 502h2v1h-2zM772 502h2v1h-2zM754 508h2v1h-2zM759 508h2v1h-2zM767 508h2v1h-2zM772 508h2v1h-2zM754 505h2v1h-2zM764 507v2h1v-2zM753 503v2h1v-2zM753 506v2h1v-2zM756 503v2h1v-2zM756 506v2h1v-2zM758 503v5h1v-5zM761 503v5h1v-5zM766 503v5h1v-5zM769 503v5h1v-5zM771 503v5h1v-5zM774 503v5h1v-5z" fill="#000"/>
<rect x="748" y="560" width="4" height="1" fill="#000"/>
<path d="M753 557h3v1h-3zM759 557h2v1h-2zM767 557h2v1h-2zM772 557h2v1h-2zM753 563h4v1h-4zM759 563h2v1h-2zM767 563h2v1h-2zM772 563h2v1h-2zM756 558v2h1v-2zM758 558v5h1v-5zM761 558v5h1v-5zM766 558v5h1v-5zM769 558v5h1v-5zM771 558v5h1v-5zM774 558v5h1v-5zM764 562v2h1v-2zM755 560v1h1v-1zM753 562v1h1v-1zM754 561v1h1v-1z" fill="#000"/>
<path d="M754 570h2v1h-2zM762 570h2v1h-2zM767 570h2v1h-2zM754 576h2v1h-2zM762 576h2v1h-2zM767 576h2v1h-2zM759 575v2h1v-2zM753 571v5h1v-5zM756 571v5h1v-5zM761 571v5h1v-5zM764 571v5h1v-5zM766 571v5h1v-5zM769 571v5h1v-5z" fill="#000"/>
<rect x="748" y="578" width="4" height="1" fill="#000"/>
<rect x="2" y="580" width="1" height="4" fill="#000"/>
<path d="M47 589h5v1h-5zM49 586h2v1h-2zM2 585h3v1h-3zM7 585h4v1h-4zM16 585h2v1h-2zM32 585h3v1h-3zM38 585h2v1h-2zM42 585h3v1h-3zM24 587h3v1h-3zM2 591h4v1h-4zM15 591h2v1h-2zM20 591h3v1h-3zM32 591h4v1h-4zM38 591h2v1h-2zM42 591h4v1h-4zM3 589v1h1v-1zM8 589v2h1v-2zM17 586v5h1v-5zM19 587v4h1v-4zM22 587v4h1v-4zM24 588v4h1v-4zM27 588v4h1v-4zM33 589v1h1v-1zM37 586v5h1v-5zM40 586v5h1v-5zM43 589v1h1v-1zM5 586v2h1v-2zM10 586v1h1v-1zM35 586v2h1v-2zM45 586v2h1v-2zM50 585v1h1v-1zM50 587v2h1v-2zM50 590v2h1v-2zM9 587v2h1v-2zM48 587v1h1v-1zM7 591v1h1v-1zM4 588v1h1v-1zM34 588v1h1v-1zM44 588v1h1v-1zM47 588v1h1v-1zM2 590v1h1v-1zM32 590v1h1v-1zM42 590v1h1v-1z" fill="#000"/>
<rect x="66" y="580" width="1" height="4" fill="#000"/>
<path d="M66 591h4v1h-4zM72 591h2v1h-2zM79 591h2v1h-2zM84 591h3v1h-3zM96 591h4v1h-4zM102 591h2v1h-2zM110 591h2v1h-2zM115 591h2v1h-2zM72 588h2v1h-2zM66 585h3v1h-3zM72 585h2v1h-2zM80 585h2v1h-2zM96 585h3v1h-3zM102 585h2v1h-2zM110 585h2v1h-2zM115 585h2v1h-2zM88 587h3v1h-3zM66 590v1h1v-1zM71 586v2h1v-2zM71 589v2h1v-2zM74 586v2h1v-2zM74 589v2h1v-2zM81 586v5h1v-5zM83 587v4h1v-4zM86 587v4h1v-4zM88 588v4h1v-4zM91 588v4h1v-4zM96 590v1h1v-1zM101 586v5h1v-5zM104 586v5h1v-5zM107 587v2h1v-2zM107 590v2h1v-2zM109 586v5h1v-5zM112 586v5h1v-5zM114 586v5h1v-5zM117 586v5h1v-5zM68 588v1h1v-1zM98 588v1h1v-1zM69 586v2h1v-2zM99 586v2h1v-2zM67 589v1h1v-1zM97 589v1h1v-1z" fill="#000"/>
<rect x="130" y="580" width="1" height="4" fill="#000"/>
<path d="M159 586h2v1h-2zM157 589h5v1h-5zM130 585h3v1h-3zM139 585h2v1h-2zM153 585h2v1h-2zM166 585h2v1h-2zM171 585h2v1h-2zM130 591h4v1h-4zM138 591h2v1h-2zM143 591h3v1h-3zM153 591h2v1h-2zM166 591h2v1h-2zM171 591h2v1h-2zM133 586v2h1v-2zM140 586v5h1v-5zM147 584v8h1v-8zM152 586v5h1v-5zM155 586v5h1v-5zM165 586v5h1v-5zM168 586v5h1v-5zM170 586v5h1v-5zM173 586v5h1v-5zM131 589v1h1v-1zM142 587v4h1v-4zM145 587v4h1v-4zM132 588v1h1v-1zM157 588v1h1v-1zM160 585v1h1v-1zM160 587v2h1v-2zM160 590v2h1v-2zM163 587v2h1v-2zM163 590v2h1v-2zM158 587v1h1v-1zM130 590v1h1v-1z" fill="#000"/>
<rect x="194" y="580" width="1" height="4" fill="#000"/>
<path d="M195 588h2v1h-2zM194 591h3v1h-3zM202 591h2v1h-2zM207 591h3v1h-3zM217 591h3v1h-3zM221 591h4v1h-4zM230 591h2v1h-2zM235 591h2v1h-2zM194 585h3v1h-3zM203 585h2v1h-2zM221 585h3v1h-3zM230 585h2v1h-2zM235 585h2v1h-2zM217 586h2v1h-2zM204 586v5h1v-5zM206 587v4h1v-4zM209 587v4h1v-4zM211 584v8h1v-8zM218 585v1h1v-1zM218 587v4h1v-4zM223 588v1h1v-1zM227 587v2h1v-2zM227 590v2h1v-2zM229 586v5h1v-5zM232 586v5h1v-5zM234 586v5h1v-5zM237 586v5h1v-5zM197 586v2h1v-2zM197 589v2h1v-2zM222 589v1h1v-1zM221 590v1h1v-1zM224 586v2h1v-2z" fill="#000"/>
<rect x="258" y="580" width="1" height="4" fill="#000"/>
<path d="M258 589h5v1h-5zM260 586h2v1h-2zM266 591h2v1h-2zM271 591h3v1h-3zM280 591h4v1h-4zM286 591h2v1h-2zM294 591h2v1h-2zM299 591h2v1h-2zM267 585h2v1h-2zM280 585h3v1h-3zM286 585h2v1h-2zM294 585h2v1h-2zM299 585h2v1h-2zM268 586v5h1v-5zM270 587v4h1v-4zM273 587v4h1v-4zM275 584v8h1v-8zM281 589v1h1v-1zM285 586v5h1v-5zM288 586v5h1v-5zM293 586v5h1v-5zM296 586v5h1v-5zM298 586v5h1v-5zM301 586v5h1v-5zM283 586v2h1v-2zM261 585v1h1v-1zM261 587v2h1v-2zM261 590v2h1v-2zM291 587v2h1v-2zM291 590v2h1v-2zM259 587v1h1v-1zM258 588v1h1v-1zM282 588v1h1v-1zM280 590v1h1v-1z" fill="#000"/>
<rect x="322" y="580" width="1" height="4" fill="#000"/>
<path d="M323 585h2v1h-2zM331 585h2v1h-2zM345 585h2v1h-2zM358 585h2v1h-2zM363 585h2v1h-2zM323 588h2v1h-2zM351 586h2v1h-2zM349 589h5v1h-5zM323 591h2v1h-2zM330 591h2v1h-2zM335 591h3v1h-3zM345 591h2v1h-2zM358 591h2v1h-2zM363 591h2v1h-2zM339 584v8h1v-8zM352 585v1h1v-1zM352 587v2h1v-2zM352 590v2h1v-2zM332 586v5h1v-5zM334 587v4h1v-4zM337 587v4h1v-4zM344 586v5h1v-5zM347 586v5h1v-5zM349 588v1h1v-1zM355 587v2h1v-2zM355 590v2h1v-2zM357 586v5h1v-5zM360 586v5h1v-5zM362 586v5h1v-5zM365 586v5h1v-5zM322 586v2h1v-2zM322 589v2h1v-2zM325 586v2h1v-2zM325 589v2h1v-2zM350 587v1h1v-1z" fill="#000"/>
<rect x="386" y="580" width="1" height="4" fill="#000"/>
<path d="M409 586h2v1h-2zM387 585h2v1h-2zM395 585h2v1h-2zM413 585h3v1h-3zM422 585h2v1h-2zM427 585h2v1h-2zM387 591h2v1h-2zM394 591h2v1h-2zM399 591h3v1h-3zM409 591h3v1h-3zM413 591h4v1h-4zM422 591h2v1h-2zM427 591h2v1h-2zM387 588h3v1h-3zM386 586v2h1v-2zM389 586v2h1v-2zM389 589v2h1v-2zM396 586v5h1v-5zM398 587v4h1v-4zM401 587v4h1v-4zM403 584v8h1v-8zM410 585v1h1v-1zM410 587v4h1v-4zM416 586v2h1v-2zM419 587v2h1v-2zM419 590v2h1v-2zM421 586v5h1v-5zM424 586v5h1v-5zM426 586v5h1v-5zM429 586v5h1v-5zM415 588v1h1v-1zM413 590v1h1v-1zM414 589v1h1v-1z" fill="#000"/>
<rect x="450" y="580" width="1" height="4" fill="#000"/>
<path d="M451 586h2v1h-2zM456 585h2v1h-2zM464 585h2v1h-2zM477 585h3v1h-3zM483 585h2v1h-2zM491 585h2v1h-2zM496 585h2v1h-2zM451 591h3v1h-3zM456 591h2v1h-2zM463 591h2v1h-2zM468 591h3v1h-3zM477 591h4v1h-4zM483 591h2v1h-2zM491 591h2v1h-2zM496 591h2v1h-2zM452 585v1h1v-1zM452 587v4h1v-4zM455 586v5h1v-5zM458 586v5h1v-5zM465 586v5h1v-5zM467 587v4h1v-4zM470 587v4h1v-4zM472 584v8h1v-8zM477 590v1h1v-1zM482 586v5h1v-5zM485 586v5h1v-5zM488 587v2h1v-2zM488 590v2h1v-2zM490 586v5h1v-5zM493 586v5h1v-5zM495 586v5h1v-5zM498 586v5h1v-5zM480 586v2h1v-2zM478 589v1h1v-1zM479 588v1h1v-1z" fill="#000"/>
<rect x="514" y="580" width="1" height="4" fill="#000"/>
<path d="M546 589h5v1h-5zM519 585h3v1h-3zM528 585h2v1h-2zM542 585h2v1h-2zM555 585h2v1h-2zM560 585h2v1h-2zM515 591h3v1h-3zM519 591h4v1h-4zM527 591h2v1h-2zM532 591h3v1h-3zM542 591h2v1h-2zM555 591h2v1h-2zM560 591h2v1h-2zM515 586h2v1h-2zM548 586h2v1h-2zM516 585v1h1v-1zM516 587v4h1v-4zM520 589v1h1v-1zM529 586v5h1v-5zM531 587v4h1v-4zM534 587v4h1v-4zM536 584v8h1v-8zM541 586v5h1v-5zM544 586v5h1v-5zM554 586v5h1v-5zM557 586v5h1v-5zM559 586v5h1v-5zM562 586v5h1v-5zM549 585v1h1v-1zM549 587v2h1v-2zM549 590v2h1v-2zM522 586v2h1v-2zM547 587v1h1v-1zM552 587v2h1v-2zM552 590v2h1v-2zM521 588v1h1v-1zM546 588v1h1v-1zM519 590v1h1v-1z" fill="#000"/>
<rect x="578" y="580" width="1" height="4" fill="#000"/>
<path d="M579 586h2v1h-2zM606 586h2v1h-2zM583 585h4v1h-4zM592 585h2v1h-2zM610 585h3v1h-3zM619 585h2v1h-2zM624 585h2v1h-2zM579 591h3v1h-3zM583 591h3v1h-3zM591 591h2v1h-2zM596 591h3v1h-3zM606 591h3v1h-3zM610 591h4v1h-4zM619 591h2v1h-2zM624 591h2v1h-2zM583 588h3v1h-3zM583 586v2h1v-2zM593 586v5h1v-5zM600 584v8h1v-8zM613 586v2h1v-2zM618 586v5h1v-5zM621 586v5h1v-5zM623 586v5h1v-5zM626 586v5h1v-5zM580 585v1h1v-1zM580 587v4h1v-4zM607 585v1h1v-1zM607 587v4h1v-4zM616 587v2h1v-2zM616 590v2h1v-2zM595 587v4h1v-4zM598 587v4h1v-4zM612 588v1h1v-1zM586 589v2h1v-2zM611 589v1h1v-1zM610 590v1h1v-1z" fill="#000"/>
<rect x="642" y="580" width="1" height="4" fill="#000"/>
<path d="M643 591h3v1h-3zM648 591h2v1h-2zM655 591h2v1h-2zM660 591h3v1h-3zM669 591h4v1h-4zM675 591h2v1h-2zM683 591h2v1h-2zM688 591h2v1h-2zM643 586h2v1h-2zM647 588h3v1h-3zM648 585h2v1h-2zM656 585h2v1h-2zM669 585h3v1h-3zM675 585h2v1h-2zM683 585h2v1h-2zM688 585h2v1h-2zM644 585v1h1v-1zM644 587v4h1v-4zM647 586v2h1v-2zM647 589v2h1v-2zM650 589v2h1v-2zM657 586v5h1v-5zM659 587v4h1v-4zM662 587v4h1v-4zM664 584v8h1v-8zM670 589v1h1v-1zM674 586v5h1v-5zM677 586v5h1v-5zM682 586v5h1v-5zM685 586v5h1v-5zM687 586v5h1v-5zM690 586v5h1v-5zM680 587v2h1v-2zM680 590v2h1v-2zM672 586v2h1v-2zM671 588v1h1v-1zM669 590v1h1v-1z" fill="#000"/>
<rect x="706" y="580" width="1" height="4" fill="#000"/>
<path d="M712 588h2v1h-2zM738 589h5v1h-5zM712 585h2v1h-2zM720 585h2v1h-2zM734 585h2v1h-2zM747 585h2v1h-2zM752 585h2v1h-2zM707 591h3v1h-3zM712 591h2v1h-2zM719 591h2v1h-2zM724 591h3v1h-3zM734 591h2v1h-2zM747 591h2v1h-2zM752 591h2v1h-2zM707 586h2v1h-2zM740 586h2v1h-2zM708 585v1h1v-1zM708 587v4h1v-4zM721 586v5h1v-5zM723 587v4h1v-4zM726 587v4h1v-4zM728 584v8h1v-8zM733 586v5h1v-5zM736 586v5h1v-5zM738 588v1h1v-1zM741 585v1h1v-1zM741 587v2h1v-2zM741 590v2h1v-2zM744 587v2h1v-2zM744 590v2h1v-2zM746 586v5h1v-5zM749 586v5h1v-5zM751 586v5h1v-5zM754 586v5h1v-5zM711 586v2h1v-2zM711 589v2h1v-2zM714 586v2h1v-2zM714 589v2h1v-2zM739 587v1h1v-1z" fill="#000"/>
<rect x="6" y="5" width="148" height="9" fill="#fff"/>
<path d="M91 8h2v1h-2zM105 8h2v1h-2zM135 8h2v1h-2zM144 8h2v1h-2zM7 9h4v1h-4zM20 9h4v1h-4zM34 9h3v1h-3zM55 9h6v1h-6zM76 9h4v1h-4zM87 9h2v1h-2zM119 9h3v1h-3zM148 9h2v1h-2zM62 10h5v1h-5zM144 10h3v1h-3zM7 6h5v1h-5zM20 6h4v1h-4zM34 6h4v1h-4zM39 6h4v1h-4zM76 6h5v1h-5zM119 6h4v1h-4zM127 6h4v1h-4zM7 12h5v1h-5zM14 12h4v1h-4zM27 12h4v1h-4zM33 12h4v1h-4zM39 12h4v1h-4zM76 12h5v1h-5zM83 12h3v1h-3zM91 12h2v1h-2zM104 12h2v1h-2zM112 12h4v1h-4zM118 12h4v1h-4zM127 12h4v1h-4zM135 12h2v1h-2zM144 12h3v1h-3zM64 7h2v1h-2zM7 7v2h1v-2zM7 10v2h1v-2zM13 6v6h1v-6zM18 6v6h1v-6zM20 7v2h1v-2zM20 10v3h1v-3zM24 7v2h1v-2zM24 12v1h1v-1zM26 6v6h1v-6zM31 6v6h1v-6zM33 7v2h1v-2zM39 7v5h1v-5zM44 8v3h1v-3zM55 6v3h1v-3zM55 10v3h1v-3zM60 6v3h1v-3zM60 10v3h1v-3zM63 8v1h1v-1zM65 6v1h1v-1zM65 8v2h1v-2zM65 11v2h1v-2zM68 8v2h1v-2zM68 11v2h1v-2zM76 7v2h1v-2zM76 10v2h1v-2zM82 8v4h1v-4zM85 8v4h1v-4zM87 8v1h1v-1zM87 10v3h1v-3zM89 8v1h1v-1zM98 8v1h1v-1zM102 8v1h1v-1zM111 6v6h1v-6zM116 6v6h1v-6zM118 7v2h1v-2zM127 7v5h1v-5zM132 8v3h1v-3zM139 5v8h1v-8zM141 5v8h1v-8zM148 8v1h1v-1zM148 10v3h1v-3zM150 8v1h1v-1zM23 11v1h1v-1zM37 10v2h1v-2zM43 7v1h1v-1zM43 11v1h1v-1zM47 11v2h1v-2zM50 11v2h1v-2zM90 9v3h1v-3zM93 9v3h1v-3zM99 9v3h1v-3zM101 9v3h1v-3zM106 11v1h1v-1zM122 10v2h1v-2zM131 7v1h1v-1zM131 11v1h1v-1zM134 9v3h1v-3zM137 9v3h1v-3zM143 11v1h1v-1zM146 9v1h1v-1zM146 11v1h1v-1zM62 9v1h1v-1zM104 9v1h1v-1zM22 10v1h1v-1zM105 10v1h1v-1zM100 12v1h1v-1zM49 13v1h1v-1z" fill="#000"/>
<rect x="5" y="314" width="62" height="9" fill="#fff"/>
<path d="M26 316h2v1h-2zM32 316h2v1h-2zM55 316h2v1h-2zM30 319h5v1h-5zM6 315h4v1h-4zM13 315h4v1h-4zM18 315h3v1h-3zM42 315h2v1h-2zM46 315h3v1h-3zM60 315h2v1h-2zM12 321h4v1h-4zM18 321h3v1h-3zM26 321h3v1h-3zM42 321h2v1h-2zM46 321h3v1h-3zM55 321h3v1h-3zM60 321h2v1h-2zM6 318h4v1h-4zM13 318h3v1h-3zM41 318h3v1h-3zM47 318h2v1h-2zM60 318h2v1h-2zM6 316v2h1v-2zM6 319v3h1v-3zM10 316v2h1v-2zM10 321v1h1v-1zM12 316v2h1v-2zM19 316v5h1v-5zM22 316v6h1v-6zM36 316v6h1v-6zM41 316v2h1v-2zM41 319v2h1v-2zM49 316v2h1v-2zM49 319v2h1v-2zM59 316v2h1v-2zM59 319v2h1v-2zM62 316v2h1v-2zM62 319v2h1v-2zM9 320v1h1v-1zM16 319v2h1v-2zM27 315v1h1v-1zM27 317v4h1v-4zM33 315v1h1v-1zM33 317v2h1v-2zM33 320v2h1v-2zM44 319v2h1v-2zM52 320v2h1v-2zM56 315v1h1v-1zM56 317v4h1v-4zM8 319v1h1v-1zM23 315v1h1v-1zM23 322v1h1v-1zM35 315v1h1v-1zM35 322v1h1v-1zM30 318v1h1v-1zM31 317v1h1v-1zM24 314v1h1v-1zM24 323v1h1v-1zM34 314v1h1v-1zM34 323v1h1v-1z" fill="#000"/>
<rect x="5" y="407" width="60" height="9" fill="#fff"/>
<path d="M8 409h2v1h-2zM8 408h2v1h-2zM15 408h3v1h-3zM25 408h2v1h-2zM33 408h2v1h-2zM38 408h2v1h-2zM42 408h3v1h-3zM48 408h2v1h-2zM52 408h3v1h-3zM57 408h3v1h-3zM15 414h3v1h-3zM25 414h2v1h-2zM33 414h2v1h-2zM38 414h2v1h-2zM42 414h3v1h-3zM48 414h2v1h-2zM52 414h4v1h-4zM57 414h4v1h-4zM6 412h6v1h-6zM43 411h2v1h-2zM48 411h3v1h-3zM6 413v2h1v-2zM11 413v2h1v-2zM14 409v1h1v-1zM14 413v1h1v-1zM18 409v1h1v-1zM18 413v1h1v-1zM24 409v5h1v-5zM27 409v5h1v-5zM30 413v2h1v-2zM32 409v5h1v-5zM35 409v5h1v-5zM37 409v5h1v-5zM40 409v5h1v-5zM45 409v2h1v-2zM45 412v2h1v-2zM50 409v2h1v-2zM50 412v2h1v-2zM52 413v1h1v-1zM57 413v1h1v-1zM47 409v2h1v-2zM55 409v2h1v-2zM60 409v2h1v-2zM7 410v2h1v-2zM10 410v2h1v-2zM13 410v3h1v-3zM19 410v3h1v-3zM53 412v1h1v-1zM58 412v1h1v-1zM54 411v1h1v-1zM59 411v1h1v-1z" fill="#000"/>
<rect x="5" y="491" width="111" height="9" fill="#fff"/>
<path d="M37 496h5v1h-5zM7 492h4v1h-4zM45 492h3v1h-3zM53 492h4v1h-4zM65 492h2v1h-2zM69 492h3v1h-3zM78 492h2v1h-2zM91 492h2v1h-2zM95 492h3v1h-3zM104 492h2v1h-2zM108 492h3v1h-3zM7 495h3v1h-3zM46 495h2v1h-2zM53 495h3v1h-3zM65 495h2v1h-2zM91 495h2v1h-2zM96 495h2v1h-2zM109 495h2v1h-2zM6 498h4v1h-4zM16 498h2v1h-2zM21 498h2v1h-2zM33 498h3v1h-3zM45 498h3v1h-3zM53 498h3v1h-3zM65 498h2v1h-2zM69 498h4v1h-4zM78 498h2v1h-2zM83 498h3v1h-3zM91 498h2v1h-2zM95 498h3v1h-3zM104 498h2v1h-2zM108 498h3v1h-3zM33 493h2v1h-2zM39 493h2v1h-2zM83 493h2v1h-2zM12 494h2v1h-2zM16 494h2v1h-2zM21 494h2v1h-2zM24 494h3v1h-3zM10 496v2h1v-2zM12 493v1h1v-1zM12 495v3h1v-3zM15 495v3h1v-3zM18 495v3h1v-3zM20 495v3h1v-3zM24 491v3h1v-3zM24 495v4h1v-4zM27 495v4h1v-4zM29 493v6h1v-6zM34 492v1h1v-1zM34 494v4h1v-4zM48 493v2h1v-2zM48 496v2h1v-2zM56 496v2h1v-2zM59 493v6h1v-6zM64 493v2h1v-2zM64 496v2h1v-2zM67 493v2h1v-2zM67 496v2h1v-2zM70 496v1h1v-1zM77 493v5h1v-5zM80 493v5h1v-5zM84 492v1h1v-1zM84 494v4h1v-4zM90 493v2h1v-2zM90 496v2h1v-2zM93 493v2h1v-2zM93 496v2h1v-2zM98 493v2h1v-2zM98 496v2h1v-2zM103 493v5h1v-5zM106 493v5h1v-5zM111 493v2h1v-2zM111 496v2h1v-2zM30 492v1h1v-1zM30 499v1h1v-1zM40 492v1h1v-1zM40 494v2h1v-2zM40 497v2h1v-2zM58 492v1h1v-1zM58 499v1h1v-1zM37 495v1h1v-1zM71 495v1h1v-1zM13 498v1h1v-1zM43 497v2h1v-2zM51 497v2h1v-2zM75 497v2h1v-2zM101 497v2h1v-2zM6 493v2h1v-2zM53 493v2h1v-2zM72 493v2h1v-2zM38 494v1h1v-1zM69 497v1h1v-1zM42 499v1h1v-1zM50 499v1h1v-1zM31 491v1h1v-1zM31 500v1h1v-1zM57 491v1h1v-1zM57 500v1h1v-1z" fill="#000"/>
</svg>
</body></html>
